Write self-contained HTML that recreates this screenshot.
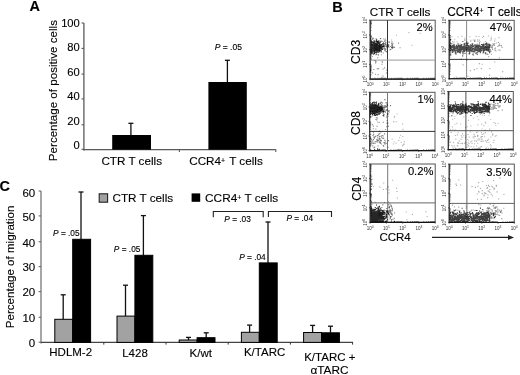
<!DOCTYPE html>
<html><head><meta charset="utf-8"><style>
html,body{margin:0;padding:0;background:#fff;}
svg{display:block;font-family:'Liberation Sans', Arial, Helvetica, sans-serif;}
</style></head><body>
<svg width="520" height="375" viewBox="0 0 520 375">
<rect width="520" height="375" fill="#fff"/>
<text x="29.6" y="10.9" font-size="14.5" text-anchor="start" font-weight="bold" fill="#000" stroke="#000" stroke-width="0.12" >A</text>
<line x1="83.9" y1="23.0" x2="83.9" y2="150.7" stroke="#5a5a5a" stroke-width="1.3"/>
<line x1="81.5" y1="23.0" x2="83.9" y2="23.0" stroke="#5a5a5a" stroke-width="1.1"/>
<text x="79.8" y="27.3" font-size="11.2" text-anchor="end" font-weight="normal" fill="#000" stroke="#000" stroke-width="0.12" >100</text>
<line x1="81.5" y1="48.4" x2="83.9" y2="48.4" stroke="#5a5a5a" stroke-width="1.1"/>
<text x="79.8" y="50.5" font-size="11.2" text-anchor="end" font-weight="normal" fill="#000" stroke="#000" stroke-width="0.12" >80</text>
<line x1="81.5" y1="74.1" x2="83.9" y2="74.1" stroke="#5a5a5a" stroke-width="1.1"/>
<text x="79.8" y="76.2" font-size="11.2" text-anchor="end" font-weight="normal" fill="#000" stroke="#000" stroke-width="0.12" >60</text>
<line x1="81.5" y1="98.9" x2="83.9" y2="98.9" stroke="#5a5a5a" stroke-width="1.1"/>
<text x="79.8" y="100.2" font-size="11.2" text-anchor="end" font-weight="normal" fill="#000" stroke="#000" stroke-width="0.12" >40</text>
<line x1="81.5" y1="124.8" x2="83.9" y2="124.8" stroke="#5a5a5a" stroke-width="1.1"/>
<text x="79.8" y="125.3" font-size="11.2" text-anchor="end" font-weight="normal" fill="#000" stroke="#000" stroke-width="0.12" >20</text>
<line x1="81.5" y1="149.3" x2="83.9" y2="149.3" stroke="#5a5a5a" stroke-width="1.1"/>
<text x="79.8" y="149.3" font-size="11.2" text-anchor="end" font-weight="normal" fill="#000" stroke="#000" stroke-width="0.12" >0</text>
<line x1="83.9" y1="149.7" x2="275.8" y2="149.7" stroke="#5a5a5a" stroke-width="1.3"/>
<line x1="179.4" y1="149.7" x2="179.4" y2="151.89999999999998" stroke="#5a5a5a" stroke-width="1.1"/>
<line x1="275.8" y1="149.2" x2="275.8" y2="151.89999999999998" stroke="#5a5a5a" stroke-width="1.1"/>
<rect x="112.2" y="135.0" width="38.8" height="14.699999999999989" fill="#000" stroke="none" stroke-width="1"/>
<line x1="130.9" y1="123.3" x2="130.9" y2="135" stroke="#111" stroke-width="1.3"/>
<line x1="128.4" y1="123.3" x2="133.4" y2="123.3" stroke="#111" stroke-width="1.3"/>
<rect x="208.4" y="82.0" width="38.4" height="67.69999999999999" fill="#000" stroke="none" stroke-width="1"/>
<line x1="227.4" y1="60.3" x2="227.4" y2="82" stroke="#111" stroke-width="1.3"/>
<line x1="224.9" y1="60.3" x2="229.9" y2="60.3" stroke="#111" stroke-width="1.3"/>
<text x="214.7" y="49.7" font-size="8.5" text-anchor="start" font-weight="normal" fill="#000" stroke="#000" stroke-width="0.12" ><tspan font-style="italic">P</tspan> = .05</text>
<text x="131.7" y="165.3" font-size="11.7" text-anchor="middle" font-weight="normal" fill="#000" stroke="#000" stroke-width="0.12" >CTR T cells</text>
<text x="226.0" y="165.3" font-size="11.7" text-anchor="middle" font-weight="normal" fill="#000" stroke="#000" stroke-width="0.12" >CCR4<tspan font-size="7" dy="-2.7">+</tspan><tspan dy="2.7" dx="1.0"> T cells</tspan></text>
<text x="0" y="0" font-size="11.6" text-anchor="middle" font-weight="normal" fill="#000" stroke="#000" stroke-width="0.12" transform="translate(57.4,90.6) rotate(-90)">Percentage of positive cells</text>
<text x="-0.6" y="190.8" font-size="14.5" text-anchor="start" font-weight="bold" fill="#000" stroke="#000" stroke-width="0.12" >C</text>
<line x1="41.0" y1="191" x2="41.0" y2="343.4" stroke="#888" stroke-width="1.5"/>
<line x1="38.6" y1="191.0" x2="41.0" y2="191.0" stroke="#666" stroke-width="1.1"/>
<text x="35.2" y="197.0" font-size="11.5" text-anchor="end" font-weight="normal" fill="#000" stroke="#000" stroke-width="0.12" >60</text>
<line x1="38.6" y1="215.9" x2="41.0" y2="215.9" stroke="#666" stroke-width="1.1"/>
<text x="35.2" y="221.0" font-size="11.5" text-anchor="end" font-weight="normal" fill="#000" stroke="#000" stroke-width="0.12" >50</text>
<line x1="38.6" y1="241.7" x2="41.0" y2="241.7" stroke="#666" stroke-width="1.1"/>
<text x="35.2" y="247.0" font-size="11.5" text-anchor="end" font-weight="normal" fill="#000" stroke="#000" stroke-width="0.12" >40</text>
<line x1="38.6" y1="266.6" x2="41.0" y2="266.6" stroke="#666" stroke-width="1.1"/>
<text x="35.2" y="271.0" font-size="11.5" text-anchor="end" font-weight="normal" fill="#000" stroke="#000" stroke-width="0.12" >30</text>
<line x1="38.6" y1="291.6" x2="41.0" y2="291.6" stroke="#666" stroke-width="1.1"/>
<text x="35.2" y="295.9" font-size="11.5" text-anchor="end" font-weight="normal" fill="#000" stroke="#000" stroke-width="0.12" >20</text>
<line x1="38.6" y1="317.3" x2="41.0" y2="317.3" stroke="#666" stroke-width="1.1"/>
<text x="35.2" y="322.0" font-size="11.5" text-anchor="end" font-weight="normal" fill="#000" stroke="#000" stroke-width="0.12" >10</text>
<line x1="38.6" y1="342.2" x2="41.0" y2="342.2" stroke="#666" stroke-width="1.1"/>
<text x="35.2" y="346.8" font-size="11.5" text-anchor="end" font-weight="normal" fill="#000" stroke="#000" stroke-width="0.12" >0</text>
<line x1="41.0" y1="342.4" x2="353.0" y2="342.4" stroke="#444" stroke-width="1.2"/>
<line x1="103.80000000000001" y1="342.4" x2="103.80000000000001" y2="344.59999999999997" stroke="#333" stroke-width="1.0"/>
<line x1="166.0" y1="342.4" x2="166.0" y2="344.59999999999997" stroke="#333" stroke-width="1.0"/>
<line x1="228.2" y1="342.4" x2="228.2" y2="344.59999999999997" stroke="#333" stroke-width="1.0"/>
<line x1="290.40000000000003" y1="342.4" x2="290.40000000000003" y2="344.59999999999997" stroke="#333" stroke-width="1.0"/>
<line x1="352.6" y1="342.4" x2="352.6" y2="344.59999999999997" stroke="#333" stroke-width="1.0"/>
<line x1="63.2" y1="294.8" x2="63.2" y2="319.3" stroke="#111" stroke-width="1.3"/>
<line x1="60.7" y1="294.8" x2="65.7" y2="294.8" stroke="#111" stroke-width="1.3"/>
<line x1="81.0" y1="192.0" x2="81.0" y2="239.3" stroke="#111" stroke-width="1.3"/>
<line x1="78.5" y1="192.0" x2="83.5" y2="192.0" stroke="#111" stroke-width="1.3"/>
<rect x="54.800000000000004" y="319.3" width="17.9" height="23.099999999999966" fill="#a2a2a2" stroke="#000" stroke-width="1.0"/>
<rect x="72.7" y="239.3" width="17.9" height="103.09999999999997" fill="#000" stroke="#000" stroke-width="1.0"/>
<line x1="125.5" y1="285.2" x2="125.5" y2="316.1" stroke="#111" stroke-width="1.3"/>
<line x1="123.0" y1="285.2" x2="128.0" y2="285.2" stroke="#111" stroke-width="1.3"/>
<line x1="143.4" y1="215.6" x2="143.4" y2="255.3" stroke="#111" stroke-width="1.3"/>
<line x1="140.9" y1="215.6" x2="145.9" y2="215.6" stroke="#111" stroke-width="1.3"/>
<rect x="117.0" y="316.1" width="17.9" height="26.299999999999955" fill="#a2a2a2" stroke="#000" stroke-width="1.0"/>
<rect x="134.9" y="255.3" width="17.9" height="87.09999999999997" fill="#000" stroke="#000" stroke-width="1.0"/>
<line x1="188.5" y1="337.4" x2="188.5" y2="340.0" stroke="#111" stroke-width="1.3"/>
<line x1="186.0" y1="337.4" x2="191.0" y2="337.4" stroke="#111" stroke-width="1.3"/>
<line x1="206.2" y1="332.8" x2="206.2" y2="337.7" stroke="#111" stroke-width="1.3"/>
<line x1="203.7" y1="332.8" x2="208.7" y2="332.8" stroke="#111" stroke-width="1.3"/>
<rect x="179.20000000000002" y="340.0" width="17.9" height="2.3999999999999773" fill="#a2a2a2" stroke="#000" stroke-width="1.0"/>
<rect x="197.10000000000002" y="337.7" width="17.9" height="4.699999999999989" fill="#000" stroke="#000" stroke-width="1.0"/>
<line x1="249.6" y1="325.1" x2="249.6" y2="332.3" stroke="#111" stroke-width="1.3"/>
<line x1="247.1" y1="325.1" x2="252.1" y2="325.1" stroke="#111" stroke-width="1.3"/>
<line x1="268.0" y1="222.0" x2="268.0" y2="262.9" stroke="#111" stroke-width="1.3"/>
<line x1="265.5" y1="222.0" x2="270.5" y2="222.0" stroke="#111" stroke-width="1.3"/>
<rect x="241.4" y="332.3" width="17.9" height="10.099999999999966" fill="#a2a2a2" stroke="#000" stroke-width="1.0"/>
<rect x="259.3" y="262.9" width="17.9" height="79.5" fill="#000" stroke="#000" stroke-width="1.0"/>
<line x1="312.6" y1="325.4" x2="312.6" y2="332.5" stroke="#111" stroke-width="1.3"/>
<line x1="310.1" y1="325.4" x2="315.1" y2="325.4" stroke="#111" stroke-width="1.3"/>
<line x1="330.5" y1="326.2" x2="330.5" y2="332.8" stroke="#111" stroke-width="1.3"/>
<line x1="328.0" y1="326.2" x2="333.0" y2="326.2" stroke="#111" stroke-width="1.3"/>
<rect x="303.6" y="332.5" width="17.9" height="9.899999999999977" fill="#a2a2a2" stroke="#000" stroke-width="1.0"/>
<rect x="321.5" y="332.8" width="17.9" height="9.599999999999966" fill="#000" stroke="#000" stroke-width="1.0"/>
<rect x="99.2" y="193.8" width="8.4" height="8.4" fill="#a2a2a2" stroke="#222" stroke-width="1.1"/>
<text x="112.5" y="201.7" font-size="11.7" text-anchor="start" font-weight="normal" fill="#000" stroke="#000" stroke-width="0.12" >CTR T cells</text>
<rect x="191.6" y="193.4" width="8.6" height="8.4" fill="#000" stroke="none" stroke-width="1"/>
<text x="205.1" y="201.7" font-size="11.8" text-anchor="start" font-weight="normal" fill="#000" stroke="#000" stroke-width="0.12" >CCR4<tspan font-size="7" dy="-1.6">+</tspan><tspan dy="1.6"> T cells</tspan></text>
<text x="79.6" y="236.3" font-size="8.3" text-anchor="end" font-weight="normal" fill="#000" stroke="#000" stroke-width="0.12" ><tspan font-style="italic">P</tspan> = .05</text>
<text x="140.4" y="252.4" font-size="8.3" text-anchor="end" font-weight="normal" fill="#000" stroke="#000" stroke-width="0.12" ><tspan font-style="italic">P</tspan> = .05</text>
<text x="265.7" y="259.7" font-size="8.3" text-anchor="end" font-weight="normal" fill="#000" stroke="#000" stroke-width="0.12" ><tspan font-style="italic">P</tspan> = .04</text>
<text x="237.6" y="221.8" font-size="8.3" text-anchor="middle" font-weight="normal" fill="#000" stroke="#000" stroke-width="0.12" ><tspan font-style="italic">P</tspan> = .03</text>
<text x="299.8" y="221.0" font-size="8.3" text-anchor="middle" font-weight="normal" fill="#000" stroke="#000" stroke-width="0.12" ><tspan font-style="italic">P</tspan> = .04</text>
<path d="M213.3,217.3 L213.3,211.5 L263.2,211.5 L263.2,217.3" stroke="#222" stroke-width="1.1" fill="none"/>
<path d="M268.4,216.9 L268.4,211.5 L331.5,211.5 L331.5,216.9" stroke="#222" stroke-width="1.1" fill="none"/>
<text x="70.7" y="355.8" font-size="11.5" text-anchor="middle" font-weight="normal" fill="#000" stroke="#000" stroke-width="0.12" >HDLM-2</text>
<text x="135.0" y="356.5" font-size="11.5" text-anchor="middle" font-weight="normal" fill="#000" stroke="#000" stroke-width="0.12" >L428</text>
<text x="200.8" y="356.6" font-size="11.5" text-anchor="middle" font-weight="normal" fill="#000" stroke="#000" stroke-width="0.12" >K/wt</text>
<text x="264.6" y="355.9" font-size="11.5" text-anchor="middle" font-weight="normal" fill="#000" stroke="#000" stroke-width="0.12" >K/TARC</text>
<text x="329.8" y="360.5" font-size="11.5" text-anchor="middle" font-weight="normal" fill="#000" stroke="#000" stroke-width="0.12" >K/TARC +</text>
<text x="329.5" y="374.0" font-size="11.8" text-anchor="middle" font-weight="normal" fill="#000" stroke="#000" stroke-width="0.12" >&#945;TARC</text>
<text x="0" y="0" font-size="11.55" text-anchor="middle" font-weight="normal" fill="#000" stroke="#000" stroke-width="0.12" transform="translate(14.1,266.85) rotate(-90)">Percentage of migration</text>
<text x="332.2" y="11.9" font-size="14.5" text-anchor="start" font-weight="bold" fill="#000" stroke="#000" stroke-width="0.12" >B</text>
<text x="400.1" y="16.3" font-size="11.7" text-anchor="middle" font-weight="normal" fill="#000" stroke="#000" stroke-width="0.12" >CTR T cells</text>
<text x="447.2" y="15.8" font-size="11.9" text-anchor="start" font-weight="normal" fill="#000" stroke="#000" stroke-width="0.12" >CCR4<tspan font-size="7" dy="-2.7">+</tspan><tspan dy="2.7" dx="0.8"> T cells</tspan></text>
<rect x="370.2" y="20.2" width="65.0" height="58.89999999999999" fill="none" stroke="#555" stroke-width="1.0"/>
<line x1="370.2" y1="20.2" x2="370.2" y2="79.1" stroke="#333" stroke-width="1.0"/>
<line x1="370.2" y1="79.1" x2="435.2" y2="79.1" stroke="#111" stroke-width="1.1"/>
<line x1="387.5" y1="20.2" x2="387.5" y2="79.1" stroke="#333" stroke-width="1.0"/>
<line x1="370.2" y1="60.1" x2="435.2" y2="60.1" stroke="#999" stroke-width="1.0"/>
<text x="370.2" y="86.3" font-size="4.5" text-anchor="middle" font-weight="normal" fill="#333" >10<tspan font-size="3.4" dy="-1.8">0</tspan></text>
<text x="0" y="0" font-size="4.5" text-anchor="middle" font-weight="normal" fill="#333" transform="translate(367.2,79.1) rotate(-90)">10<tspan font-size="3.4" dy="-1.8">0</tspan></text>
<line x1="370.2" y1="79.1" x2="370.2" y2="80.3" stroke="#222" stroke-width="0.7"/>
<line x1="369.0" y1="79.1" x2="370.2" y2="79.1" stroke="#222" stroke-width="0.7"/>
<text x="386.45" y="86.3" font-size="4.5" text-anchor="middle" font-weight="normal" fill="#333" >10<tspan font-size="3.4" dy="-1.8">1</tspan></text>
<text x="0" y="0" font-size="4.5" text-anchor="middle" font-weight="normal" fill="#333" transform="translate(367.2,64.375) rotate(-90)">10<tspan font-size="3.4" dy="-1.8">1</tspan></text>
<line x1="386.45" y1="79.1" x2="386.45" y2="80.3" stroke="#222" stroke-width="0.7"/>
<line x1="369.0" y1="64.375" x2="370.2" y2="64.375" stroke="#222" stroke-width="0.7"/>
<text x="402.7" y="86.3" font-size="4.5" text-anchor="middle" font-weight="normal" fill="#333" >10<tspan font-size="3.4" dy="-1.8">2</tspan></text>
<text x="0" y="0" font-size="4.5" text-anchor="middle" font-weight="normal" fill="#333" transform="translate(367.2,49.65) rotate(-90)">10<tspan font-size="3.4" dy="-1.8">2</tspan></text>
<line x1="402.7" y1="79.1" x2="402.7" y2="80.3" stroke="#222" stroke-width="0.7"/>
<line x1="369.0" y1="49.65" x2="370.2" y2="49.65" stroke="#222" stroke-width="0.7"/>
<text x="418.95" y="86.3" font-size="4.5" text-anchor="middle" font-weight="normal" fill="#333" >10<tspan font-size="3.4" dy="-1.8">3</tspan></text>
<text x="0" y="0" font-size="4.5" text-anchor="middle" font-weight="normal" fill="#333" transform="translate(367.2,34.925) rotate(-90)">10<tspan font-size="3.4" dy="-1.8">3</tspan></text>
<line x1="418.95" y1="79.1" x2="418.95" y2="80.3" stroke="#222" stroke-width="0.7"/>
<line x1="369.0" y1="34.925" x2="370.2" y2="34.925" stroke="#222" stroke-width="0.7"/>
<text x="435.2" y="86.3" font-size="4.5" text-anchor="middle" font-weight="normal" fill="#333" >10<tspan font-size="3.4" dy="-1.8">4</tspan></text>
<text x="0" y="0" font-size="4.5" text-anchor="middle" font-weight="normal" fill="#333" transform="translate(367.2,20.200000000000003) rotate(-90)">10<tspan font-size="3.4" dy="-1.8">4</tspan></text>
<line x1="435.2" y1="79.1" x2="435.2" y2="80.3" stroke="#222" stroke-width="0.7"/>
<line x1="369.0" y1="20.200000000000003" x2="370.2" y2="20.200000000000003" stroke="#222" stroke-width="0.7"/>
<path d="M375.1 79.1v-1.4M370.2 74.7h1.4M378.0 79.1v-1.4M370.2 72.1h1.4M380.0 79.1v-1.4M370.2 70.2h1.4M381.6 79.1v-1.4M370.2 68.8h1.4M382.8 79.1v-1.4M370.2 67.6h1.4M383.9 79.1v-1.4M370.2 66.7h1.4M384.9 79.1v-1.4M370.2 65.8h1.4M385.7 79.1v-1.4M370.2 65.0h1.4M391.3 79.1v-1.4M370.2 59.9h1.4M394.2 79.1v-1.4M370.2 57.3h1.4M396.2 79.1v-1.4M370.2 55.5h1.4M397.8 79.1v-1.4M370.2 54.1h1.4M399.1 79.1v-1.4M370.2 52.9h1.4M400.2 79.1v-1.4M370.2 51.9h1.4M401.1 79.1v-1.4M370.2 51.1h1.4M402.0 79.1v-1.4M370.2 50.3h1.4M407.6 79.1v-1.4M370.2 45.2h1.4M410.5 79.1v-1.4M370.2 42.6h1.4M412.5 79.1v-1.4M370.2 40.8h1.4M414.1 79.1v-1.4M370.2 39.4h1.4M415.3 79.1v-1.4M370.2 38.2h1.4M416.4 79.1v-1.4M370.2 37.2h1.4M417.4 79.1v-1.4M370.2 36.4h1.4M418.2 79.1v-1.4M370.2 35.6h1.4M423.8 79.1v-1.4M370.2 30.5h1.4M426.7 79.1v-1.4M370.2 27.9h1.4M428.7 79.1v-1.4M370.2 26.1h1.4M430.3 79.1v-1.4M370.2 24.6h1.4M431.6 79.1v-1.4M370.2 23.5h1.4M432.7 79.1v-1.4M370.2 22.5h1.4M433.6 79.1v-1.4M370.2 21.6h1.4M434.5 79.1v-1.4M370.2 20.9h1.4" stroke="#333" stroke-width="0.6" fill="none"/>
<text x="432.7" y="31.3" font-size="11.2" text-anchor="end" font-weight="normal" fill="#000" stroke="#000" stroke-width="0.12" >2%</text>
<rect x="449.2" y="20.3" width="65.00000000000006" height="58.400000000000006" fill="none" stroke="#555" stroke-width="1.0"/>
<line x1="449.2" y1="20.3" x2="449.2" y2="78.7" stroke="#333" stroke-width="1.0"/>
<line x1="449.2" y1="78.7" x2="514.2" y2="78.7" stroke="#111" stroke-width="1.1"/>
<line x1="466.6" y1="20.3" x2="466.6" y2="78.7" stroke="#888" stroke-width="1.0"/>
<line x1="449.2" y1="59.4" x2="514.2" y2="59.4" stroke="#333" stroke-width="1.0"/>
<text x="449.2" y="85.9" font-size="4.5" text-anchor="middle" font-weight="normal" fill="#333" >10<tspan font-size="3.4" dy="-1.8">0</tspan></text>
<text x="0" y="0" font-size="4.5" text-anchor="middle" font-weight="normal" fill="#333" transform="translate(446.2,78.7) rotate(-90)">10<tspan font-size="3.4" dy="-1.8">0</tspan></text>
<line x1="449.2" y1="78.7" x2="449.2" y2="79.9" stroke="#222" stroke-width="0.7"/>
<line x1="448.0" y1="78.7" x2="449.2" y2="78.7" stroke="#222" stroke-width="0.7"/>
<text x="465.45" y="85.9" font-size="4.5" text-anchor="middle" font-weight="normal" fill="#333" >10<tspan font-size="3.4" dy="-1.8">1</tspan></text>
<text x="0" y="0" font-size="4.5" text-anchor="middle" font-weight="normal" fill="#333" transform="translate(446.2,64.1) rotate(-90)">10<tspan font-size="3.4" dy="-1.8">1</tspan></text>
<line x1="465.45" y1="78.7" x2="465.45" y2="79.9" stroke="#222" stroke-width="0.7"/>
<line x1="448.0" y1="64.1" x2="449.2" y2="64.1" stroke="#222" stroke-width="0.7"/>
<text x="481.70000000000005" y="85.9" font-size="4.5" text-anchor="middle" font-weight="normal" fill="#333" >10<tspan font-size="3.4" dy="-1.8">2</tspan></text>
<text x="0" y="0" font-size="4.5" text-anchor="middle" font-weight="normal" fill="#333" transform="translate(446.2,49.5) rotate(-90)">10<tspan font-size="3.4" dy="-1.8">2</tspan></text>
<line x1="481.70000000000005" y1="78.7" x2="481.70000000000005" y2="79.9" stroke="#222" stroke-width="0.7"/>
<line x1="448.0" y1="49.5" x2="449.2" y2="49.5" stroke="#222" stroke-width="0.7"/>
<text x="497.95000000000005" y="85.9" font-size="4.5" text-anchor="middle" font-weight="normal" fill="#333" >10<tspan font-size="3.4" dy="-1.8">3</tspan></text>
<text x="0" y="0" font-size="4.5" text-anchor="middle" font-weight="normal" fill="#333" transform="translate(446.2,34.9) rotate(-90)">10<tspan font-size="3.4" dy="-1.8">3</tspan></text>
<line x1="497.95000000000005" y1="78.7" x2="497.95000000000005" y2="79.9" stroke="#222" stroke-width="0.7"/>
<line x1="448.0" y1="34.9" x2="449.2" y2="34.9" stroke="#222" stroke-width="0.7"/>
<text x="514.2" y="85.9" font-size="4.5" text-anchor="middle" font-weight="normal" fill="#333" >10<tspan font-size="3.4" dy="-1.8">4</tspan></text>
<text x="0" y="0" font-size="4.5" text-anchor="middle" font-weight="normal" fill="#333" transform="translate(446.2,20.299999999999997) rotate(-90)">10<tspan font-size="3.4" dy="-1.8">4</tspan></text>
<line x1="514.2" y1="78.7" x2="514.2" y2="79.9" stroke="#222" stroke-width="0.7"/>
<line x1="448.0" y1="20.299999999999997" x2="449.2" y2="20.299999999999997" stroke="#222" stroke-width="0.7"/>
<path d="M454.1 78.7v-1.4M449.2 74.3h1.4M457.0 78.7v-1.4M449.2 71.7h1.4M459.0 78.7v-1.4M449.2 69.9h1.4M460.6 78.7v-1.4M449.2 68.5h1.4M461.8 78.7v-1.4M449.2 67.3h1.4M462.9 78.7v-1.4M449.2 66.4h1.4M463.9 78.7v-1.4M449.2 65.5h1.4M464.7 78.7v-1.4M449.2 64.8h1.4M470.3 78.7v-1.4M449.2 59.7h1.4M473.2 78.7v-1.4M449.2 57.1h1.4M475.2 78.7v-1.4M449.2 55.3h1.4M476.8 78.7v-1.4M449.2 53.9h1.4M478.1 78.7v-1.4M449.2 52.7h1.4M479.2 78.7v-1.4M449.2 51.8h1.4M480.1 78.7v-1.4M449.2 50.9h1.4M481.0 78.7v-1.4M449.2 50.2h1.4M486.6 78.7v-1.4M449.2 45.1h1.4M489.5 78.7v-1.4M449.2 42.5h1.4M491.5 78.7v-1.4M449.2 40.7h1.4M493.1 78.7v-1.4M449.2 39.3h1.4M494.3 78.7v-1.4M449.2 38.1h1.4M495.4 78.7v-1.4M449.2 37.2h1.4M496.4 78.7v-1.4M449.2 36.3h1.4M497.2 78.7v-1.4M449.2 35.6h1.4M502.8 78.7v-1.4M449.2 30.5h1.4M505.7 78.7v-1.4M449.2 27.9h1.4M507.7 78.7v-1.4M449.2 26.1h1.4M509.3 78.7v-1.4M449.2 24.7h1.4M510.6 78.7v-1.4M449.2 23.5h1.4M511.7 78.7v-1.4M449.2 22.6h1.4M512.6 78.7v-1.4M449.2 21.7h1.4M513.5 78.7v-1.4M449.2 21.0h1.4" stroke="#333" stroke-width="0.6" fill="none"/>
<text x="512.1" y="31.2" font-size="11.2" text-anchor="end" font-weight="normal" fill="#000" stroke="#000" stroke-width="0.12" >47%</text>
<rect x="369.7" y="92.3" width="65.30000000000001" height="58.3" fill="none" stroke="#555" stroke-width="1.0"/>
<line x1="369.7" y1="92.3" x2="369.7" y2="150.6" stroke="#333" stroke-width="1.0"/>
<line x1="369.7" y1="150.6" x2="435.0" y2="150.6" stroke="#111" stroke-width="1.1"/>
<line x1="387.5" y1="92.3" x2="387.5" y2="150.6" stroke="#777" stroke-width="1.0"/>
<line x1="369.7" y1="131.4" x2="435.0" y2="131.4" stroke="#333" stroke-width="1.0"/>
<text x="369.7" y="157.79999999999998" font-size="4.5" text-anchor="middle" font-weight="normal" fill="#333" >10<tspan font-size="3.4" dy="-1.8">0</tspan></text>
<text x="0" y="0" font-size="4.5" text-anchor="middle" font-weight="normal" fill="#333" transform="translate(366.7,150.6) rotate(-90)">10<tspan font-size="3.4" dy="-1.8">0</tspan></text>
<line x1="369.7" y1="150.6" x2="369.7" y2="151.79999999999998" stroke="#222" stroke-width="0.7"/>
<line x1="368.5" y1="150.6" x2="369.7" y2="150.6" stroke="#222" stroke-width="0.7"/>
<text x="386.025" y="157.79999999999998" font-size="4.5" text-anchor="middle" font-weight="normal" fill="#333" >10<tspan font-size="3.4" dy="-1.8">1</tspan></text>
<text x="0" y="0" font-size="4.5" text-anchor="middle" font-weight="normal" fill="#333" transform="translate(366.7,136.025) rotate(-90)">10<tspan font-size="3.4" dy="-1.8">1</tspan></text>
<line x1="386.025" y1="150.6" x2="386.025" y2="151.79999999999998" stroke="#222" stroke-width="0.7"/>
<line x1="368.5" y1="136.025" x2="369.7" y2="136.025" stroke="#222" stroke-width="0.7"/>
<text x="402.35" y="157.79999999999998" font-size="4.5" text-anchor="middle" font-weight="normal" fill="#333" >10<tspan font-size="3.4" dy="-1.8">2</tspan></text>
<text x="0" y="0" font-size="4.5" text-anchor="middle" font-weight="normal" fill="#333" transform="translate(366.7,121.44999999999999) rotate(-90)">10<tspan font-size="3.4" dy="-1.8">2</tspan></text>
<line x1="402.35" y1="150.6" x2="402.35" y2="151.79999999999998" stroke="#222" stroke-width="0.7"/>
<line x1="368.5" y1="121.44999999999999" x2="369.7" y2="121.44999999999999" stroke="#222" stroke-width="0.7"/>
<text x="418.675" y="157.79999999999998" font-size="4.5" text-anchor="middle" font-weight="normal" fill="#333" >10<tspan font-size="3.4" dy="-1.8">3</tspan></text>
<text x="0" y="0" font-size="4.5" text-anchor="middle" font-weight="normal" fill="#333" transform="translate(366.7,106.875) rotate(-90)">10<tspan font-size="3.4" dy="-1.8">3</tspan></text>
<line x1="418.675" y1="150.6" x2="418.675" y2="151.79999999999998" stroke="#222" stroke-width="0.7"/>
<line x1="368.5" y1="106.875" x2="369.7" y2="106.875" stroke="#222" stroke-width="0.7"/>
<text x="435.0" y="157.79999999999998" font-size="4.5" text-anchor="middle" font-weight="normal" fill="#333" >10<tspan font-size="3.4" dy="-1.8">4</tspan></text>
<text x="0" y="0" font-size="4.5" text-anchor="middle" font-weight="normal" fill="#333" transform="translate(366.7,92.3) rotate(-90)">10<tspan font-size="3.4" dy="-1.8">4</tspan></text>
<line x1="435.0" y1="150.6" x2="435.0" y2="151.79999999999998" stroke="#222" stroke-width="0.7"/>
<line x1="368.5" y1="92.3" x2="369.7" y2="92.3" stroke="#222" stroke-width="0.7"/>
<path d="M374.6 150.6v-1.4M369.7 146.2h1.4M377.5 150.6v-1.4M369.7 143.6h1.4M379.5 150.6v-1.4M369.7 141.8h1.4M381.1 150.6v-1.4M369.7 140.4h1.4M382.4 150.6v-1.4M369.7 139.3h1.4M383.5 150.6v-1.4M369.7 138.3h1.4M384.4 150.6v-1.4M369.7 137.4h1.4M385.3 150.6v-1.4M369.7 136.7h1.4M390.9 150.6v-1.4M369.7 131.6h1.4M393.8 150.6v-1.4M369.7 129.1h1.4M395.9 150.6v-1.4M369.7 127.2h1.4M397.4 150.6v-1.4M369.7 125.8h1.4M398.7 150.6v-1.4M369.7 124.7h1.4M399.8 150.6v-1.4M369.7 123.7h1.4M400.8 150.6v-1.4M369.7 122.9h1.4M401.6 150.6v-1.4M369.7 122.1h1.4M407.3 150.6v-1.4M369.7 117.1h1.4M410.1 150.6v-1.4M369.7 114.5h1.4M412.2 150.6v-1.4M369.7 112.7h1.4M413.8 150.6v-1.4M369.7 111.3h1.4M415.1 150.6v-1.4M369.7 110.1h1.4M416.1 150.6v-1.4M369.7 109.1h1.4M417.1 150.6v-1.4M369.7 108.3h1.4M417.9 150.6v-1.4M369.7 107.5h1.4M423.6 150.6v-1.4M369.7 102.5h1.4M426.5 150.6v-1.4M369.7 99.9h1.4M428.5 150.6v-1.4M369.7 98.1h1.4M430.1 150.6v-1.4M369.7 96.7h1.4M431.4 150.6v-1.4M369.7 95.5h1.4M432.5 150.6v-1.4M369.7 94.6h1.4M433.4 150.6v-1.4M369.7 93.7h1.4M434.3 150.6v-1.4M369.7 93.0h1.4" stroke="#333" stroke-width="0.6" fill="none"/>
<text x="433.7" y="103.2" font-size="11.2" text-anchor="end" font-weight="normal" fill="#000" stroke="#000" stroke-width="0.12" >1%</text>
<rect x="448.3" y="91.5" width="64.99999999999994" height="58.099999999999994" fill="none" stroke="#555" stroke-width="1.0"/>
<line x1="448.3" y1="91.5" x2="448.3" y2="149.6" stroke="#333" stroke-width="1.0"/>
<line x1="448.3" y1="149.6" x2="513.3" y2="149.6" stroke="#111" stroke-width="1.1"/>
<line x1="465.9" y1="91.5" x2="465.9" y2="149.6" stroke="#555" stroke-width="1.0"/>
<line x1="448.3" y1="130.7" x2="513.3" y2="130.7" stroke="#555" stroke-width="1.0"/>
<text x="448.3" y="156.79999999999998" font-size="4.5" text-anchor="middle" font-weight="normal" fill="#333" >10<tspan font-size="3.4" dy="-1.8">0</tspan></text>
<text x="0" y="0" font-size="4.5" text-anchor="middle" font-weight="normal" fill="#333" transform="translate(445.3,149.6) rotate(-90)">10<tspan font-size="3.4" dy="-1.8">0</tspan></text>
<line x1="448.3" y1="149.6" x2="448.3" y2="150.79999999999998" stroke="#222" stroke-width="0.7"/>
<line x1="447.1" y1="149.6" x2="448.3" y2="149.6" stroke="#222" stroke-width="0.7"/>
<text x="464.55" y="156.79999999999998" font-size="4.5" text-anchor="middle" font-weight="normal" fill="#333" >10<tspan font-size="3.4" dy="-1.8">1</tspan></text>
<text x="0" y="0" font-size="4.5" text-anchor="middle" font-weight="normal" fill="#333" transform="translate(445.3,135.075) rotate(-90)">10<tspan font-size="3.4" dy="-1.8">1</tspan></text>
<line x1="464.55" y1="149.6" x2="464.55" y2="150.79999999999998" stroke="#222" stroke-width="0.7"/>
<line x1="447.1" y1="135.075" x2="448.3" y2="135.075" stroke="#222" stroke-width="0.7"/>
<text x="480.79999999999995" y="156.79999999999998" font-size="4.5" text-anchor="middle" font-weight="normal" fill="#333" >10<tspan font-size="3.4" dy="-1.8">2</tspan></text>
<text x="0" y="0" font-size="4.5" text-anchor="middle" font-weight="normal" fill="#333" transform="translate(445.3,120.55) rotate(-90)">10<tspan font-size="3.4" dy="-1.8">2</tspan></text>
<line x1="480.79999999999995" y1="149.6" x2="480.79999999999995" y2="150.79999999999998" stroke="#222" stroke-width="0.7"/>
<line x1="447.1" y1="120.55" x2="448.3" y2="120.55" stroke="#222" stroke-width="0.7"/>
<text x="497.04999999999995" y="156.79999999999998" font-size="4.5" text-anchor="middle" font-weight="normal" fill="#333" >10<tspan font-size="3.4" dy="-1.8">3</tspan></text>
<text x="0" y="0" font-size="4.5" text-anchor="middle" font-weight="normal" fill="#333" transform="translate(445.3,106.025) rotate(-90)">10<tspan font-size="3.4" dy="-1.8">3</tspan></text>
<line x1="497.04999999999995" y1="149.6" x2="497.04999999999995" y2="150.79999999999998" stroke="#222" stroke-width="0.7"/>
<line x1="447.1" y1="106.025" x2="448.3" y2="106.025" stroke="#222" stroke-width="0.7"/>
<text x="513.3" y="156.79999999999998" font-size="4.5" text-anchor="middle" font-weight="normal" fill="#333" >10<tspan font-size="3.4" dy="-1.8">4</tspan></text>
<text x="0" y="0" font-size="4.5" text-anchor="middle" font-weight="normal" fill="#333" transform="translate(445.3,91.5) rotate(-90)">10<tspan font-size="3.4" dy="-1.8">4</tspan></text>
<line x1="513.3" y1="149.6" x2="513.3" y2="150.79999999999998" stroke="#222" stroke-width="0.7"/>
<line x1="447.1" y1="91.5" x2="448.3" y2="91.5" stroke="#222" stroke-width="0.7"/>
<path d="M453.2 149.6v-1.4M448.3 145.2h1.4M456.1 149.6v-1.4M448.3 142.7h1.4M458.1 149.6v-1.4M448.3 140.9h1.4M459.7 149.6v-1.4M448.3 139.4h1.4M460.9 149.6v-1.4M448.3 138.3h1.4M462.0 149.6v-1.4M448.3 137.3h1.4M463.0 149.6v-1.4M448.3 136.5h1.4M463.8 149.6v-1.4M448.3 135.7h1.4M469.4 149.6v-1.4M448.3 130.7h1.4M472.3 149.6v-1.4M448.3 128.1h1.4M474.3 149.6v-1.4M448.3 126.3h1.4M475.9 149.6v-1.4M448.3 124.9h1.4M477.2 149.6v-1.4M448.3 123.8h1.4M478.3 149.6v-1.4M448.3 122.8h1.4M479.2 149.6v-1.4M448.3 122.0h1.4M480.1 149.6v-1.4M448.3 121.2h1.4M485.7 149.6v-1.4M448.3 116.2h1.4M488.6 149.6v-1.4M448.3 113.6h1.4M490.6 149.6v-1.4M448.3 111.8h1.4M492.2 149.6v-1.4M448.3 110.4h1.4M493.4 149.6v-1.4M448.3 109.2h1.4M494.5 149.6v-1.4M448.3 108.3h1.4M495.5 149.6v-1.4M448.3 107.4h1.4M496.3 149.6v-1.4M448.3 106.7h1.4M501.9 149.6v-1.4M448.3 101.7h1.4M504.8 149.6v-1.4M448.3 99.1h1.4M506.8 149.6v-1.4M448.3 97.3h1.4M508.4 149.6v-1.4M448.3 95.9h1.4M509.7 149.6v-1.4M448.3 94.7h1.4M510.8 149.6v-1.4M448.3 93.7h1.4M511.7 149.6v-1.4M448.3 92.9h1.4M512.6 149.6v-1.4M448.3 92.2h1.4" stroke="#333" stroke-width="0.6" fill="none"/>
<text x="511.99999999999994" y="102.7" font-size="11.2" text-anchor="end" font-weight="normal" fill="#000" stroke="#000" stroke-width="0.12" >44%</text>
<rect x="370.2" y="164.0" width="65.0" height="58.400000000000006" fill="none" stroke="#555" stroke-width="1.0"/>
<line x1="370.2" y1="164.0" x2="370.2" y2="222.4" stroke="#333" stroke-width="1.0"/>
<line x1="370.2" y1="222.4" x2="435.2" y2="222.4" stroke="#111" stroke-width="1.1"/>
<line x1="387.7" y1="164.0" x2="387.7" y2="222.4" stroke="#777" stroke-width="1.0"/>
<line x1="370.2" y1="202.9" x2="435.2" y2="202.9" stroke="#666" stroke-width="1.0"/>
<text x="370.2" y="229.6" font-size="4.5" text-anchor="middle" font-weight="normal" fill="#333" >10<tspan font-size="3.4" dy="-1.8">0</tspan></text>
<text x="0" y="0" font-size="4.5" text-anchor="middle" font-weight="normal" fill="#333" transform="translate(367.2,222.4) rotate(-90)">10<tspan font-size="3.4" dy="-1.8">0</tspan></text>
<line x1="370.2" y1="222.4" x2="370.2" y2="223.6" stroke="#222" stroke-width="0.7"/>
<line x1="369.0" y1="222.4" x2="370.2" y2="222.4" stroke="#222" stroke-width="0.7"/>
<text x="386.45" y="229.6" font-size="4.5" text-anchor="middle" font-weight="normal" fill="#333" >10<tspan font-size="3.4" dy="-1.8">1</tspan></text>
<text x="0" y="0" font-size="4.5" text-anchor="middle" font-weight="normal" fill="#333" transform="translate(367.2,207.8) rotate(-90)">10<tspan font-size="3.4" dy="-1.8">1</tspan></text>
<line x1="386.45" y1="222.4" x2="386.45" y2="223.6" stroke="#222" stroke-width="0.7"/>
<line x1="369.0" y1="207.8" x2="370.2" y2="207.8" stroke="#222" stroke-width="0.7"/>
<text x="402.7" y="229.6" font-size="4.5" text-anchor="middle" font-weight="normal" fill="#333" >10<tspan font-size="3.4" dy="-1.8">2</tspan></text>
<text x="0" y="0" font-size="4.5" text-anchor="middle" font-weight="normal" fill="#333" transform="translate(367.2,193.2) rotate(-90)">10<tspan font-size="3.4" dy="-1.8">2</tspan></text>
<line x1="402.7" y1="222.4" x2="402.7" y2="223.6" stroke="#222" stroke-width="0.7"/>
<line x1="369.0" y1="193.2" x2="370.2" y2="193.2" stroke="#222" stroke-width="0.7"/>
<text x="418.95" y="229.6" font-size="4.5" text-anchor="middle" font-weight="normal" fill="#333" >10<tspan font-size="3.4" dy="-1.8">3</tspan></text>
<text x="0" y="0" font-size="4.5" text-anchor="middle" font-weight="normal" fill="#333" transform="translate(367.2,178.6) rotate(-90)">10<tspan font-size="3.4" dy="-1.8">3</tspan></text>
<line x1="418.95" y1="222.4" x2="418.95" y2="223.6" stroke="#222" stroke-width="0.7"/>
<line x1="369.0" y1="178.6" x2="370.2" y2="178.6" stroke="#222" stroke-width="0.7"/>
<text x="435.2" y="229.6" font-size="4.5" text-anchor="middle" font-weight="normal" fill="#333" >10<tspan font-size="3.4" dy="-1.8">4</tspan></text>
<text x="0" y="0" font-size="4.5" text-anchor="middle" font-weight="normal" fill="#333" transform="translate(367.2,164.0) rotate(-90)">10<tspan font-size="3.4" dy="-1.8">4</tspan></text>
<line x1="435.2" y1="222.4" x2="435.2" y2="223.6" stroke="#222" stroke-width="0.7"/>
<line x1="369.0" y1="164.0" x2="370.2" y2="164.0" stroke="#222" stroke-width="0.7"/>
<path d="M375.1 222.4v-1.4M370.2 218.0h1.4M378.0 222.4v-1.4M370.2 215.4h1.4M380.0 222.4v-1.4M370.2 213.6h1.4M381.6 222.4v-1.4M370.2 212.2h1.4M382.8 222.4v-1.4M370.2 211.0h1.4M383.9 222.4v-1.4M370.2 210.1h1.4M384.9 222.4v-1.4M370.2 209.2h1.4M385.7 222.4v-1.4M370.2 208.5h1.4M391.3 222.4v-1.4M370.2 203.4h1.4M394.2 222.4v-1.4M370.2 200.8h1.4M396.2 222.4v-1.4M370.2 199.0h1.4M397.8 222.4v-1.4M370.2 197.6h1.4M399.1 222.4v-1.4M370.2 196.4h1.4M400.2 222.4v-1.4M370.2 195.5h1.4M401.1 222.4v-1.4M370.2 194.6h1.4M402.0 222.4v-1.4M370.2 193.9h1.4M407.6 222.4v-1.4M370.2 188.8h1.4M410.5 222.4v-1.4M370.2 186.2h1.4M412.5 222.4v-1.4M370.2 184.4h1.4M414.1 222.4v-1.4M370.2 183.0h1.4M415.3 222.4v-1.4M370.2 181.8h1.4M416.4 222.4v-1.4M370.2 180.9h1.4M417.4 222.4v-1.4M370.2 180.0h1.4M418.2 222.4v-1.4M370.2 179.3h1.4M423.8 222.4v-1.4M370.2 174.2h1.4M426.7 222.4v-1.4M370.2 171.6h1.4M428.7 222.4v-1.4M370.2 169.8h1.4M430.3 222.4v-1.4M370.2 168.4h1.4M431.6 222.4v-1.4M370.2 167.2h1.4M432.7 222.4v-1.4M370.2 166.3h1.4M433.6 222.4v-1.4M370.2 165.4h1.4M434.5 222.4v-1.4M370.2 164.7h1.4" stroke="#333" stroke-width="0.6" fill="none"/>
<text x="433.4" y="175.2" font-size="11.2" text-anchor="end" font-weight="normal" fill="#000" stroke="#000" stroke-width="0.12" >0.2%</text>
<rect x="449.2" y="164.1" width="65.09999999999997" height="58.400000000000006" fill="none" stroke="#555" stroke-width="1.0"/>
<line x1="449.2" y1="164.1" x2="449.2" y2="222.5" stroke="#333" stroke-width="1.0"/>
<line x1="449.2" y1="222.5" x2="514.3" y2="222.5" stroke="#111" stroke-width="1.1"/>
<line x1="466.9" y1="164.1" x2="466.9" y2="222.5" stroke="#666" stroke-width="1.0"/>
<line x1="449.2" y1="203.4" x2="514.3" y2="203.4" stroke="#666" stroke-width="1.0"/>
<text x="449.2" y="229.7" font-size="4.5" text-anchor="middle" font-weight="normal" fill="#333" >10<tspan font-size="3.4" dy="-1.8">0</tspan></text>
<text x="0" y="0" font-size="4.5" text-anchor="middle" font-weight="normal" fill="#333" transform="translate(446.2,222.5) rotate(-90)">10<tspan font-size="3.4" dy="-1.8">0</tspan></text>
<line x1="449.2" y1="222.5" x2="449.2" y2="223.7" stroke="#222" stroke-width="0.7"/>
<line x1="448.0" y1="222.5" x2="449.2" y2="222.5" stroke="#222" stroke-width="0.7"/>
<text x="465.47499999999997" y="229.7" font-size="4.5" text-anchor="middle" font-weight="normal" fill="#333" >10<tspan font-size="3.4" dy="-1.8">1</tspan></text>
<text x="0" y="0" font-size="4.5" text-anchor="middle" font-weight="normal" fill="#333" transform="translate(446.2,207.9) rotate(-90)">10<tspan font-size="3.4" dy="-1.8">1</tspan></text>
<line x1="465.47499999999997" y1="222.5" x2="465.47499999999997" y2="223.7" stroke="#222" stroke-width="0.7"/>
<line x1="448.0" y1="207.9" x2="449.2" y2="207.9" stroke="#222" stroke-width="0.7"/>
<text x="481.75" y="229.7" font-size="4.5" text-anchor="middle" font-weight="normal" fill="#333" >10<tspan font-size="3.4" dy="-1.8">2</tspan></text>
<text x="0" y="0" font-size="4.5" text-anchor="middle" font-weight="normal" fill="#333" transform="translate(446.2,193.3) rotate(-90)">10<tspan font-size="3.4" dy="-1.8">2</tspan></text>
<line x1="481.75" y1="222.5" x2="481.75" y2="223.7" stroke="#222" stroke-width="0.7"/>
<line x1="448.0" y1="193.3" x2="449.2" y2="193.3" stroke="#222" stroke-width="0.7"/>
<text x="498.025" y="229.7" font-size="4.5" text-anchor="middle" font-weight="normal" fill="#333" >10<tspan font-size="3.4" dy="-1.8">3</tspan></text>
<text x="0" y="0" font-size="4.5" text-anchor="middle" font-weight="normal" fill="#333" transform="translate(446.2,178.7) rotate(-90)">10<tspan font-size="3.4" dy="-1.8">3</tspan></text>
<line x1="498.025" y1="222.5" x2="498.025" y2="223.7" stroke="#222" stroke-width="0.7"/>
<line x1="448.0" y1="178.7" x2="449.2" y2="178.7" stroke="#222" stroke-width="0.7"/>
<text x="514.3" y="229.7" font-size="4.5" text-anchor="middle" font-weight="normal" fill="#333" >10<tspan font-size="3.4" dy="-1.8">4</tspan></text>
<text x="0" y="0" font-size="4.5" text-anchor="middle" font-weight="normal" fill="#333" transform="translate(446.2,164.1) rotate(-90)">10<tspan font-size="3.4" dy="-1.8">4</tspan></text>
<line x1="514.3" y1="222.5" x2="514.3" y2="223.7" stroke="#222" stroke-width="0.7"/>
<line x1="448.0" y1="164.1" x2="449.2" y2="164.1" stroke="#222" stroke-width="0.7"/>
<path d="M454.1 222.5v-1.4M449.2 218.1h1.4M457.0 222.5v-1.4M449.2 215.5h1.4M459.0 222.5v-1.4M449.2 213.7h1.4M460.6 222.5v-1.4M449.2 212.3h1.4M461.9 222.5v-1.4M449.2 211.1h1.4M463.0 222.5v-1.4M449.2 210.2h1.4M463.9 222.5v-1.4M449.2 209.3h1.4M464.7 222.5v-1.4M449.2 208.6h1.4M470.4 222.5v-1.4M449.2 203.5h1.4M473.2 222.5v-1.4M449.2 200.9h1.4M475.3 222.5v-1.4M449.2 199.1h1.4M476.9 222.5v-1.4M449.2 197.7h1.4M478.1 222.5v-1.4M449.2 196.5h1.4M479.2 222.5v-1.4M449.2 195.6h1.4M480.2 222.5v-1.4M449.2 194.7h1.4M481.0 222.5v-1.4M449.2 194.0h1.4M486.6 222.5v-1.4M449.2 188.9h1.4M489.5 222.5v-1.4M449.2 186.3h1.4M491.5 222.5v-1.4M449.2 184.5h1.4M493.1 222.5v-1.4M449.2 183.1h1.4M494.4 222.5v-1.4M449.2 181.9h1.4M495.5 222.5v-1.4M449.2 181.0h1.4M496.4 222.5v-1.4M449.2 180.1h1.4M497.3 222.5v-1.4M449.2 179.4h1.4M502.9 222.5v-1.4M449.2 174.3h1.4M505.8 222.5v-1.4M449.2 171.7h1.4M507.8 222.5v-1.4M449.2 169.9h1.4M509.4 222.5v-1.4M449.2 168.5h1.4M510.7 222.5v-1.4M449.2 167.3h1.4M511.8 222.5v-1.4M449.2 166.4h1.4M512.7 222.5v-1.4M449.2 165.5h1.4M513.6 222.5v-1.4M449.2 164.8h1.4" stroke="#333" stroke-width="0.6" fill="none"/>
<text x="511.69999999999993" y="175.8" font-size="11.2" text-anchor="end" font-weight="normal" fill="#000" stroke="#000" stroke-width="0.12" >3.5%</text>
<path fill="#000" fill-opacity="0.8" d="M374.0 45.0h1.1v1.1h-1.1zM375.0 44.6h1.1v1.1h-1.1zM373.0 46.5h1.1v1.1h-1.1zM370.7 43.8h1.1v1.1h-1.1zM372.3 48.3h1.1v1.1h-1.1zM370.6 46.4h1.1v1.1h-1.1zM374.2 47.3h1.1v1.1h-1.1zM378.8 46.2h1.1v1.1h-1.1zM372.2 44.7h1.1v1.1h-1.1zM371.7 44.1h1.1v1.1h-1.1zM375.7 46.0h1.1v1.1h-1.1zM375.2 45.2h1.1v1.1h-1.1zM374.3 47.3h1.1v1.1h-1.1zM370.6 46.6h1.1v1.1h-1.1zM373.8 43.0h1.1v1.1h-1.1zM376.5 46.8h1.1v1.1h-1.1zM370.6 43.0h1.1v1.1h-1.1zM372.3 45.0h1.1v1.1h-1.1zM370.6 45.9h1.1v1.1h-1.1zM370.6 41.0h1.1v1.1h-1.1zM370.6 46.9h1.1v1.1h-1.1zM373.1 47.1h1.1v1.1h-1.1zM370.6 46.2h1.1v1.1h-1.1zM374.9 45.5h1.1v1.1h-1.1zM374.5 45.6h1.1v1.1h-1.1zM373.3 44.0h1.1v1.1h-1.1zM370.6 45.9h1.1v1.1h-1.1zM372.0 45.2h1.1v1.1h-1.1zM373.8 46.9h1.1v1.1h-1.1zM374.4 43.4h1.1v1.1h-1.1zM370.6 47.3h1.1v1.1h-1.1zM372.2 47.0h1.1v1.1h-1.1zM370.6 46.3h1.1v1.1h-1.1zM371.0 45.5h1.1v1.1h-1.1zM377.8 48.1h1.1v1.1h-1.1zM371.0 42.2h1.1v1.1h-1.1zM373.8 47.9h1.1v1.1h-1.1zM377.1 47.3h1.1v1.1h-1.1zM371.8 47.4h1.1v1.1h-1.1zM373.5 47.7h1.1v1.1h-1.1zM374.3 44.9h1.1v1.1h-1.1zM374.2 45.9h1.1v1.1h-1.1zM370.6 48.4h1.1v1.1h-1.1zM374.2 47.8h1.1v1.1h-1.1zM378.8 47.2h1.1v1.1h-1.1zM370.6 42.6h1.1v1.1h-1.1zM377.0 48.1h1.1v1.1h-1.1zM374.4 49.8h1.1v1.1h-1.1zM371.6 49.4h1.1v1.1h-1.1zM381.2 47.3h1.1v1.1h-1.1zM376.7 42.4h1.1v1.1h-1.1zM370.6 49.2h1.1v1.1h-1.1zM374.2 46.3h1.1v1.1h-1.1zM376.0 39.8h1.1v1.1h-1.1zM373.3 47.7h1.1v1.1h-1.1zM376.4 42.6h1.1v1.1h-1.1zM373.7 43.1h1.1v1.1h-1.1zM376.4 44.9h1.1v1.1h-1.1zM379.1 50.1h1.1v1.1h-1.1zM371.5 45.6h1.1v1.1h-1.1zM374.7 47.4h1.1v1.1h-1.1zM372.3 51.4h1.1v1.1h-1.1zM374.4 51.0h1.1v1.1h-1.1zM370.6 46.4h1.1v1.1h-1.1zM371.9 46.0h1.1v1.1h-1.1zM373.2 43.2h1.1v1.1h-1.1zM377.2 44.8h1.1v1.1h-1.1zM378.1 47.8h1.1v1.1h-1.1zM370.6 47.7h1.1v1.1h-1.1zM371.1 46.9h1.1v1.1h-1.1zM376.3 49.3h1.1v1.1h-1.1zM370.6 44.6h1.1v1.1h-1.1zM372.3 46.5h1.1v1.1h-1.1zM373.6 48.6h1.1v1.1h-1.1zM378.5 48.2h1.1v1.1h-1.1zM376.4 49.5h1.1v1.1h-1.1zM372.8 47.7h1.1v1.1h-1.1zM372.6 45.8h1.1v1.1h-1.1zM373.0 47.6h1.1v1.1h-1.1zM379.4 43.9h1.1v1.1h-1.1zM372.4 42.2h1.1v1.1h-1.1zM372.9 48.2h1.1v1.1h-1.1zM375.2 46.5h1.1v1.1h-1.1zM373.5 47.5h1.1v1.1h-1.1zM373.2 42.1h1.1v1.1h-1.1zM370.6 45.7h1.1v1.1h-1.1zM373.9 45.0h1.1v1.1h-1.1zM372.4 44.3h1.1v1.1h-1.1zM378.1 40.6h1.1v1.1h-1.1zM376.3 45.7h1.1v1.1h-1.1zM373.9 49.1h1.1v1.1h-1.1zM376.4 47.7h1.1v1.1h-1.1zM372.7 45.0h1.1v1.1h-1.1zM377.7 46.6h1.1v1.1h-1.1zM373.9 48.7h1.1v1.1h-1.1zM376.1 39.2h1.1v1.1h-1.1zM370.6 46.3h1.1v1.1h-1.1zM375.2 48.1h1.1v1.1h-1.1zM370.6 48.5h1.1v1.1h-1.1zM370.6 51.2h1.1v1.1h-1.1zM372.9 49.7h1.1v1.1h-1.1zM370.7 47.5h1.1v1.1h-1.1zM374.5 47.5h1.1v1.1h-1.1zM382.0 48.8h1.1v1.1h-1.1zM371.0 45.2h1.1v1.1h-1.1zM371.7 46.5h1.1v1.1h-1.1zM374.7 49.1h1.1v1.1h-1.1zM375.7 51.9h1.1v1.1h-1.1zM373.3 46.2h1.1v1.1h-1.1zM373.2 46.5h1.1v1.1h-1.1zM376.5 47.2h1.1v1.1h-1.1zM375.8 50.3h1.1v1.1h-1.1zM370.6 46.6h1.1v1.1h-1.1zM373.7 50.6h1.1v1.1h-1.1zM374.1 44.0h1.1v1.1h-1.1zM370.6 46.1h1.1v1.1h-1.1zM374.9 46.1h1.1v1.1h-1.1zM370.9 48.8h1.1v1.1h-1.1zM377.4 49.5h1.1v1.1h-1.1zM374.6 42.6h1.1v1.1h-1.1zM374.3 44.2h1.1v1.1h-1.1zM371.8 47.6h1.1v1.1h-1.1zM373.5 44.9h1.1v1.1h-1.1zM370.6 42.5h1.1v1.1h-1.1zM370.6 49.5h1.1v1.1h-1.1zM375.3 48.0h1.1v1.1h-1.1zM370.6 48.0h1.1v1.1h-1.1zM377.0 45.4h1.1v1.1h-1.1zM370.6 49.4h1.1v1.1h-1.1zM376.7 46.0h1.1v1.1h-1.1zM370.9 49.6h1.1v1.1h-1.1zM376.8 44.2h1.1v1.1h-1.1zM374.4 44.3h1.1v1.1h-1.1zM370.6 47.2h1.1v1.1h-1.1zM378.4 44.8h1.1v1.1h-1.1zM379.1 48.5h1.1v1.1h-1.1zM373.7 47.4h1.1v1.1h-1.1zM373.0 44.2h1.1v1.1h-1.1zM373.4 46.8h1.1v1.1h-1.1zM370.6 45.7h1.1v1.1h-1.1zM377.9 49.1h1.1v1.1h-1.1zM372.0 44.9h1.1v1.1h-1.1zM373.8 45.5h1.1v1.1h-1.1zM371.1 49.9h1.1v1.1h-1.1zM371.7 52.7h1.1v1.1h-1.1zM370.6 52.0h1.1v1.1h-1.1zM378.5 46.8h1.1v1.1h-1.1zM373.4 47.2h1.1v1.1h-1.1zM377.4 50.8h1.1v1.1h-1.1zM374.0 46.3h1.1v1.1h-1.1zM371.5 44.0h1.1v1.1h-1.1zM372.8 47.0h1.1v1.1h-1.1zM371.9 47.9h1.1v1.1h-1.1zM374.0 44.4h1.1v1.1h-1.1zM372.6 42.2h1.1v1.1h-1.1zM372.9 42.8h1.1v1.1h-1.1zM370.6 48.4h1.1v1.1h-1.1zM371.0 44.6h1.1v1.1h-1.1zM379.9 46.3h1.1v1.1h-1.1zM371.5 47.2h1.1v1.1h-1.1zM370.6 48.3h1.1v1.1h-1.1zM375.2 45.7h1.1v1.1h-1.1zM379.0 48.0h1.1v1.1h-1.1zM370.6 44.2h1.1v1.1h-1.1zM373.2 45.7h1.1v1.1h-1.1zM371.7 43.9h1.1v1.1h-1.1zM370.6 49.7h1.1v1.1h-1.1zM376.6 46.6h1.1v1.1h-1.1zM373.9 44.7h1.1v1.1h-1.1zM374.2 45.7h1.1v1.1h-1.1zM371.2 46.1h1.1v1.1h-1.1zM375.6 48.5h1.1v1.1h-1.1zM372.0 42.3h1.1v1.1h-1.1zM373.4 43.8h1.1v1.1h-1.1zM370.6 45.6h1.1v1.1h-1.1zM370.6 53.5h1.1v1.1h-1.1zM378.8 49.2h1.1v1.1h-1.1zM372.1 46.3h1.1v1.1h-1.1zM375.0 48.6h1.1v1.1h-1.1zM373.8 52.2h1.1v1.1h-1.1zM372.4 46.0h1.1v1.1h-1.1zM372.1 45.7h1.1v1.1h-1.1zM376.2 49.9h1.1v1.1h-1.1zM372.9 48.0h1.1v1.1h-1.1zM373.4 48.5h1.1v1.1h-1.1zM374.0 45.3h1.1v1.1h-1.1zM378.2 51.8h1.1v1.1h-1.1zM376.4 51.3h1.1v1.1h-1.1zM375.3 48.2h1.1v1.1h-1.1zM371.9 48.5h1.1v1.1h-1.1zM370.6 41.2h1.1v1.1h-1.1zM377.4 48.4h1.1v1.1h-1.1zM377.4 46.1h1.1v1.1h-1.1zM373.4 47.8h1.1v1.1h-1.1zM375.9 48.5h1.1v1.1h-1.1zM376.8 45.7h1.1v1.1h-1.1zM376.9 42.1h1.1v1.1h-1.1zM377.3 47.6h1.1v1.1h-1.1zM372.3 44.6h1.1v1.1h-1.1zM379.4 45.8h1.1v1.1h-1.1zM370.6 45.0h1.1v1.1h-1.1zM377.1 45.7h1.1v1.1h-1.1zM375.7 40.4h1.1v1.1h-1.1zM377.1 49.9h1.1v1.1h-1.1zM380.7 47.3h1.1v1.1h-1.1zM379.3 49.7h1.1v1.1h-1.1zM370.6 52.0h1.1v1.1h-1.1zM370.6 46.7h1.1v1.1h-1.1zM376.9 41.8h1.1v1.1h-1.1zM370.6 44.2h1.1v1.1h-1.1zM373.9 43.4h1.1v1.1h-1.1zM377.0 45.3h1.1v1.1h-1.1zM370.6 46.9h1.1v1.1h-1.1zM370.6 41.2h1.1v1.1h-1.1zM374.9 47.6h1.1v1.1h-1.1zM374.1 42.6h1.1v1.1h-1.1zM373.1 47.5h1.1v1.1h-1.1zM374.1 46.4h1.1v1.1h-1.1zM370.9 45.8h1.1v1.1h-1.1zM370.6 46.5h1.1v1.1h-1.1zM373.4 45.2h1.1v1.1h-1.1zM370.6 45.0h1.1v1.1h-1.1zM370.6 42.1h1.1v1.1h-1.1zM375.8 46.6h1.1v1.1h-1.1zM373.7 51.6h1.1v1.1h-1.1zM375.4 52.0h1.1v1.1h-1.1zM370.6 50.2h1.1v1.1h-1.1zM371.6 48.6h1.1v1.1h-1.1zM370.6 44.8h1.1v1.1h-1.1zM370.8 50.5h1.1v1.1h-1.1zM374.7 46.5h1.1v1.1h-1.1zM371.1 46.5h1.1v1.1h-1.1zM375.2 45.9h1.1v1.1h-1.1zM375.2 46.9h1.1v1.1h-1.1zM381.2 45.5h1.1v1.1h-1.1zM370.6 46.4h1.1v1.1h-1.1zM377.1 43.7h1.1v1.1h-1.1zM373.6 45.6h1.1v1.1h-1.1zM373.9 52.8h1.1v1.1h-1.1zM370.6 46.5h1.1v1.1h-1.1zM372.3 46.0h1.1v1.1h-1.1zM376.6 48.1h1.1v1.1h-1.1zM373.7 48.6h1.1v1.1h-1.1zM374.2 43.6h1.1v1.1h-1.1zM372.9 46.1h1.1v1.1h-1.1zM378.1 49.1h1.1v1.1h-1.1zM373.9 47.4h1.1v1.1h-1.1zM370.6 47.0h1.1v1.1h-1.1zM371.5 50.8h1.1v1.1h-1.1zM370.6 44.8h1.1v1.1h-1.1zM370.6 46.9h1.1v1.1h-1.1zM372.0 45.2h1.1v1.1h-1.1zM378.8 50.7h1.1v1.1h-1.1zM374.1 41.4h1.1v1.1h-1.1zM370.6 44.8h1.1v1.1h-1.1zM370.6 45.2h1.1v1.1h-1.1zM378.0 48.4h1.1v1.1h-1.1zM374.5 48.3h1.1v1.1h-1.1zM374.1 50.4h1.1v1.1h-1.1zM373.8 42.4h1.1v1.1h-1.1zM374.1 48.7h1.1v1.1h-1.1zM376.8 45.9h1.1v1.1h-1.1zM375.9 44.9h1.1v1.1h-1.1zM374.7 48.1h1.1v1.1h-1.1zM370.6 44.2h1.1v1.1h-1.1zM375.8 41.0h1.1v1.1h-1.1zM371.5 45.7h1.1v1.1h-1.1zM377.9 42.6h1.1v1.1h-1.1zM370.6 44.9h1.1v1.1h-1.1zM373.5 47.7h1.1v1.1h-1.1zM373.9 47.5h1.1v1.1h-1.1zM370.6 50.9h1.1v1.1h-1.1zM380.1 46.1h1.1v1.1h-1.1zM379.2 42.5h1.1v1.1h-1.1zM372.3 44.6h1.1v1.1h-1.1zM376.7 44.2h1.1v1.1h-1.1zM375.3 43.4h1.1v1.1h-1.1zM370.6 47.8h1.1v1.1h-1.1zM374.9 44.9h1.1v1.1h-1.1zM373.7 41.3h1.1v1.1h-1.1zM374.2 48.5h1.1v1.1h-1.1zM370.6 46.3h1.1v1.1h-1.1zM373.0 47.6h1.1v1.1h-1.1zM373.3 46.9h1.1v1.1h-1.1zM378.2 48.4h1.1v1.1h-1.1zM375.2 46.8h1.1v1.1h-1.1zM373.9 50.0h1.1v1.1h-1.1zM379.5 47.8h1.1v1.1h-1.1zM372.0 47.7h1.1v1.1h-1.1zM372.5 47.8h1.1v1.1h-1.1zM370.6 42.7h1.1v1.1h-1.1zM379.6 46.2h1.1v1.1h-1.1zM377.4 45.9h1.1v1.1h-1.1zM377.3 47.2h1.1v1.1h-1.1zM376.4 43.0h1.1v1.1h-1.1zM374.3 51.1h1.1v1.1h-1.1zM374.7 46.9h1.1v1.1h-1.1zM373.0 43.4h1.1v1.1h-1.1zM373.2 42.0h1.1v1.1h-1.1zM374.1 45.9h1.1v1.1h-1.1zM379.4 46.4h1.1v1.1h-1.1zM376.0 44.7h1.1v1.1h-1.1zM373.7 46.9h1.1v1.1h-1.1zM371.9 44.9h1.1v1.1h-1.1zM371.7 48.1h1.1v1.1h-1.1zM379.7 44.7h1.1v1.1h-1.1zM375.8 46.5h1.1v1.1h-1.1zM374.2 49.3h1.1v1.1h-1.1zM372.7 53.6h1.1v1.1h-1.1zM370.6 43.9h1.1v1.1h-1.1zM373.7 45.4h1.1v1.1h-1.1zM377.1 44.4h1.1v1.1h-1.1zM372.5 48.8h1.1v1.1h-1.1zM373.1 43.6h1.1v1.1h-1.1zM373.2 45.3h1.1v1.1h-1.1zM374.3 46.6h1.1v1.1h-1.1zM370.6 44.0h1.1v1.1h-1.1zM373.1 44.1h1.1v1.1h-1.1zM370.9 45.4h1.1v1.1h-1.1zM377.1 41.0h1.1v1.1h-1.1zM371.2 42.7h1.1v1.1h-1.1zM376.0 45.5h1.1v1.1h-1.1zM379.4 47.1h1.1v1.1h-1.1zM372.8 46.1h1.1v1.1h-1.1zM371.8 41.9h1.1v1.1h-1.1zM374.6 45.4h1.1v1.1h-1.1zM373.9 48.8h1.1v1.1h-1.1zM370.6 48.2h1.1v1.1h-1.1zM375.6 46.4h1.1v1.1h-1.1zM381.2 44.3h1.1v1.1h-1.1zM373.0 48.4h1.1v1.1h-1.1zM373.2 45.1h1.1v1.1h-1.1zM370.6 43.5h1.1v1.1h-1.1zM375.1 44.5h1.1v1.1h-1.1zM370.6 50.6h1.1v1.1h-1.1zM370.6 47.2h1.1v1.1h-1.1zM378.6 49.8h1.1v1.1h-1.1zM370.7 45.4h1.1v1.1h-1.1zM377.8 49.2h1.1v1.1h-1.1zM379.4 45.0h1.1v1.1h-1.1zM374.9 46.2h1.1v1.1h-1.1zM375.9 53.4h1.1v1.1h-1.1zM381.0 48.7h1.1v1.1h-1.1zM373.2 45.3h1.1v1.1h-1.1zM371.8 46.4h1.1v1.1h-1.1zM370.6 47.5h1.1v1.1h-1.1zM374.1 49.9h1.1v1.1h-1.1zM379.3 45.3h1.1v1.1h-1.1zM377.4 41.9h1.1v1.1h-1.1zM370.6 45.9h1.1v1.1h-1.1zM370.9 46.7h1.1v1.1h-1.1zM372.1 46.9h1.1v1.1h-1.1zM375.0 50.2h1.1v1.1h-1.1zM373.2 47.5h1.1v1.1h-1.1zM374.7 48.8h1.1v1.1h-1.1zM375.0 43.7h1.1v1.1h-1.1zM372.9 49.0h1.1v1.1h-1.1zM373.8 52.3h1.1v1.1h-1.1zM374.7 48.7h1.1v1.1h-1.1zM373.6 47.3h1.1v1.1h-1.1zM375.8 47.1h1.1v1.1h-1.1zM380.7 51.5h1.1v1.1h-1.1zM376.1 44.1h1.1v1.1h-1.1zM374.2 46.4h1.1v1.1h-1.1zM370.6 47.9h1.1v1.1h-1.1zM375.3 48.7h1.1v1.1h-1.1zM370.6 45.5h1.1v1.1h-1.1zM370.6 47.5h1.1v1.1h-1.1zM377.0 45.9h1.1v1.1h-1.1zM376.5 47.0h1.1v1.1h-1.1zM373.4 46.3h1.1v1.1h-1.1zM370.6 43.6h1.1v1.1h-1.1zM372.6 46.6h1.1v1.1h-1.1zM371.5 49.0h1.1v1.1h-1.1zM376.2 44.0h1.1v1.1h-1.1zM382.1 46.0h1.1v1.1h-1.1zM374.7 48.4h1.1v1.1h-1.1zM371.1 43.8h1.1v1.1h-1.1zM370.6 47.1h1.1v1.1h-1.1zM373.7 43.8h1.1v1.1h-1.1zM373.3 49.7h1.1v1.1h-1.1zM370.6 52.9h1.1v1.1h-1.1zM374.4 52.1h1.1v1.1h-1.1zM370.6 46.1h1.1v1.1h-1.1zM378.0 48.6h1.1v1.1h-1.1zM377.8 47.0h1.1v1.1h-1.1zM377.9 46.9h1.1v1.1h-1.1zM372.2 50.8h1.1v1.1h-1.1zM375.8 43.1h1.1v1.1h-1.1zM373.5 49.5h1.1v1.1h-1.1zM372.6 46.5h1.1v1.1h-1.1zM372.7 50.5h1.1v1.1h-1.1zM370.6 47.2h1.1v1.1h-1.1zM370.6 44.8h1.1v1.1h-1.1zM376.8 47.4h1.1v1.1h-1.1zM373.3 48.6h1.1v1.1h-1.1zM374.7 46.7h1.1v1.1h-1.1zM377.6 48.0h1.1v1.1h-1.1zM370.6 45.2h1.1v1.1h-1.1zM371.1 40.9h1.1v1.1h-1.1zM374.6 49.1h1.1v1.1h-1.1zM375.4 48.5h1.1v1.1h-1.1zM372.6 47.1h1.1v1.1h-1.1zM377.7 46.8h1.1v1.1h-1.1zM374.7 49.4h1.1v1.1h-1.1zM370.6 45.4h1.1v1.1h-1.1zM370.6 44.7h1.1v1.1h-1.1zM376.8 46.1h1.1v1.1h-1.1zM375.6 49.9h1.1v1.1h-1.1zM370.6 42.9h1.1v1.1h-1.1zM378.8 49.9h1.1v1.1h-1.1zM376.1 44.9h1.1v1.1h-1.1zM378.8 43.7h1.1v1.1h-1.1zM372.6 50.1h1.1v1.1h-1.1zM372.9 46.4h1.1v1.1h-1.1zM370.6 43.1h1.1v1.1h-1.1zM383.1 45.7h1.1v1.1h-1.1zM373.3 49.2h1.1v1.1h-1.1zM379.7 49.9h1.1v1.1h-1.1zM371.6 45.5h1.1v1.1h-1.1zM374.5 47.7h1.1v1.1h-1.1zM370.6 48.6h1.1v1.1h-1.1zM372.6 44.9h1.1v1.1h-1.1zM377.5 47.6h1.1v1.1h-1.1zM370.6 46.6h1.1v1.1h-1.1zM377.8 45.2h1.1v1.1h-1.1zM375.2 45.3h1.1v1.1h-1.1zM370.6 46.8h1.1v1.1h-1.1zM372.1 46.7h1.1v1.1h-1.1zM372.3 45.1h1.1v1.1h-1.1zM373.8 45.5h1.1v1.1h-1.1zM372.0 49.7h1.1v1.1h-1.1zM371.0 47.2h1.1v1.1h-1.1zM372.9 49.0h1.1v1.1h-1.1zM370.6 49.9h1.1v1.1h-1.1zM370.6 48.2h1.1v1.1h-1.1zM373.8 52.8h1.1v1.1h-1.1zM377.1 44.4h1.1v1.1h-1.1zM370.6 48.8h1.1v1.1h-1.1zM374.0 45.8h1.1v1.1h-1.1zM371.6 51.7h1.1v1.1h-1.1zM370.6 51.2h1.1v1.1h-1.1zM377.0 41.4h1.1v1.1h-1.1zM372.1 44.0h1.1v1.1h-1.1zM379.3 48.4h1.1v1.1h-1.1zM371.1 48.8h1.1v1.1h-1.1zM375.3 48.6h1.1v1.1h-1.1zM373.1 46.5h1.1v1.1h-1.1zM371.2 47.9h1.1v1.1h-1.1zM376.1 48.4h1.1v1.1h-1.1zM373.4 46.4h1.1v1.1h-1.1zM376.1 49.4h1.1v1.1h-1.1zM373.8 40.5h1.1v1.1h-1.1zM370.6 48.4h1.1v1.1h-1.1zM373.6 43.9h1.1v1.1h-1.1zM374.1 49.2h1.1v1.1h-1.1zM377.4 46.0h1.1v1.1h-1.1zM370.7 44.3h1.1v1.1h-1.1zM373.8 47.7h1.1v1.1h-1.1zM370.6 44.2h1.1v1.1h-1.1zM376.3 44.2h1.1v1.1h-1.1zM370.6 42.4h1.1v1.1h-1.1zM370.6 46.6h1.1v1.1h-1.1zM373.7 48.0h1.1v1.1h-1.1zM377.9 49.4h1.1v1.1h-1.1zM370.6 46.3h1.1v1.1h-1.1zM370.6 49.5h1.1v1.1h-1.1zM371.3 46.7h1.1v1.1h-1.1zM370.6 46.4h1.1v1.1h-1.1zM375.3 48.2h1.1v1.1h-1.1zM371.0 49.5h1.1v1.1h-1.1zM371.4 45.7h1.1v1.1h-1.1zM376.0 46.0h1.1v1.1h-1.1zM371.2 46.2h1.1v1.1h-1.1zM375.5 46.9h1.1v1.1h-1.1zM370.6 44.2h1.1v1.1h-1.1zM370.6 49.4h1.1v1.1h-1.1zM370.6 45.6h1.1v1.1h-1.1zM380.7 47.9h1.1v1.1h-1.1zM372.8 44.4h1.1v1.1h-1.1zM374.8 47.6h1.1v1.1h-1.1zM373.8 47.7h1.1v1.1h-1.1zM374.5 45.5h1.1v1.1h-1.1zM374.1 52.1h1.1v1.1h-1.1zM380.8 47.7h1.1v1.1h-1.1zM370.6 51.4h1.1v1.1h-1.1zM370.6 49.2h1.1v1.1h-1.1zM370.6 44.9h1.1v1.1h-1.1zM370.6 45.6h1.1v1.1h-1.1zM376.6 47.8h1.1v1.1h-1.1zM376.9 46.8h1.1v1.1h-1.1zM370.6 46.8h1.1v1.1h-1.1zM370.6 45.9h1.1v1.1h-1.1zM372.7 41.8h1.1v1.1h-1.1zM379.0 46.0h1.1v1.1h-1.1zM370.6 40.7h1.1v1.1h-1.1zM375.8 47.7h1.1v1.1h-1.1zM370.6 44.7h1.1v1.1h-1.1zM377.7 44.7h1.1v1.1h-1.1zM370.6 46.1h1.1v1.1h-1.1zM372.9 47.4h1.1v1.1h-1.1zM370.6 42.8h1.1v1.1h-1.1zM370.6 41.9h1.1v1.1h-1.1zM378.9 43.8h1.1v1.1h-1.1zM376.9 41.1h1.1v1.1h-1.1zM372.5 44.0h1.1v1.1h-1.1zM370.8 50.9h1.1v1.1h-1.1zM370.6 43.8h1.1v1.1h-1.1zM372.5 48.4h1.1v1.1h-1.1zM373.8 42.9h1.1v1.1h-1.1zM373.6 47.5h1.1v1.1h-1.1zM373.6 45.8h1.1v1.1h-1.1zM370.6 46.5h1.1v1.1h-1.1zM373.7 48.2h1.1v1.1h-1.1zM373.8 51.4h1.1v1.1h-1.1zM378.6 47.2h1.1v1.1h-1.1zM380.7 47.0h1.1v1.1h-1.1zM373.5 44.0h1.1v1.1h-1.1zM371.2 48.2h1.1v1.1h-1.1zM373.7 46.0h1.1v1.1h-1.1zM484.4 105.8h1.1v1.1h-1.1zM459.3 110.1h1.1v1.1h-1.1zM462.6 108.8h1.1v1.1h-1.1zM474.0 108.0h1.1v1.1h-1.1zM472.1 108.4h1.1v1.1h-1.1zM480.2 111.4h1.1v1.1h-1.1zM481.5 107.3h1.1v1.1h-1.1zM460.5 111.9h1.1v1.1h-1.1zM452.8 110.9h1.1v1.1h-1.1zM478.7 107.9h1.1v1.1h-1.1zM476.4 109.9h1.1v1.1h-1.1zM459.3 107.9h1.1v1.1h-1.1zM450.1 106.3h1.1v1.1h-1.1zM448.7 107.6h1.1v1.1h-1.1zM458.1 106.2h1.1v1.1h-1.1zM459.2 109.3h1.1v1.1h-1.1zM456.4 108.2h1.1v1.1h-1.1zM449.9 109.4h1.1v1.1h-1.1zM454.9 110.0h1.1v1.1h-1.1zM462.3 101.3h1.1v1.1h-1.1zM451.6 108.8h1.1v1.1h-1.1zM456.4 104.2h1.1v1.1h-1.1zM466.0 108.5h1.1v1.1h-1.1zM483.1 105.6h1.1v1.1h-1.1zM484.1 107.7h1.1v1.1h-1.1zM464.6 111.2h1.1v1.1h-1.1zM453.0 104.4h1.1v1.1h-1.1zM459.0 108.6h1.1v1.1h-1.1zM475.9 107.8h1.1v1.1h-1.1zM464.7 104.0h1.1v1.1h-1.1zM471.5 109.6h1.1v1.1h-1.1zM478.5 107.9h1.1v1.1h-1.1zM475.2 106.9h1.1v1.1h-1.1zM483.6 105.9h1.1v1.1h-1.1zM451.3 115.2h1.1v1.1h-1.1zM460.1 107.3h1.1v1.1h-1.1zM449.2 104.2h1.1v1.1h-1.1zM469.5 106.1h1.1v1.1h-1.1zM473.4 107.3h1.1v1.1h-1.1zM458.3 107.3h1.1v1.1h-1.1zM450.1 108.0h1.1v1.1h-1.1zM467.1 105.8h1.1v1.1h-1.1zM454.7 109.3h1.1v1.1h-1.1zM455.9 107.1h1.1v1.1h-1.1zM463.7 105.2h1.1v1.1h-1.1zM487.2 105.5h1.1v1.1h-1.1zM462.8 107.3h1.1v1.1h-1.1zM477.3 109.7h1.1v1.1h-1.1zM463.3 109.2h1.1v1.1h-1.1zM464.6 107.4h1.1v1.1h-1.1zM453.6 108.2h1.1v1.1h-1.1zM455.4 108.6h1.1v1.1h-1.1zM479.9 112.2h1.1v1.1h-1.1zM465.6 106.8h1.1v1.1h-1.1zM459.6 109.2h1.1v1.1h-1.1zM488.9 108.8h1.1v1.1h-1.1zM484.4 105.4h1.1v1.1h-1.1zM458.8 108.6h1.1v1.1h-1.1zM465.9 108.5h1.1v1.1h-1.1zM471.4 107.1h1.1v1.1h-1.1zM454.7 109.4h1.1v1.1h-1.1zM465.6 110.4h1.1v1.1h-1.1zM459.6 110.6h1.1v1.1h-1.1zM481.5 107.2h1.1v1.1h-1.1zM451.7 108.6h1.1v1.1h-1.1zM489.1 112.3h1.1v1.1h-1.1zM457.6 105.7h1.1v1.1h-1.1zM461.6 108.6h1.1v1.1h-1.1zM450.9 110.1h1.1v1.1h-1.1zM485.8 107.7h1.1v1.1h-1.1zM482.3 109.0h1.1v1.1h-1.1zM450.6 108.5h1.1v1.1h-1.1zM469.8 109.8h1.1v1.1h-1.1zM464.0 111.0h1.1v1.1h-1.1zM473.0 107.6h1.1v1.1h-1.1zM461.8 108.6h1.1v1.1h-1.1zM487.6 107.1h1.1v1.1h-1.1zM456.8 107.3h1.1v1.1h-1.1zM482.0 107.6h1.1v1.1h-1.1zM458.9 105.7h1.1v1.1h-1.1zM474.8 109.7h1.1v1.1h-1.1zM465.6 111.9h1.1v1.1h-1.1zM469.7 111.9h1.1v1.1h-1.1zM469.5 111.0h1.1v1.1h-1.1zM473.9 106.0h1.1v1.1h-1.1zM450.6 111.5h1.1v1.1h-1.1zM450.2 106.6h1.1v1.1h-1.1zM488.2 107.1h1.1v1.1h-1.1zM458.3 112.2h1.1v1.1h-1.1zM462.6 105.8h1.1v1.1h-1.1zM457.7 110.0h1.1v1.1h-1.1zM474.7 108.7h1.1v1.1h-1.1zM488.8 106.9h1.1v1.1h-1.1zM464.5 106.2h1.1v1.1h-1.1zM461.1 109.1h1.1v1.1h-1.1zM462.3 107.1h1.1v1.1h-1.1zM448.9 110.4h1.1v1.1h-1.1zM451.5 110.8h1.1v1.1h-1.1zM449.8 105.1h1.1v1.1h-1.1zM461.3 107.0h1.1v1.1h-1.1zM488.8 106.5h1.1v1.1h-1.1zM453.6 105.6h1.1v1.1h-1.1zM470.6 105.7h1.1v1.1h-1.1zM456.4 108.3h1.1v1.1h-1.1zM449.3 107.7h1.1v1.1h-1.1zM482.7 103.9h1.1v1.1h-1.1zM453.1 107.0h1.1v1.1h-1.1zM453.4 109.3h1.1v1.1h-1.1zM481.8 105.0h1.1v1.1h-1.1zM457.9 106.1h1.1v1.1h-1.1zM456.0 111.6h1.1v1.1h-1.1zM487.1 110.2h1.1v1.1h-1.1zM455.9 104.6h1.1v1.1h-1.1zM482.4 104.6h1.1v1.1h-1.1zM460.5 109.0h1.1v1.1h-1.1zM471.3 105.5h1.1v1.1h-1.1zM460.7 107.6h1.1v1.1h-1.1zM461.9 107.2h1.1v1.1h-1.1zM486.6 108.5h1.1v1.1h-1.1zM485.6 101.8h1.1v1.1h-1.1zM455.0 103.3h1.1v1.1h-1.1zM478.0 105.1h1.1v1.1h-1.1zM453.6 110.4h1.1v1.1h-1.1zM460.2 107.8h1.1v1.1h-1.1zM450.7 104.4h1.1v1.1h-1.1zM474.8 109.1h1.1v1.1h-1.1zM478.0 109.4h1.1v1.1h-1.1zM478.9 107.2h1.1v1.1h-1.1zM480.0 107.0h1.1v1.1h-1.1zM464.2 109.1h1.1v1.1h-1.1zM455.1 110.8h1.1v1.1h-1.1zM466.1 109.3h1.1v1.1h-1.1zM486.7 107.2h1.1v1.1h-1.1zM466.5 107.3h1.1v1.1h-1.1zM473.4 106.1h1.1v1.1h-1.1zM486.0 107.9h1.1v1.1h-1.1zM483.7 106.8h1.1v1.1h-1.1zM478.6 107.3h1.1v1.1h-1.1zM472.5 110.2h1.1v1.1h-1.1zM457.4 109.2h1.1v1.1h-1.1zM479.0 109.7h1.1v1.1h-1.1zM465.2 104.7h1.1v1.1h-1.1zM477.2 109.1h1.1v1.1h-1.1zM457.1 106.9h1.1v1.1h-1.1zM487.0 105.5h1.1v1.1h-1.1zM454.6 106.3h1.1v1.1h-1.1zM480.7 110.3h1.1v1.1h-1.1zM484.9 109.2h1.1v1.1h-1.1zM454.1 106.6h1.1v1.1h-1.1zM483.8 105.0h1.1v1.1h-1.1zM474.6 108.1h1.1v1.1h-1.1zM472.9 107.1h1.1v1.1h-1.1zM458.3 111.8h1.1v1.1h-1.1zM461.4 104.9h1.1v1.1h-1.1zM457.6 104.1h1.1v1.1h-1.1zM466.2 107.6h1.1v1.1h-1.1zM474.8 108.1h1.1v1.1h-1.1zM478.1 108.1h1.1v1.1h-1.1zM477.2 109.5h1.1v1.1h-1.1zM462.2 112.7h1.1v1.1h-1.1zM461.8 107.4h1.1v1.1h-1.1zM479.6 106.5h1.1v1.1h-1.1zM488.4 103.3h1.1v1.1h-1.1zM457.0 108.7h1.1v1.1h-1.1zM465.0 110.0h1.1v1.1h-1.1zM459.3 107.6h1.1v1.1h-1.1zM488.4 109.8h1.1v1.1h-1.1zM448.4 108.2h1.1v1.1h-1.1zM485.0 110.7h1.1v1.1h-1.1zM479.8 108.5h1.1v1.1h-1.1zM461.6 105.8h1.1v1.1h-1.1zM476.1 106.5h1.1v1.1h-1.1zM463.2 104.8h1.1v1.1h-1.1zM474.3 104.2h1.1v1.1h-1.1zM465.5 108.7h1.1v1.1h-1.1zM485.9 109.3h1.1v1.1h-1.1zM466.8 112.4h1.1v1.1h-1.1zM481.6 107.5h1.1v1.1h-1.1zM471.8 107.6h1.1v1.1h-1.1zM463.3 105.7h1.1v1.1h-1.1zM488.1 109.4h1.1v1.1h-1.1zM455.9 109.0h1.1v1.1h-1.1zM485.6 106.1h1.1v1.1h-1.1zM488.7 108.7h1.1v1.1h-1.1zM483.2 108.8h1.1v1.1h-1.1zM473.2 104.0h1.1v1.1h-1.1zM473.7 109.7h1.1v1.1h-1.1zM486.5 107.6h1.1v1.1h-1.1zM465.8 107.3h1.1v1.1h-1.1zM482.1 106.7h1.1v1.1h-1.1zM480.1 111.6h1.1v1.1h-1.1zM483.6 110.9h1.1v1.1h-1.1zM466.1 112.2h1.1v1.1h-1.1zM475.0 105.5h1.1v1.1h-1.1zM451.6 106.7h1.1v1.1h-1.1zM450.8 110.1h1.1v1.1h-1.1zM452.2 105.5h1.1v1.1h-1.1zM478.4 106.2h1.1v1.1h-1.1zM462.6 104.2h1.1v1.1h-1.1zM485.6 111.5h1.1v1.1h-1.1zM451.1 110.5h1.1v1.1h-1.1zM454.9 109.2h1.1v1.1h-1.1zM482.6 108.0h1.1v1.1h-1.1zM465.2 107.2h1.1v1.1h-1.1zM456.9 107.3h1.1v1.1h-1.1zM480.3 109.1h1.1v1.1h-1.1zM457.5 106.6h1.1v1.1h-1.1zM488.3 109.9h1.1v1.1h-1.1zM459.2 107.1h1.1v1.1h-1.1zM483.6 105.6h1.1v1.1h-1.1zM467.7 111.0h1.1v1.1h-1.1zM486.8 107.0h1.1v1.1h-1.1zM460.1 109.4h1.1v1.1h-1.1zM486.3 106.4h1.1v1.1h-1.1zM460.4 103.2h1.1v1.1h-1.1zM466.4 109.4h1.1v1.1h-1.1zM474.1 105.1h1.1v1.1h-1.1zM470.9 110.5h1.1v1.1h-1.1zM475.7 104.6h1.1v1.1h-1.1zM476.8 103.8h1.1v1.1h-1.1zM458.9 108.8h1.1v1.1h-1.1zM477.9 108.1h1.1v1.1h-1.1zM472.8 105.5h1.1v1.1h-1.1zM471.2 110.1h1.1v1.1h-1.1zM468.4 104.9h1.1v1.1h-1.1zM486.5 106.3h1.1v1.1h-1.1zM460.1 106.4h1.1v1.1h-1.1zM485.8 106.5h1.1v1.1h-1.1zM454.8 110.0h1.1v1.1h-1.1zM476.7 106.5h1.1v1.1h-1.1zM487.0 108.5h1.1v1.1h-1.1zM454.2 109.7h1.1v1.1h-1.1zM479.9 104.0h1.1v1.1h-1.1zM459.1 105.6h1.1v1.1h-1.1zM450.2 107.3h1.1v1.1h-1.1zM465.7 106.8h1.1v1.1h-1.1zM476.9 108.6h1.1v1.1h-1.1zM459.6 103.9h1.1v1.1h-1.1zM487.4 108.9h1.1v1.1h-1.1zM458.9 107.8h1.1v1.1h-1.1zM462.0 105.1h1.1v1.1h-1.1zM463.2 108.2h1.1v1.1h-1.1zM460.2 107.0h1.1v1.1h-1.1zM448.6 109.4h1.1v1.1h-1.1zM456.5 108.0h1.1v1.1h-1.1zM458.7 109.8h1.1v1.1h-1.1zM475.8 107.0h1.1v1.1h-1.1zM463.5 111.3h1.1v1.1h-1.1zM477.9 102.8h1.1v1.1h-1.1zM466.2 105.9h1.1v1.1h-1.1zM462.0 109.2h1.1v1.1h-1.1zM454.4 104.8h1.1v1.1h-1.1zM457.3 109.8h1.1v1.1h-1.1zM485.3 104.7h1.1v1.1h-1.1zM466.7 108.4h1.1v1.1h-1.1zM460.8 106.1h1.1v1.1h-1.1zM456.9 107.2h1.1v1.1h-1.1zM484.3 107.8h1.1v1.1h-1.1zM477.1 107.7h1.1v1.1h-1.1zM476.7 107.1h1.1v1.1h-1.1zM481.3 112.4h1.1v1.1h-1.1zM457.8 108.2h1.1v1.1h-1.1zM478.2 105.7h1.1v1.1h-1.1zM450.7 110.2h1.1v1.1h-1.1zM475.5 109.8h1.1v1.1h-1.1zM461.2 110.8h1.1v1.1h-1.1zM475.3 111.9h1.1v1.1h-1.1zM457.2 106.1h1.1v1.1h-1.1zM462.5 110.5h1.1v1.1h-1.1zM475.7 110.5h1.1v1.1h-1.1zM486.9 107.3h1.1v1.1h-1.1zM462.0 108.7h1.1v1.1h-1.1zM454.8 101.5h1.1v1.1h-1.1zM452.9 106.9h1.1v1.1h-1.1zM475.7 111.9h1.1v1.1h-1.1zM485.0 103.5h1.1v1.1h-1.1zM448.5 107.0h1.1v1.1h-1.1zM462.1 108.8h1.1v1.1h-1.1zM454.8 109.4h1.1v1.1h-1.1zM487.6 110.9h1.1v1.1h-1.1zM453.3 104.3h1.1v1.1h-1.1zM450.6 108.2h1.1v1.1h-1.1zM479.8 109.6h1.1v1.1h-1.1zM489.4 104.3h1.1v1.1h-1.1zM480.0 107.6h1.1v1.1h-1.1zM452.5 112.3h1.1v1.1h-1.1zM464.8 111.0h1.1v1.1h-1.1zM469.4 109.3h1.1v1.1h-1.1zM485.2 101.7h1.1v1.1h-1.1zM479.2 107.5h1.1v1.1h-1.1zM450.3 109.0h1.1v1.1h-1.1zM466.6 107.5h1.1v1.1h-1.1zM480.2 107.6h1.1v1.1h-1.1zM470.4 114.9h1.1v1.1h-1.1zM475.6 107.5h1.1v1.1h-1.1zM488.1 105.1h1.1v1.1h-1.1zM488.6 107.7h1.1v1.1h-1.1zM482.6 106.9h1.1v1.1h-1.1zM471.6 107.5h1.1v1.1h-1.1zM460.6 108.0h1.1v1.1h-1.1zM454.4 109.9h1.1v1.1h-1.1zM454.7 108.7h1.1v1.1h-1.1zM474.5 105.4h1.1v1.1h-1.1zM480.0 107.4h1.1v1.1h-1.1zM483.6 108.5h1.1v1.1h-1.1zM485.9 106.3h1.1v1.1h-1.1zM459.8 110.7h1.1v1.1h-1.1zM461.7 109.9h1.1v1.1h-1.1zM455.9 106.0h1.1v1.1h-1.1zM470.4 108.9h1.1v1.1h-1.1zM487.2 111.6h1.1v1.1h-1.1zM479.3 111.2h1.1v1.1h-1.1zM466.0 108.0h1.1v1.1h-1.1zM454.4 110.1h1.1v1.1h-1.1zM482.9 106.1h1.1v1.1h-1.1zM485.1 104.2h1.1v1.1h-1.1zM479.8 108.9h1.1v1.1h-1.1zM459.9 108.7h1.1v1.1h-1.1zM464.0 109.3h1.1v1.1h-1.1zM472.1 108.1h1.1v1.1h-1.1zM486.0 108.1h1.1v1.1h-1.1zM457.9 107.0h1.1v1.1h-1.1zM465.3 109.2h1.1v1.1h-1.1zM450.3 110.0h1.1v1.1h-1.1zM457.9 109.9h1.1v1.1h-1.1zM481.5 103.7h1.1v1.1h-1.1zM475.9 106.2h1.1v1.1h-1.1zM467.6 111.3h1.1v1.1h-1.1zM464.8 112.0h1.1v1.1h-1.1zM458.8 108.7h1.1v1.1h-1.1zM479.7 107.5h1.1v1.1h-1.1zM468.1 105.4h1.1v1.1h-1.1zM450.7 108.9h1.1v1.1h-1.1zM473.9 109.8h1.1v1.1h-1.1zM489.2 103.9h1.1v1.1h-1.1zM450.8 109.4h1.1v1.1h-1.1zM489.3 108.2h1.1v1.1h-1.1zM451.9 109.1h1.1v1.1h-1.1zM460.6 105.7h1.1v1.1h-1.1zM488.5 108.4h1.1v1.1h-1.1zM488.3 103.9h1.1v1.1h-1.1zM455.4 111.4h1.1v1.1h-1.1zM477.8 108.1h1.1v1.1h-1.1zM473.3 105.6h1.1v1.1h-1.1zM464.3 111.1h1.1v1.1h-1.1zM480.4 110.2h1.1v1.1h-1.1zM474.2 106.6h1.1v1.1h-1.1zM457.1 113.0h1.1v1.1h-1.1zM468.2 105.9h1.1v1.1h-1.1zM477.3 108.6h1.1v1.1h-1.1zM473.7 110.7h1.1v1.1h-1.1zM470.4 103.2h1.1v1.1h-1.1zM478.5 110.0h1.1v1.1h-1.1zM453.4 108.0h1.1v1.1h-1.1zM449.5 108.1h1.1v1.1h-1.1zM449.1 105.8h1.1v1.1h-1.1zM473.6 108.8h1.1v1.1h-1.1zM465.9 105.7h1.1v1.1h-1.1zM482.6 105.4h1.1v1.1h-1.1zM488.3 106.2h1.1v1.1h-1.1zM452.4 105.4h1.1v1.1h-1.1zM463.5 111.6h1.1v1.1h-1.1zM465.2 105.2h1.1v1.1h-1.1zM470.5 106.5h1.1v1.1h-1.1zM485.7 106.7h1.1v1.1h-1.1zM472.8 108.2h1.1v1.1h-1.1zM460.5 109.9h1.1v1.1h-1.1zM475.4 109.8h1.1v1.1h-1.1zM461.5 107.5h1.1v1.1h-1.1zM470.9 107.3h1.1v1.1h-1.1zM451.9 108.2h1.1v1.1h-1.1zM471.3 110.0h1.1v1.1h-1.1zM467.7 109.7h1.1v1.1h-1.1zM474.7 106.9h1.1v1.1h-1.1zM471.4 103.6h1.1v1.1h-1.1zM471.6 112.9h1.1v1.1h-1.1zM478.5 109.9h1.1v1.1h-1.1zM453.3 108.7h1.1v1.1h-1.1zM479.1 108.5h1.1v1.1h-1.1zM473.8 106.9h1.1v1.1h-1.1zM476.5 105.7h1.1v1.1h-1.1zM464.4 107.4h1.1v1.1h-1.1zM451.3 107.7h1.1v1.1h-1.1zM486.2 106.0h1.1v1.1h-1.1zM482.2 104.4h1.1v1.1h-1.1zM488.5 106.5h1.1v1.1h-1.1zM466.9 109.4h1.1v1.1h-1.1zM484.6 106.3h1.1v1.1h-1.1zM484.1 107.5h1.1v1.1h-1.1zM470.7 103.6h1.1v1.1h-1.1zM485.3 106.9h1.1v1.1h-1.1zM481.7 107.3h1.1v1.1h-1.1zM452.0 105.5h1.1v1.1h-1.1zM453.3 104.3h1.1v1.1h-1.1zM464.7 109.1h1.1v1.1h-1.1zM470.0 106.4h1.1v1.1h-1.1zM475.0 109.1h1.1v1.1h-1.1zM471.3 107.2h1.1v1.1h-1.1zM484.3 108.8h1.1v1.1h-1.1zM481.1 106.9h1.1v1.1h-1.1zM452.0 104.8h1.1v1.1h-1.1zM461.9 108.0h1.1v1.1h-1.1zM484.8 106.7h1.1v1.1h-1.1zM479.2 109.2h1.1v1.1h-1.1zM448.4 107.2h1.1v1.1h-1.1zM473.9 107.2h1.1v1.1h-1.1zM453.0 110.0h1.1v1.1h-1.1zM468.7 110.7h1.1v1.1h-1.1zM489.2 108.8h1.1v1.1h-1.1zM450.9 110.4h1.1v1.1h-1.1zM482.1 108.6h1.1v1.1h-1.1zM467.9 109.8h1.1v1.1h-1.1zM488.6 109.1h1.1v1.1h-1.1zM483.6 108.4h1.1v1.1h-1.1zM450.5 108.3h1.1v1.1h-1.1zM474.6 108.4h1.1v1.1h-1.1zM483.6 112.8h1.1v1.1h-1.1zM459.4 108.2h1.1v1.1h-1.1zM477.1 107.4h1.1v1.1h-1.1zM458.4 107.3h1.1v1.1h-1.1zM456.3 108.1h1.1v1.1h-1.1zM461.6 108.7h1.1v1.1h-1.1zM460.0 105.7h1.1v1.1h-1.1zM487.9 102.9h1.1v1.1h-1.1zM457.5 108.8h1.1v1.1h-1.1zM465.5 104.6h1.1v1.1h-1.1zM468.0 108.7h1.1v1.1h-1.1zM476.6 108.2h1.1v1.1h-1.1zM488.2 109.8h1.1v1.1h-1.1zM473.4 111.8h1.1v1.1h-1.1zM483.6 108.3h1.1v1.1h-1.1zM453.2 106.9h1.1v1.1h-1.1zM475.3 105.4h1.1v1.1h-1.1zM454.9 106.4h1.1v1.1h-1.1zM484.1 107.6h1.1v1.1h-1.1zM472.6 103.6h1.1v1.1h-1.1zM453.4 108.3h1.1v1.1h-1.1zM483.2 107.5h1.1v1.1h-1.1zM469.6 109.6h1.1v1.1h-1.1zM468.0 107.4h1.1v1.1h-1.1zM451.1 108.4h1.1v1.1h-1.1zM485.6 105.8h1.1v1.1h-1.1zM469.2 107.1h1.1v1.1h-1.1zM483.8 103.6h1.1v1.1h-1.1zM450.9 108.4h1.1v1.1h-1.1zM476.1 111.4h1.1v1.1h-1.1zM463.4 108.5h1.1v1.1h-1.1zM470.1 109.0h1.1v1.1h-1.1zM473.8 105.9h1.1v1.1h-1.1zM482.2 110.7h1.1v1.1h-1.1zM486.3 105.7h1.1v1.1h-1.1zM454.7 109.9h1.1v1.1h-1.1zM483.6 107.7h1.1v1.1h-1.1zM452.6 106.0h1.1v1.1h-1.1zM460.3 108.2h1.1v1.1h-1.1zM459.6 108.5h1.1v1.1h-1.1zM479.9 108.7h1.1v1.1h-1.1zM471.1 108.1h1.1v1.1h-1.1zM463.9 107.3h1.1v1.1h-1.1zM480.7 108.7h1.1v1.1h-1.1zM486.8 106.4h1.1v1.1h-1.1zM474.5 108.2h1.1v1.1h-1.1zM475.0 106.5h1.1v1.1h-1.1zM483.7 104.2h1.1v1.1h-1.1zM460.0 106.7h1.1v1.1h-1.1zM489.3 106.1h1.1v1.1h-1.1zM455.1 108.2h1.1v1.1h-1.1zM449.6 110.8h1.1v1.1h-1.1zM482.1 103.9h1.1v1.1h-1.1zM455.0 108.4h1.1v1.1h-1.1zM461.7 103.3h1.1v1.1h-1.1zM469.1 105.8h1.1v1.1h-1.1zM452.4 107.0h1.1v1.1h-1.1zM465.4 103.2h1.1v1.1h-1.1zM462.5 104.1h1.1v1.1h-1.1zM451.3 108.5h1.1v1.1h-1.1zM472.9 108.3h1.1v1.1h-1.1zM466.6 107.9h1.1v1.1h-1.1zM454.4 106.4h1.1v1.1h-1.1zM480.6 112.4h1.1v1.1h-1.1zM464.8 107.8h1.1v1.1h-1.1zM448.8 106.3h1.1v1.1h-1.1zM484.4 111.1h1.1v1.1h-1.1zM464.8 109.5h1.1v1.1h-1.1zM451.6 107.3h1.1v1.1h-1.1zM459.8 110.8h1.1v1.1h-1.1zM458.4 108.5h1.1v1.1h-1.1zM449.6 109.6h1.1v1.1h-1.1zM461.5 108.7h1.1v1.1h-1.1zM454.8 105.9h1.1v1.1h-1.1zM456.7 110.3h1.1v1.1h-1.1zM475.9 108.3h1.1v1.1h-1.1zM454.4 105.9h1.1v1.1h-1.1zM448.6 106.5h1.1v1.1h-1.1zM455.2 110.3h1.1v1.1h-1.1zM460.1 107.3h1.1v1.1h-1.1zM454.6 108.3h1.1v1.1h-1.1zM472.7 109.6h1.1v1.1h-1.1zM484.4 107.7h1.1v1.1h-1.1zM482.4 104.2h1.1v1.1h-1.1zM467.4 109.6h1.1v1.1h-1.1zM480.5 109.7h1.1v1.1h-1.1zM480.7 109.6h1.1v1.1h-1.1zM474.2 111.6h1.1v1.1h-1.1zM481.2 108.4h1.1v1.1h-1.1zM463.5 109.9h1.1v1.1h-1.1zM478.9 111.3h1.1v1.1h-1.1zM469.5 107.5h1.1v1.1h-1.1zM478.6 111.6h1.1v1.1h-1.1zM478.6 111.6h1.1v1.1h-1.1zM450.5 109.9h1.1v1.1h-1.1zM482.5 111.6h1.1v1.1h-1.1zM449.3 110.0h1.1v1.1h-1.1zM465.6 106.2h1.1v1.1h-1.1zM472.4 110.7h1.1v1.1h-1.1zM482.1 108.3h1.1v1.1h-1.1zM450.1 109.1h1.1v1.1h-1.1zM475.8 108.3h1.1v1.1h-1.1zM462.1 111.1h1.1v1.1h-1.1zM449.5 109.4h1.1v1.1h-1.1zM461.6 106.6h1.1v1.1h-1.1zM474.5 109.1h1.1v1.1h-1.1zM451.2 109.8h1.1v1.1h-1.1zM483.1 105.9h1.1v1.1h-1.1zM449.5 107.2h1.1v1.1h-1.1zM457.7 107.3h1.1v1.1h-1.1zM461.5 106.8h1.1v1.1h-1.1zM450.4 108.9h1.1v1.1h-1.1zM486.3 109.6h1.1v1.1h-1.1zM488.0 111.4h1.1v1.1h-1.1zM485.5 110.0h1.1v1.1h-1.1zM456.0 110.4h1.1v1.1h-1.1zM482.5 110.1h1.1v1.1h-1.1zM461.8 111.1h1.1v1.1h-1.1zM459.8 107.3h1.1v1.1h-1.1zM476.5 109.4h1.1v1.1h-1.1zM451.3 108.9h1.1v1.1h-1.1zM486.6 106.3h1.1v1.1h-1.1zM462.5 107.0h1.1v1.1h-1.1zM480.9 107.1h1.1v1.1h-1.1zM465.5 105.4h1.1v1.1h-1.1zM451.6 109.3h1.1v1.1h-1.1zM467.5 108.1h1.1v1.1h-1.1zM454.9 108.4h1.1v1.1h-1.1zM451.1 108.9h1.1v1.1h-1.1zM448.5 109.7h1.1v1.1h-1.1zM464.5 106.8h1.1v1.1h-1.1zM458.5 107.9h1.1v1.1h-1.1zM461.8 104.6h1.1v1.1h-1.1zM487.9 102.4h1.1v1.1h-1.1zM482.3 103.3h1.1v1.1h-1.1zM477.2 111.3h1.1v1.1h-1.1zM457.9 104.1h1.1v1.1h-1.1zM479.0 108.8h1.1v1.1h-1.1zM476.9 111.2h1.1v1.1h-1.1zM469.8 107.1h1.1v1.1h-1.1zM457.7 111.7h1.1v1.1h-1.1zM456.4 112.2h1.1v1.1h-1.1zM465.2 110.2h1.1v1.1h-1.1zM459.3 113.4h1.1v1.1h-1.1zM484.6 108.8h1.1v1.1h-1.1zM467.2 106.5h1.1v1.1h-1.1zM476.0 109.1h1.1v1.1h-1.1zM485.2 106.4h1.1v1.1h-1.1zM473.6 105.2h1.1v1.1h-1.1zM454.5 105.4h1.1v1.1h-1.1zM461.1 113.2h1.1v1.1h-1.1zM486.2 106.2h1.1v1.1h-1.1zM449.7 108.1h1.1v1.1h-1.1zM457.0 106.7h1.1v1.1h-1.1zM473.5 108.4h1.1v1.1h-1.1zM483.4 107.0h1.1v1.1h-1.1zM482.0 106.7h1.1v1.1h-1.1zM478.2 105.2h1.1v1.1h-1.1zM477.0 104.8h1.1v1.1h-1.1zM463.3 106.5h1.1v1.1h-1.1zM450.3 108.8h1.1v1.1h-1.1zM474.3 112.7h1.1v1.1h-1.1zM450.8 110.5h1.1v1.1h-1.1zM481.0 111.7h1.1v1.1h-1.1zM453.2 109.2h1.1v1.1h-1.1zM448.8 108.0h1.1v1.1h-1.1zM489.4 104.3h1.1v1.1h-1.1zM454.7 108.2h1.1v1.1h-1.1zM472.0 103.5h1.1v1.1h-1.1zM450.3 107.5h1.1v1.1h-1.1zM488.6 110.8h1.1v1.1h-1.1zM448.4 108.9h1.1v1.1h-1.1zM476.4 110.5h1.1v1.1h-1.1zM482.9 106.7h1.1v1.1h-1.1zM460.1 105.2h1.1v1.1h-1.1zM449.3 107.3h1.1v1.1h-1.1zM450.3 110.8h1.1v1.1h-1.1zM479.2 112.2h1.1v1.1h-1.1zM469.8 106.6h1.1v1.1h-1.1zM485.1 106.7h1.1v1.1h-1.1zM474.1 107.8h1.1v1.1h-1.1zM472.5 107.4h1.1v1.1h-1.1zM456.2 105.5h1.1v1.1h-1.1zM457.1 108.4h1.1v1.1h-1.1zM488.6 108.1h1.1v1.1h-1.1zM487.5 108.2h1.1v1.1h-1.1zM466.0 105.6h1.1v1.1h-1.1zM480.9 107.5h1.1v1.1h-1.1zM477.8 104.1h1.1v1.1h-1.1zM459.3 110.2h1.1v1.1h-1.1zM456.1 106.0h1.1v1.1h-1.1zM479.0 107.2h1.1v1.1h-1.1zM487.9 106.3h1.1v1.1h-1.1zM488.8 106.0h1.1v1.1h-1.1zM462.6 105.9h1.1v1.1h-1.1zM450.5 104.3h1.1v1.1h-1.1zM461.1 112.0h1.1v1.1h-1.1zM450.7 108.8h1.1v1.1h-1.1zM488.9 107.8h1.1v1.1h-1.1zM460.6 112.8h1.1v1.1h-1.1zM483.1 107.4h1.1v1.1h-1.1zM458.0 109.4h1.1v1.1h-1.1zM487.8 107.4h1.1v1.1h-1.1zM468.1 110.8h1.1v1.1h-1.1zM482.5 108.7h1.1v1.1h-1.1zM472.7 108.9h1.1v1.1h-1.1zM479.7 107.2h1.1v1.1h-1.1zM450.8 108.8h1.1v1.1h-1.1zM451.4 110.8h1.1v1.1h-1.1zM462.6 103.7h1.1v1.1h-1.1zM484.3 107.2h1.1v1.1h-1.1zM485.7 106.5h1.1v1.1h-1.1zM477.4 107.3h1.1v1.1h-1.1zM472.7 103.9h1.1v1.1h-1.1zM449.8 109.8h1.1v1.1h-1.1zM486.5 105.5h1.1v1.1h-1.1zM475.3 107.6h1.1v1.1h-1.1zM473.4 107.1h1.1v1.1h-1.1zM482.9 103.9h1.1v1.1h-1.1zM457.6 107.2h1.1v1.1h-1.1zM473.6 104.1h1.1v1.1h-1.1zM476.2 105.9h1.1v1.1h-1.1zM479.3 107.1h1.1v1.1h-1.1zM451.7 108.2h1.1v1.1h-1.1zM478.1 108.0h1.1v1.1h-1.1zM485.4 107.2h1.1v1.1h-1.1zM474.0 112.9h1.1v1.1h-1.1zM454.8 109.2h1.1v1.1h-1.1zM486.1 104.7h1.1v1.1h-1.1zM452.0 106.9h1.1v1.1h-1.1zM457.4 106.8h1.1v1.1h-1.1zM483.4 107.2h1.1v1.1h-1.1zM472.3 106.9h1.1v1.1h-1.1zM461.7 106.3h1.1v1.1h-1.1zM481.3 111.3h1.1v1.1h-1.1zM474.7 108.2h1.1v1.1h-1.1zM452.7 107.5h1.1v1.1h-1.1zM457.4 107.7h1.1v1.1h-1.1zM481.6 107.2h1.1v1.1h-1.1zM481.6 110.8h1.1v1.1h-1.1zM450.8 109.3h1.1v1.1h-1.1zM469.5 110.7h1.1v1.1h-1.1zM477.5 101.1h1.1v1.1h-1.1zM461.3 108.9h1.1v1.1h-1.1zM450.4 110.6h1.1v1.1h-1.1zM465.1 112.6h1.1v1.1h-1.1zM486.7 107.5h1.1v1.1h-1.1zM478.2 104.1h1.1v1.1h-1.1zM456.6 109.5h1.1v1.1h-1.1zM483.0 106.3h1.1v1.1h-1.1zM475.6 104.1h1.1v1.1h-1.1zM459.8 106.9h1.1v1.1h-1.1zM459.0 110.6h1.1v1.1h-1.1zM455.1 110.9h1.1v1.1h-1.1zM464.6 109.8h1.1v1.1h-1.1zM462.8 105.9h1.1v1.1h-1.1zM459.6 113.8h1.1v1.1h-1.1zM484.2 105.0h1.1v1.1h-1.1zM479.5 107.7h1.1v1.1h-1.1zM468.3 105.1h1.1v1.1h-1.1zM487.9 110.2h1.1v1.1h-1.1zM475.8 109.0h1.1v1.1h-1.1zM487.4 109.3h1.1v1.1h-1.1zM482.1 107.9h1.1v1.1h-1.1zM474.2 108.0h1.1v1.1h-1.1zM476.7 108.4h1.1v1.1h-1.1zM480.1 103.6h1.1v1.1h-1.1zM479.3 110.0h1.1v1.1h-1.1zM484.2 109.6h1.1v1.1h-1.1zM461.9 107.4h1.1v1.1h-1.1zM462.9 108.2h1.1v1.1h-1.1zM458.0 108.9h1.1v1.1h-1.1zM486.2 110.9h1.1v1.1h-1.1zM485.4 108.4h1.1v1.1h-1.1zM466.2 108.3h1.1v1.1h-1.1zM464.5 107.1h1.1v1.1h-1.1zM453.3 104.9h1.1v1.1h-1.1z"/>
<path fill="#000" fill-opacity="0.55" d="M383.6 47.9h1.1v1.1h-1.1zM379.2 48.6h1.1v1.1h-1.1zM388.2 44.5h1.1v1.1h-1.1zM378.0 49.5h1.1v1.1h-1.1zM383.9 49.4h1.1v1.1h-1.1zM377.7 50.1h1.1v1.1h-1.1zM375.5 45.5h1.1v1.1h-1.1zM378.1 45.4h1.1v1.1h-1.1zM372.6 48.4h1.1v1.1h-1.1zM380.0 41.9h1.1v1.1h-1.1zM391.7 46.6h1.1v1.1h-1.1zM385.2 44.4h1.1v1.1h-1.1zM373.9 44.8h1.1v1.1h-1.1zM375.1 40.7h1.1v1.1h-1.1zM377.4 43.3h1.1v1.1h-1.1zM384.5 45.9h1.1v1.1h-1.1zM375.3 48.6h1.1v1.1h-1.1zM376.0 48.9h1.1v1.1h-1.1zM383.9 45.7h1.1v1.1h-1.1zM383.8 45.4h1.1v1.1h-1.1zM377.6 43.5h1.1v1.1h-1.1zM373.9 47.2h1.1v1.1h-1.1zM371.7 45.2h1.1v1.1h-1.1zM376.0 47.8h1.1v1.1h-1.1zM383.2 45.9h1.1v1.1h-1.1zM376.3 41.5h1.1v1.1h-1.1zM381.9 43.4h1.1v1.1h-1.1zM388.8 41.6h1.1v1.1h-1.1zM385.3 42.4h1.1v1.1h-1.1zM373.7 49.9h1.1v1.1h-1.1zM383.8 46.6h1.1v1.1h-1.1zM385.2 41.4h1.1v1.1h-1.1zM375.7 47.9h1.1v1.1h-1.1zM374.7 49.7h1.1v1.1h-1.1zM378.9 44.9h1.1v1.1h-1.1zM371.4 43.9h1.1v1.1h-1.1zM386.8 44.9h1.1v1.1h-1.1zM373.9 47.9h1.1v1.1h-1.1zM378.1 49.5h1.1v1.1h-1.1zM378.3 49.6h1.1v1.1h-1.1zM380.3 49.5h1.1v1.1h-1.1zM380.8 50.0h1.1v1.1h-1.1zM378.4 47.9h1.1v1.1h-1.1zM385.1 41.4h1.1v1.1h-1.1zM379.4 46.9h1.1v1.1h-1.1zM375.9 44.8h1.1v1.1h-1.1zM380.1 48.7h1.1v1.1h-1.1zM380.6 44.9h1.1v1.1h-1.1zM374.9 43.2h1.1v1.1h-1.1zM376.2 50.3h1.1v1.1h-1.1zM383.4 47.9h1.1v1.1h-1.1zM381.2 46.6h1.1v1.1h-1.1zM376.0 48.7h1.1v1.1h-1.1zM389.6 49.1h1.1v1.1h-1.1zM391.0 47.0h1.1v1.1h-1.1zM372.1 38.6h1.1v1.1h-1.1zM381.0 43.9h1.1v1.1h-1.1zM392.0 44.6h1.1v1.1h-1.1zM383.4 43.0h1.1v1.1h-1.1zM380.6 46.5h1.1v1.1h-1.1zM378.4 49.5h1.1v1.1h-1.1zM376.7 44.5h1.1v1.1h-1.1zM378.4 42.5h1.1v1.1h-1.1zM376.7 52.0h1.1v1.1h-1.1zM383.2 44.6h1.1v1.1h-1.1zM377.5 42.3h1.1v1.1h-1.1zM377.2 46.7h1.1v1.1h-1.1zM373.4 47.2h1.1v1.1h-1.1zM379.2 43.8h1.1v1.1h-1.1zM375.0 48.3h1.1v1.1h-1.1zM378.5 44.5h1.1v1.1h-1.1zM384.7 43.2h1.1v1.1h-1.1zM381.3 46.5h1.1v1.1h-1.1zM382.0 48.3h1.1v1.1h-1.1zM381.2 44.0h1.1v1.1h-1.1zM379.7 46.9h1.1v1.1h-1.1zM378.8 45.7h1.1v1.1h-1.1zM377.9 54.4h1.1v1.1h-1.1zM383.2 43.8h1.1v1.1h-1.1zM374.0 50.1h1.1v1.1h-1.1zM386.2 45.8h1.1v1.1h-1.1zM379.6 45.6h1.1v1.1h-1.1zM375.7 48.1h1.1v1.1h-1.1zM377.0 48.6h1.1v1.1h-1.1zM376.1 49.8h1.1v1.1h-1.1zM380.3 46.9h1.1v1.1h-1.1zM375.9 44.1h1.1v1.1h-1.1zM385.2 44.3h1.1v1.1h-1.1zM375.5 47.5h1.1v1.1h-1.1zM375.8 50.1h1.1v1.1h-1.1zM379.3 49.1h1.1v1.1h-1.1zM384.7 50.5h1.1v1.1h-1.1zM382.7 46.4h1.1v1.1h-1.1zM372.8 41.5h1.1v1.1h-1.1zM375.6 42.4h1.1v1.1h-1.1zM388.3 41.6h1.1v1.1h-1.1zM381.0 50.7h1.1v1.1h-1.1zM379.5 43.4h1.1v1.1h-1.1zM384.7 49.6h1.1v1.1h-1.1zM391.7 47.7h1.1v1.1h-1.1zM385.9 51.1h1.1v1.1h-1.1zM380.1 49.0h1.1v1.1h-1.1zM381.2 45.6h1.1v1.1h-1.1zM382.5 45.3h1.1v1.1h-1.1zM376.4 46.2h1.1v1.1h-1.1zM374.2 46.5h1.1v1.1h-1.1zM379.7 44.4h1.1v1.1h-1.1zM374.7 45.9h1.1v1.1h-1.1zM379.1 50.8h1.1v1.1h-1.1zM379.9 40.8h1.1v1.1h-1.1zM391.2 46.7h1.1v1.1h-1.1zM375.2 43.2h1.1v1.1h-1.1zM378.8 46.5h1.1v1.1h-1.1zM378.6 48.5h1.1v1.1h-1.1zM381.6 45.8h1.1v1.1h-1.1zM384.7 48.3h1.1v1.1h-1.1zM377.0 41.2h1.1v1.1h-1.1zM375.3 49.3h1.1v1.1h-1.1zM371.2 44.1h1.1v1.1h-1.1zM374.8 47.8h1.1v1.1h-1.1zM382.1 46.5h1.1v1.1h-1.1zM379.7 38.2h1.1v1.1h-1.1zM374.4 43.7h1.1v1.1h-1.1zM377.6 46.6h1.1v1.1h-1.1zM379.6 50.6h1.1v1.1h-1.1zM382.0 46.8h1.1v1.1h-1.1zM376.5 46.7h1.1v1.1h-1.1zM378.2 41.7h1.1v1.1h-1.1zM370.4 50.2h1.1v1.1h-1.1zM373.7 51.4h1.1v1.1h-1.1zM387.5 46.0h1.1v1.1h-1.1zM377.8 41.1h1.1v1.1h-1.1zM380.5 48.6h1.1v1.1h-1.1zM377.6 54.1h1.1v1.1h-1.1zM375.4 48.1h1.1v1.1h-1.1zM379.1 49.7h1.1v1.1h-1.1zM379.4 47.6h1.1v1.1h-1.1zM379.0 43.0h1.1v1.1h-1.1zM378.7 42.2h1.1v1.1h-1.1zM375.2 45.3h1.1v1.1h-1.1zM376.7 46.8h1.1v1.1h-1.1zM380.6 48.6h1.1v1.1h-1.1zM387.3 113.8h1.1v1.1h-1.1zM383.9 110.5h1.1v1.1h-1.1zM378.7 109.1h1.1v1.1h-1.1zM383.2 115.7h1.1v1.1h-1.1zM384.1 105.3h1.1v1.1h-1.1zM375.7 111.2h1.1v1.1h-1.1zM382.0 106.7h1.1v1.1h-1.1zM383.6 108.6h1.1v1.1h-1.1zM381.4 108.7h1.1v1.1h-1.1zM387.5 113.0h1.1v1.1h-1.1zM385.9 105.6h1.1v1.1h-1.1zM376.7 106.8h1.1v1.1h-1.1zM381.0 103.7h1.1v1.1h-1.1zM376.7 109.9h1.1v1.1h-1.1zM383.1 107.1h1.1v1.1h-1.1zM376.5 109.7h1.1v1.1h-1.1zM384.6 105.2h1.1v1.1h-1.1zM382.2 107.4h1.1v1.1h-1.1zM384.8 111.6h1.1v1.1h-1.1zM379.8 107.9h1.1v1.1h-1.1zM373.9 110.3h1.1v1.1h-1.1zM388.4 110.0h1.1v1.1h-1.1zM379.7 107.4h1.1v1.1h-1.1zM386.6 103.8h1.1v1.1h-1.1zM382.4 111.4h1.1v1.1h-1.1zM383.5 109.0h1.1v1.1h-1.1zM388.7 111.4h1.1v1.1h-1.1zM382.0 102.4h1.1v1.1h-1.1zM386.8 103.5h1.1v1.1h-1.1zM373.8 102.0h1.1v1.1h-1.1zM384.4 105.8h1.1v1.1h-1.1zM379.4 111.6h1.1v1.1h-1.1zM379.8 110.1h1.1v1.1h-1.1zM380.5 108.3h1.1v1.1h-1.1zM382.0 108.8h1.1v1.1h-1.1zM387.9 110.7h1.1v1.1h-1.1zM372.1 107.5h1.1v1.1h-1.1zM380.6 109.6h1.1v1.1h-1.1zM377.2 108.9h1.1v1.1h-1.1zM385.7 101.9h1.1v1.1h-1.1zM378.5 107.3h1.1v1.1h-1.1zM382.5 112.5h1.1v1.1h-1.1zM378.7 107.3h1.1v1.1h-1.1zM383.5 108.0h1.1v1.1h-1.1zM385.0 106.6h1.1v1.1h-1.1zM378.7 107.0h1.1v1.1h-1.1zM380.7 111.8h1.1v1.1h-1.1zM374.1 107.6h1.1v1.1h-1.1zM381.8 105.4h1.1v1.1h-1.1zM384.3 99.1h1.1v1.1h-1.1zM378.0 106.7h1.1v1.1h-1.1zM385.5 102.5h1.1v1.1h-1.1zM371.1 103.0h1.1v1.1h-1.1zM372.1 110.8h1.1v1.1h-1.1zM374.2 110.6h1.1v1.1h-1.1zM378.3 102.7h1.1v1.1h-1.1zM380.5 111.0h1.1v1.1h-1.1zM380.1 109.8h1.1v1.1h-1.1zM380.1 106.1h1.1v1.1h-1.1zM383.7 110.7h1.1v1.1h-1.1zM378.3 103.6h1.1v1.1h-1.1zM374.8 104.8h1.1v1.1h-1.1zM374.9 104.1h1.1v1.1h-1.1zM390.0 105.1h1.1v1.1h-1.1zM369.9 111.1h1.1v1.1h-1.1zM379.7 104.4h1.1v1.1h-1.1zM387.0 105.0h1.1v1.1h-1.1zM382.6 105.6h1.1v1.1h-1.1zM376.7 109.0h1.1v1.1h-1.1zM380.5 107.4h1.1v1.1h-1.1zM384.3 111.0h1.1v1.1h-1.1zM385.9 106.3h1.1v1.1h-1.1zM376.4 104.6h1.1v1.1h-1.1zM383.9 106.9h1.1v1.1h-1.1zM381.6 108.6h1.1v1.1h-1.1zM385.4 105.6h1.1v1.1h-1.1zM386.7 109.3h1.1v1.1h-1.1zM378.9 113.9h1.1v1.1h-1.1zM373.9 106.7h1.1v1.1h-1.1zM382.2 108.6h1.1v1.1h-1.1z"/>
<path fill="#000" fill-opacity="0.45" d="M391.5 46.8h1.1v1.1h-1.1zM391.4 41.2h1.1v1.1h-1.1zM385.6 48.4h1.1v1.1h-1.1zM383.0 42.8h1.1v1.1h-1.1zM389.8 45.9h1.1v1.1h-1.1zM385.9 46.3h1.1v1.1h-1.1zM382.9 45.9h1.1v1.1h-1.1zM383.1 44.7h1.1v1.1h-1.1zM387.0 42.7h1.1v1.1h-1.1zM380.2 45.4h1.1v1.1h-1.1zM382.7 43.4h1.1v1.1h-1.1zM381.3 40.7h1.1v1.1h-1.1zM390.4 48.7h1.1v1.1h-1.1zM391.5 45.5h1.1v1.1h-1.1zM399.5 47.2h1.1v1.1h-1.1zM382.0 43.1h1.1v1.1h-1.1zM386.1 46.7h1.1v1.1h-1.1zM394.0 46.8h1.1v1.1h-1.1zM388.4 46.8h1.1v1.1h-1.1zM387.8 44.4h1.1v1.1h-1.1zM398.0 42.6h1.1v1.1h-1.1zM387.8 44.2h1.1v1.1h-1.1zM383.7 41.1h1.1v1.1h-1.1zM382.9 41.9h1.1v1.1h-1.1zM391.1 44.6h1.1v1.1h-1.1zM391.0 43.0h1.1v1.1h-1.1zM382.6 44.2h1.1v1.1h-1.1zM384.5 44.3h1.1v1.1h-1.1zM392.1 47.3h1.1v1.1h-1.1zM392.3 46.4h1.1v1.1h-1.1zM386.2 44.4h1.1v1.1h-1.1zM392.6 46.3h1.1v1.1h-1.1zM392.3 43.3h1.1v1.1h-1.1zM380.5 43.9h1.1v1.1h-1.1zM387.9 45.8h1.1v1.1h-1.1zM391.5 42.6h1.1v1.1h-1.1zM386.6 44.0h1.1v1.1h-1.1zM378.8 42.5h1.1v1.1h-1.1zM388.0 44.6h1.1v1.1h-1.1zM393.2 46.9h1.1v1.1h-1.1zM373.6 53.3h1.1v1.1h-1.1zM374.4 59.9h1.1v1.1h-1.1zM385.8 72.5h1.1v1.1h-1.1zM382.4 75.6h1.1v1.1h-1.1zM384.1 67.3h1.1v1.1h-1.1zM381.6 61.2h1.1v1.1h-1.1zM375.5 61.3h1.1v1.1h-1.1zM376.7 68.3h1.1v1.1h-1.1zM377.5 74.1h1.1v1.1h-1.1zM375.1 61.0h1.1v1.1h-1.1zM377.2 57.2h1.1v1.1h-1.1zM382.8 52.5h1.1v1.1h-1.1zM371.7 55.9h1.1v1.1h-1.1zM374.9 73.7h1.1v1.1h-1.1zM378.1 68.1h1.1v1.1h-1.1zM381.3 77.2h1.1v1.1h-1.1zM380.8 54.2h1.1v1.1h-1.1zM382.0 61.6h1.1v1.1h-1.1zM372.1 72.3h1.1v1.1h-1.1zM373.3 69.0h1.1v1.1h-1.1zM375.4 54.1h1.1v1.1h-1.1zM375.0 62.5h1.1v1.1h-1.1zM382.5 68.4h1.1v1.1h-1.1zM386.3 69.6h1.1v1.1h-1.1zM381.4 63.7h1.1v1.1h-1.1z"/>
<path fill="#000" fill-opacity="0.4" d="M383.2 38.4h1.1v1.1h-1.1zM380.2 38.0h1.1v1.1h-1.1zM376.9 40.7h1.1v1.1h-1.1zM373.4 39.8h1.1v1.1h-1.1zM372.0 37.5h1.1v1.1h-1.1zM372.0 41.0h1.1v1.1h-1.1zM375.7 38.7h1.1v1.1h-1.1zM376.6 41.4h1.1v1.1h-1.1zM384.3 39.9h1.1v1.1h-1.1zM378.5 40.1h1.1v1.1h-1.1zM385.3 39.7h1.1v1.1h-1.1zM381.3 40.8h1.1v1.1h-1.1zM372.6 42.4h1.1v1.1h-1.1zM378.8 41.4h1.1v1.1h-1.1zM372.8 37.8h1.1v1.1h-1.1zM371.0 39.9h1.1v1.1h-1.1zM384.6 38.6h1.1v1.1h-1.1zM375.5 38.0h1.1v1.1h-1.1zM494.4 49.7h1.1v1.1h-1.1zM482.5 44.3h1.1v1.1h-1.1zM499.5 49.7h1.1v1.1h-1.1zM494.3 48.2h1.1v1.1h-1.1zM489.3 51.4h1.1v1.1h-1.1zM486.3 43.8h1.1v1.1h-1.1zM483.0 47.5h1.1v1.1h-1.1zM484.6 46.3h1.1v1.1h-1.1zM494.2 43.0h1.1v1.1h-1.1zM489.7 45.2h1.1v1.1h-1.1zM485.8 49.8h1.1v1.1h-1.1zM488.8 45.8h1.1v1.1h-1.1zM499.3 45.1h1.1v1.1h-1.1zM489.8 49.1h1.1v1.1h-1.1zM488.5 49.4h1.1v1.1h-1.1zM498.2 49.4h1.1v1.1h-1.1zM493.8 45.0h1.1v1.1h-1.1zM491.7 46.8h1.1v1.1h-1.1zM488.4 49.5h1.1v1.1h-1.1zM483.7 45.3h1.1v1.1h-1.1zM485.6 45.1h1.1v1.1h-1.1zM489.0 49.0h1.1v1.1h-1.1zM490.4 50.9h1.1v1.1h-1.1zM493.2 44.1h1.1v1.1h-1.1zM494.2 40.5h1.1v1.1h-1.1zM492.6 43.3h1.1v1.1h-1.1zM492.6 44.4h1.1v1.1h-1.1zM486.4 46.6h1.1v1.1h-1.1zM480.7 48.5h1.1v1.1h-1.1zM488.8 46.6h1.1v1.1h-1.1zM486.7 45.2h1.1v1.1h-1.1zM488.2 47.3h1.1v1.1h-1.1zM490.1 44.5h1.1v1.1h-1.1zM485.2 46.8h1.1v1.1h-1.1zM485.9 45.3h1.1v1.1h-1.1zM490.9 53.7h1.1v1.1h-1.1zM492.0 49.0h1.1v1.1h-1.1zM488.2 44.9h1.1v1.1h-1.1zM493.9 44.5h1.1v1.1h-1.1zM490.4 45.9h1.1v1.1h-1.1zM486.4 42.8h1.1v1.1h-1.1zM491.7 45.1h1.1v1.1h-1.1zM500.9 45.1h1.1v1.1h-1.1zM488.1 49.2h1.1v1.1h-1.1zM497.3 45.9h1.1v1.1h-1.1zM498.3 45.0h1.1v1.1h-1.1zM498.9 43.6h1.1v1.1h-1.1zM487.3 44.0h1.1v1.1h-1.1zM501.5 46.8h1.1v1.1h-1.1zM492.0 46.4h1.1v1.1h-1.1zM490.2 49.8h1.1v1.1h-1.1zM490.3 45.4h1.1v1.1h-1.1zM494.5 49.6h1.1v1.1h-1.1zM491.7 47.6h1.1v1.1h-1.1zM490.6 46.9h1.1v1.1h-1.1zM497.9 41.9h1.1v1.1h-1.1zM487.8 43.7h1.1v1.1h-1.1zM486.2 48.8h1.1v1.1h-1.1zM495.4 50.4h1.1v1.1h-1.1zM495.0 47.5h1.1v1.1h-1.1zM372.7 114.5h1.1v1.1h-1.1zM376.5 125.8h1.1v1.1h-1.1zM373.9 113.3h1.1v1.1h-1.1zM371.6 115.7h1.1v1.1h-1.1zM387.9 125.9h1.1v1.1h-1.1zM387.7 125.5h1.1v1.1h-1.1zM385.0 129.0h1.1v1.1h-1.1zM375.3 119.0h1.1v1.1h-1.1zM386.6 113.2h1.1v1.1h-1.1zM386.0 126.2h1.1v1.1h-1.1zM376.6 117.3h1.1v1.1h-1.1zM372.9 125.6h1.1v1.1h-1.1zM373.0 112.8h1.1v1.1h-1.1zM378.2 113.0h1.1v1.1h-1.1zM386.3 122.6h1.1v1.1h-1.1zM371.9 124.1h1.1v1.1h-1.1zM378.6 122.0h1.1v1.1h-1.1zM377.2 121.5h1.1v1.1h-1.1zM387.4 122.6h1.1v1.1h-1.1zM373.4 114.7h1.1v1.1h-1.1zM382.9 113.5h1.1v1.1h-1.1zM376.6 118.4h1.1v1.1h-1.1zM382.7 121.8h1.1v1.1h-1.1zM386.1 116.7h1.1v1.1h-1.1zM386.1 115.5h1.1v1.1h-1.1zM386.5 120.0h1.1v1.1h-1.1zM376.0 119.4h1.1v1.1h-1.1zM375.7 117.0h1.1v1.1h-1.1zM372.8 128.2h1.1v1.1h-1.1zM375.3 128.5h1.1v1.1h-1.1zM489.7 105.5h1.1v1.1h-1.1zM493.0 105.0h1.1v1.1h-1.1zM491.4 106.7h1.1v1.1h-1.1zM493.0 105.6h1.1v1.1h-1.1zM496.4 104.9h1.1v1.1h-1.1zM494.8 105.1h1.1v1.1h-1.1zM494.0 107.3h1.1v1.1h-1.1zM496.0 108.0h1.1v1.1h-1.1zM493.6 107.9h1.1v1.1h-1.1zM492.5 107.5h1.1v1.1h-1.1zM495.0 99.5h1.1v1.1h-1.1zM484.0 104.1h1.1v1.1h-1.1zM498.9 105.4h1.1v1.1h-1.1zM486.2 106.5h1.1v1.1h-1.1zM496.9 102.8h1.1v1.1h-1.1zM492.7 108.9h1.1v1.1h-1.1zM498.2 106.7h1.1v1.1h-1.1zM492.9 104.8h1.1v1.1h-1.1zM488.0 106.4h1.1v1.1h-1.1zM498.1 105.4h1.1v1.1h-1.1zM493.6 104.5h1.1v1.1h-1.1zM493.3 107.1h1.1v1.1h-1.1zM493.1 105.2h1.1v1.1h-1.1zM497.7 103.2h1.1v1.1h-1.1zM496.8 104.8h1.1v1.1h-1.1zM493.9 105.8h1.1v1.1h-1.1zM484.9 103.9h1.1v1.1h-1.1zM490.7 108.6h1.1v1.1h-1.1zM493.2 103.9h1.1v1.1h-1.1zM501.7 109.6h1.1v1.1h-1.1zM494.6 107.9h1.1v1.1h-1.1zM492.3 104.2h1.1v1.1h-1.1zM498.7 106.3h1.1v1.1h-1.1zM492.2 108.4h1.1v1.1h-1.1zM492.6 105.7h1.1v1.1h-1.1zM493.5 103.7h1.1v1.1h-1.1zM485.2 106.3h1.1v1.1h-1.1zM497.5 110.1h1.1v1.1h-1.1zM494.8 103.1h1.1v1.1h-1.1zM491.3 107.2h1.1v1.1h-1.1zM487.0 106.1h1.1v1.1h-1.1zM493.8 105.8h1.1v1.1h-1.1zM499.7 105.3h1.1v1.1h-1.1zM489.5 105.4h1.1v1.1h-1.1zM487.4 108.2h1.1v1.1h-1.1zM494.8 107.3h1.1v1.1h-1.1zM484.7 104.1h1.1v1.1h-1.1zM481.6 109.2h1.1v1.1h-1.1zM490.5 103.5h1.1v1.1h-1.1zM489.3 107.4h1.1v1.1h-1.1zM491.0 213.6h1.1v1.1h-1.1zM495.0 208.0h1.1v1.1h-1.1zM485.9 210.3h1.1v1.1h-1.1zM501.3 212.4h1.1v1.1h-1.1zM497.2 209.3h1.1v1.1h-1.1zM496.4 210.9h1.1v1.1h-1.1zM488.7 210.2h1.1v1.1h-1.1zM500.6 209.6h1.1v1.1h-1.1zM490.2 213.8h1.1v1.1h-1.1zM501.0 210.6h1.1v1.1h-1.1zM497.3 208.4h1.1v1.1h-1.1zM487.4 209.6h1.1v1.1h-1.1zM489.7 211.8h1.1v1.1h-1.1zM501.3 218.1h1.1v1.1h-1.1zM496.9 212.5h1.1v1.1h-1.1zM491.1 216.2h1.1v1.1h-1.1zM492.9 213.2h1.1v1.1h-1.1zM492.9 205.3h1.1v1.1h-1.1zM488.1 212.9h1.1v1.1h-1.1zM490.9 209.2h1.1v1.1h-1.1zM488.6 207.6h1.1v1.1h-1.1zM489.8 208.5h1.1v1.1h-1.1zM494.3 217.1h1.1v1.1h-1.1zM487.1 207.0h1.1v1.1h-1.1zM495.6 209.9h1.1v1.1h-1.1zM492.5 215.2h1.1v1.1h-1.1zM495.7 213.7h1.1v1.1h-1.1zM496.4 206.6h1.1v1.1h-1.1zM498.2 211.4h1.1v1.1h-1.1zM495.1 210.2h1.1v1.1h-1.1zM495.5 211.1h1.1v1.1h-1.1zM491.0 214.0h1.1v1.1h-1.1zM494.8 210.0h1.1v1.1h-1.1zM487.4 210.8h1.1v1.1h-1.1zM490.7 216.1h1.1v1.1h-1.1zM495.7 206.2h1.1v1.1h-1.1zM491.7 210.6h1.1v1.1h-1.1zM494.2 213.1h1.1v1.1h-1.1zM486.6 208.0h1.1v1.1h-1.1zM498.8 209.8h1.1v1.1h-1.1zM489.0 207.8h1.1v1.1h-1.1zM493.9 212.2h1.1v1.1h-1.1zM491.8 209.8h1.1v1.1h-1.1zM496.6 214.1h1.1v1.1h-1.1zM490.0 214.8h1.1v1.1h-1.1zM486.9 211.9h1.1v1.1h-1.1zM482.4 210.6h1.1v1.1h-1.1zM490.4 212.5h1.1v1.1h-1.1zM485.9 211.9h1.1v1.1h-1.1zM494.6 208.0h1.1v1.1h-1.1zM499.1 215.0h1.1v1.1h-1.1zM480.8 212.4h1.1v1.1h-1.1zM485.5 214.1h1.1v1.1h-1.1zM493.5 207.6h1.1v1.1h-1.1zM498.1 214.4h1.1v1.1h-1.1zM493.5 218.1h1.1v1.1h-1.1zM493.5 213.6h1.1v1.1h-1.1zM494.5 207.3h1.1v1.1h-1.1zM494.8 211.8h1.1v1.1h-1.1zM500.2 211.5h1.1v1.1h-1.1z"/>
<path fill="#000" fill-opacity="0.3" d="M395.9 34.7h1.1v1.1h-1.1zM430.9 25.0h1.1v1.1h-1.1zM408.4 32.1h1.1v1.1h-1.1zM419.7 32.7h1.1v1.1h-1.1zM411.5 44.7h1.1v1.1h-1.1zM391.1 39.5h1.1v1.1h-1.1zM454.2 38.7h1.1v1.1h-1.1zM490.3 39.7h1.1v1.1h-1.1zM483.0 35.8h1.1v1.1h-1.1zM471.2 43.3h1.1v1.1h-1.1zM485.0 40.9h1.1v1.1h-1.1zM469.3 36.2h1.1v1.1h-1.1zM456.6 41.4h1.1v1.1h-1.1zM470.3 39.7h1.1v1.1h-1.1zM452.0 40.9h1.1v1.1h-1.1zM453.8 41.4h1.1v1.1h-1.1zM471.4 43.4h1.1v1.1h-1.1zM490.7 36.4h1.1v1.1h-1.1zM459.6 43.4h1.1v1.1h-1.1zM474.5 39.3h1.1v1.1h-1.1zM498.4 37.1h1.1v1.1h-1.1zM490.8 38.4h1.1v1.1h-1.1zM494.5 38.4h1.1v1.1h-1.1zM483.2 42.6h1.1v1.1h-1.1zM478.9 39.6h1.1v1.1h-1.1zM478.5 36.0h1.1v1.1h-1.1zM479.5 41.2h1.1v1.1h-1.1zM472.7 39.4h1.1v1.1h-1.1zM467.5 42.0h1.1v1.1h-1.1zM461.4 35.8h1.1v1.1h-1.1zM452.7 42.4h1.1v1.1h-1.1zM467.9 42.6h1.1v1.1h-1.1zM487.9 35.5h1.1v1.1h-1.1zM477.1 39.3h1.1v1.1h-1.1zM457.6 36.4h1.1v1.1h-1.1zM490.2 39.7h1.1v1.1h-1.1zM451.5 36.2h1.1v1.1h-1.1zM496.0 42.5h1.1v1.1h-1.1zM482.0 36.9h1.1v1.1h-1.1zM477.3 40.8h1.1v1.1h-1.1zM470.1 40.7h1.1v1.1h-1.1zM490.7 38.0h1.1v1.1h-1.1zM449.8 37.2h1.1v1.1h-1.1zM450.2 42.8h1.1v1.1h-1.1zM475.5 35.8h1.1v1.1h-1.1zM464.3 37.5h1.1v1.1h-1.1zM403.0 143.8h1.1v1.1h-1.1zM400.7 142.0h1.1v1.1h-1.1zM402.0 145.3h1.1v1.1h-1.1zM387.8 115.6h1.1v1.1h-1.1zM387.7 146.6h1.1v1.1h-1.1zM398.2 148.7h1.1v1.1h-1.1zM393.1 121.4h1.1v1.1h-1.1zM402.3 135.9h1.1v1.1h-1.1zM394.1 115.8h1.1v1.1h-1.1zM400.1 134.7h1.1v1.1h-1.1zM391.6 138.7h1.1v1.1h-1.1zM398.2 140.0h1.1v1.1h-1.1zM402.8 144.2h1.1v1.1h-1.1zM402.1 123.3h1.1v1.1h-1.1zM393.7 116.7h1.1v1.1h-1.1zM395.6 142.7h1.1v1.1h-1.1zM396.6 113.4h1.1v1.1h-1.1zM393.3 121.1h1.1v1.1h-1.1zM395.7 121.2h1.1v1.1h-1.1zM403.8 141.1h1.1v1.1h-1.1zM402.4 128.8h1.1v1.1h-1.1zM392.8 143.4h1.1v1.1h-1.1zM399.1 137.2h1.1v1.1h-1.1zM403.6 143.6h1.1v1.1h-1.1zM393.6 141.5h1.1v1.1h-1.1zM449.9 141.6h1.1v1.1h-1.1zM468.1 145.4h1.1v1.1h-1.1zM486.0 141.5h1.1v1.1h-1.1zM458.7 140.6h1.1v1.1h-1.1zM478.6 139.3h1.1v1.1h-1.1zM481.9 136.0h1.1v1.1h-1.1zM456.5 149.3h1.1v1.1h-1.1zM488.1 138.7h1.1v1.1h-1.1zM460.4 143.0h1.1v1.1h-1.1zM492.8 141.9h1.1v1.1h-1.1zM465.0 148.8h1.1v1.1h-1.1zM477.0 135.8h1.1v1.1h-1.1zM492.1 134.2h1.1v1.1h-1.1zM486.3 147.6h1.1v1.1h-1.1zM471.3 140.6h1.1v1.1h-1.1zM458.2 143.0h1.1v1.1h-1.1zM477.1 142.7h1.1v1.1h-1.1zM475.9 145.5h1.1v1.1h-1.1zM452.3 146.5h1.1v1.1h-1.1zM466.7 144.1h1.1v1.1h-1.1zM490.9 131.5h1.1v1.1h-1.1zM473.1 146.5h1.1v1.1h-1.1zM457.6 132.2h1.1v1.1h-1.1zM478.4 146.9h1.1v1.1h-1.1zM469.9 131.5h1.1v1.1h-1.1zM490.6 145.4h1.1v1.1h-1.1zM471.5 142.9h1.1v1.1h-1.1zM450.6 131.9h1.1v1.1h-1.1zM456.7 145.0h1.1v1.1h-1.1zM457.3 141.9h1.1v1.1h-1.1zM492.3 133.6h1.1v1.1h-1.1zM465.6 147.2h1.1v1.1h-1.1zM465.1 142.1h1.1v1.1h-1.1zM493.4 139.8h1.1v1.1h-1.1zM458.7 148.5h1.1v1.1h-1.1zM477.4 135.1h1.1v1.1h-1.1zM492.1 134.6h1.1v1.1h-1.1zM490.4 147.5h1.1v1.1h-1.1zM456.7 134.3h1.1v1.1h-1.1zM470.6 146.2h1.1v1.1h-1.1zM460.8 135.2h1.1v1.1h-1.1zM480.9 146.1h1.1v1.1h-1.1zM460.5 138.8h1.1v1.1h-1.1zM457.4 142.6h1.1v1.1h-1.1zM461.7 142.4h1.1v1.1h-1.1zM455.3 138.6h1.1v1.1h-1.1zM481.7 140.8h1.1v1.1h-1.1zM462.0 143.1h1.1v1.1h-1.1zM467.5 133.9h1.1v1.1h-1.1zM461.8 147.9h1.1v1.1h-1.1zM466.6 146.3h1.1v1.1h-1.1zM463.2 135.2h1.1v1.1h-1.1zM465.4 135.5h1.1v1.1h-1.1zM481.4 138.6h1.1v1.1h-1.1zM457.3 145.3h1.1v1.1h-1.1zM480.4 140.8h1.1v1.1h-1.1zM465.1 137.1h1.1v1.1h-1.1zM453.7 145.3h1.1v1.1h-1.1zM454.8 135.0h1.1v1.1h-1.1zM490.0 144.2h1.1v1.1h-1.1zM451.3 145.0h1.1v1.1h-1.1zM461.9 133.3h1.1v1.1h-1.1zM488.3 141.7h1.1v1.1h-1.1zM453.0 142.1h1.1v1.1h-1.1zM458.9 148.9h1.1v1.1h-1.1zM461.5 136.8h1.1v1.1h-1.1zM487.1 139.7h1.1v1.1h-1.1zM454.7 148.3h1.1v1.1h-1.1zM492.0 133.8h1.1v1.1h-1.1zM454.8 147.6h1.1v1.1h-1.1zM472.6 136.5h1.1v1.1h-1.1zM474.0 135.7h1.1v1.1h-1.1zM473.5 133.8h1.1v1.1h-1.1zM480.7 136.1h1.1v1.1h-1.1zM484.7 132.1h1.1v1.1h-1.1zM487.0 139.8h1.1v1.1h-1.1zM475.9 132.0h1.1v1.1h-1.1zM480.0 146.5h1.1v1.1h-1.1zM468.1 145.1h1.1v1.1h-1.1zM463.9 142.7h1.1v1.1h-1.1zM473.4 137.4h1.1v1.1h-1.1zM474.7 135.9h1.1v1.1h-1.1zM468.5 143.2h1.1v1.1h-1.1zM467.0 139.0h1.1v1.1h-1.1zM483.1 140.5h1.1v1.1h-1.1zM473.8 135.4h1.1v1.1h-1.1zM467.6 142.5h1.1v1.1h-1.1zM495.6 135.1h1.1v1.1h-1.1zM480.6 138.7h1.1v1.1h-1.1zM477.1 131.4h1.1v1.1h-1.1zM484.1 135.7h1.1v1.1h-1.1zM474.0 140.3h1.1v1.1h-1.1zM490.4 136.5h1.1v1.1h-1.1zM468.6 136.5h1.1v1.1h-1.1zM470.2 141.4h1.1v1.1h-1.1zM478.4 138.0h1.1v1.1h-1.1zM474.0 143.2h1.1v1.1h-1.1zM489.1 128.6h1.1v1.1h-1.1zM468.1 140.5h1.1v1.1h-1.1zM474.2 140.3h1.1v1.1h-1.1zM480.9 132.1h1.1v1.1h-1.1zM483.2 133.1h1.1v1.1h-1.1zM486.3 141.7h1.1v1.1h-1.1zM481.7 134.0h1.1v1.1h-1.1zM494.6 135.7h1.1v1.1h-1.1zM475.9 140.6h1.1v1.1h-1.1zM480.5 136.9h1.1v1.1h-1.1zM485.2 140.1h1.1v1.1h-1.1zM477.0 134.8h1.1v1.1h-1.1zM477.2 139.4h1.1v1.1h-1.1zM397.7 221.2h1.1v1.1h-1.1zM406.3 219.2h1.1v1.1h-1.1zM405.6 211.4h1.1v1.1h-1.1zM425.4 211.1h1.1v1.1h-1.1zM411.9 213.8h1.1v1.1h-1.1zM426.6 216.0h1.1v1.1h-1.1z"/>
<path fill="#000" fill-opacity="0.5" d="M370.2 39.5h1.1v1.1h-1.1zM370.7 22.8h1.1v1.1h-1.1zM369.8 71.2h1.1v1.1h-1.1zM369.9 38.2h1.1v1.1h-1.1zM370.7 58.2h1.1v1.1h-1.1zM370.4 69.5h1.1v1.1h-1.1zM370.3 66.2h1.1v1.1h-1.1zM370.1 69.8h1.1v1.1h-1.1zM370.4 48.8h1.1v1.1h-1.1zM370.0 68.6h1.1v1.1h-1.1zM370.8 47.3h1.1v1.1h-1.1zM370.7 36.2h1.1v1.1h-1.1zM376.4 140.4h1.1v1.1h-1.1zM385.8 142.7h1.1v1.1h-1.1zM384.7 141.4h1.1v1.1h-1.1zM380.4 131.5h1.1v1.1h-1.1zM378.6 138.7h1.1v1.1h-1.1zM372.4 142.5h1.1v1.1h-1.1zM380.0 141.6h1.1v1.1h-1.1zM377.5 145.4h1.1v1.1h-1.1zM378.3 134.4h1.1v1.1h-1.1zM374.6 142.6h1.1v1.1h-1.1zM377.2 137.3h1.1v1.1h-1.1zM376.3 141.1h1.1v1.1h-1.1zM378.8 142.0h1.1v1.1h-1.1zM384.3 143.3h1.1v1.1h-1.1zM379.0 137.6h1.1v1.1h-1.1zM370.1 141.0h1.1v1.1h-1.1zM372.4 134.9h1.1v1.1h-1.1zM370.1 133.8h1.1v1.1h-1.1zM373.3 142.7h1.1v1.1h-1.1zM380.0 139.9h1.1v1.1h-1.1zM379.2 132.9h1.1v1.1h-1.1zM374.2 136.4h1.1v1.1h-1.1zM378.5 140.3h1.1v1.1h-1.1zM373.4 147.2h1.1v1.1h-1.1zM370.1 144.9h1.1v1.1h-1.1zM370.2 143.8h1.1v1.1h-1.1zM372.9 132.2h1.1v1.1h-1.1zM384.3 139.8h1.1v1.1h-1.1zM370.5 142.3h1.1v1.1h-1.1zM383.4 142.0h1.1v1.1h-1.1zM383.8 142.1h1.1v1.1h-1.1zM376.3 139.1h1.1v1.1h-1.1zM377.0 148.1h1.1v1.1h-1.1zM374.1 146.8h1.1v1.1h-1.1zM377.1 139.8h1.1v1.1h-1.1zM380.5 135.8h1.1v1.1h-1.1zM377.2 149.0h1.1v1.1h-1.1zM382.2 137.7h1.1v1.1h-1.1zM383.1 145.6h1.1v1.1h-1.1zM378.9 148.8h1.1v1.1h-1.1zM378.8 135.9h1.1v1.1h-1.1zM376.9 141.5h1.1v1.1h-1.1zM378.9 138.6h1.1v1.1h-1.1zM371.6 142.5h1.1v1.1h-1.1zM379.2 141.6h1.1v1.1h-1.1zM378.2 148.9h1.1v1.1h-1.1zM372.9 142.8h1.1v1.1h-1.1zM387.9 140.1h1.1v1.1h-1.1zM372.3 145.3h1.1v1.1h-1.1zM372.9 139.0h1.1v1.1h-1.1zM378.6 138.5h1.1v1.1h-1.1zM370.1 149.0h1.1v1.1h-1.1zM373.2 136.5h1.1v1.1h-1.1zM370.1 138.0h1.1v1.1h-1.1zM372.4 140.4h1.1v1.1h-1.1zM376.5 135.4h1.1v1.1h-1.1zM378.8 130.7h1.1v1.1h-1.1zM382.7 144.9h1.1v1.1h-1.1zM381.2 136.7h1.1v1.1h-1.1zM383.1 137.8h1.1v1.1h-1.1zM380.1 138.5h1.1v1.1h-1.1zM374.8 135.8h1.1v1.1h-1.1zM382.7 135.4h1.1v1.1h-1.1zM374.7 140.9h1.1v1.1h-1.1zM374.1 149.0h1.1v1.1h-1.1zM384.8 143.5h1.1v1.1h-1.1zM381.1 143.5h1.1v1.1h-1.1zM378.3 133.4h1.1v1.1h-1.1zM380.9 140.1h1.1v1.1h-1.1zM381.6 134.9h1.1v1.1h-1.1zM370.4 143.7h1.1v1.1h-1.1zM376.7 139.2h1.1v1.1h-1.1zM371.3 140.4h1.1v1.1h-1.1zM377.8 139.8h1.1v1.1h-1.1zM373.8 137.6h1.1v1.1h-1.1zM384.0 133.3h1.1v1.1h-1.1zM379.8 142.8h1.1v1.1h-1.1zM373.1 134.0h1.1v1.1h-1.1zM377.1 134.9h1.1v1.1h-1.1zM371.1 138.8h1.1v1.1h-1.1zM391.6 208.2h1.1v1.1h-1.1zM390.8 214.0h1.1v1.1h-1.1zM380.8 217.8h1.1v1.1h-1.1zM390.2 210.7h1.1v1.1h-1.1zM389.7 205.5h1.1v1.1h-1.1zM387.9 213.4h1.1v1.1h-1.1zM390.5 210.0h1.1v1.1h-1.1zM382.6 220.1h1.1v1.1h-1.1zM385.1 212.4h1.1v1.1h-1.1zM382.8 212.6h1.1v1.1h-1.1zM389.2 210.1h1.1v1.1h-1.1zM382.2 213.6h1.1v1.1h-1.1zM387.4 210.4h1.1v1.1h-1.1zM380.0 209.0h1.1v1.1h-1.1zM384.8 212.3h1.1v1.1h-1.1zM383.6 209.4h1.1v1.1h-1.1zM384.9 217.8h1.1v1.1h-1.1zM386.1 208.0h1.1v1.1h-1.1zM384.5 212.3h1.1v1.1h-1.1zM384.4 209.9h1.1v1.1h-1.1zM375.1 207.2h1.1v1.1h-1.1zM391.0 219.1h1.1v1.1h-1.1zM382.3 204.3h1.1v1.1h-1.1zM384.2 218.3h1.1v1.1h-1.1zM381.3 207.0h1.1v1.1h-1.1zM390.4 212.9h1.1v1.1h-1.1zM388.0 204.2h1.1v1.1h-1.1zM391.3 207.2h1.1v1.1h-1.1zM393.7 217.7h1.1v1.1h-1.1zM391.4 213.3h1.1v1.1h-1.1zM388.5 210.4h1.1v1.1h-1.1zM379.5 212.5h1.1v1.1h-1.1zM391.9 208.8h1.1v1.1h-1.1zM391.4 213.1h1.1v1.1h-1.1zM389.6 218.5h1.1v1.1h-1.1zM389.5 211.1h1.1v1.1h-1.1zM385.8 213.1h1.1v1.1h-1.1zM382.9 217.3h1.1v1.1h-1.1zM390.9 220.4h1.1v1.1h-1.1zM391.8 210.3h1.1v1.1h-1.1zM380.3 213.8h1.1v1.1h-1.1zM390.0 210.4h1.1v1.1h-1.1zM386.7 210.1h1.1v1.1h-1.1zM389.9 211.0h1.1v1.1h-1.1zM386.9 210.1h1.1v1.1h-1.1zM391.0 205.8h1.1v1.1h-1.1zM390.6 204.8h1.1v1.1h-1.1zM389.9 209.7h1.1v1.1h-1.1zM378.6 213.1h1.1v1.1h-1.1zM389.6 217.4h1.1v1.1h-1.1zM385.8 210.5h1.1v1.1h-1.1zM379.9 211.9h1.1v1.1h-1.1zM389.0 215.2h1.1v1.1h-1.1zM378.7 215.5h1.1v1.1h-1.1zM390.0 212.1h1.1v1.1h-1.1zM394.0 212.4h1.1v1.1h-1.1zM383.0 219.9h1.1v1.1h-1.1zM390.1 211.3h1.1v1.1h-1.1zM387.8 210.7h1.1v1.1h-1.1zM388.8 206.2h1.1v1.1h-1.1zM378.8 214.3h1.1v1.1h-1.1zM388.6 211.6h1.1v1.1h-1.1zM386.2 220.1h1.1v1.1h-1.1zM389.2 211.3h1.1v1.1h-1.1zM385.6 215.8h1.1v1.1h-1.1zM391.0 216.2h1.1v1.1h-1.1zM386.9 219.0h1.1v1.1h-1.1zM388.9 207.5h1.1v1.1h-1.1zM392.4 218.7h1.1v1.1h-1.1zM386.5 212.6h1.1v1.1h-1.1zM390.5 212.2h1.1v1.1h-1.1zM386.7 211.4h1.1v1.1h-1.1zM388.2 211.0h1.1v1.1h-1.1zM383.0 211.2h1.1v1.1h-1.1zM389.4 203.5h1.1v1.1h-1.1zM391.7 214.6h1.1v1.1h-1.1zM385.2 212.8h1.1v1.1h-1.1zM389.5 208.9h1.1v1.1h-1.1zM387.7 212.3h1.1v1.1h-1.1zM370.8 186.0h1.1v1.1h-1.1zM371.1 203.8h1.1v1.1h-1.1zM371.1 175.4h1.1v1.1h-1.1zM370.1 194.3h1.1v1.1h-1.1zM369.9 189.7h1.1v1.1h-1.1zM371.0 201.1h1.1v1.1h-1.1zM369.8 175.0h1.1v1.1h-1.1zM371.4 184.1h1.1v1.1h-1.1zM370.9 188.8h1.1v1.1h-1.1zM370.5 176.6h1.1v1.1h-1.1zM370.9 193.8h1.1v1.1h-1.1zM370.0 199.9h1.1v1.1h-1.1zM370.8 201.6h1.1v1.1h-1.1zM371.3 178.8h1.1v1.1h-1.1zM369.8 189.6h1.1v1.1h-1.1zM371.3 204.0h1.1v1.1h-1.1zM370.3 176.6h1.1v1.1h-1.1zM370.4 195.6h1.1v1.1h-1.1zM371.3 183.0h1.1v1.1h-1.1zM371.1 201.7h1.1v1.1h-1.1z"/>
<path fill="#000" fill-opacity="0.7" d="M468.3 49.4h1.1v1.1h-1.1zM462.3 41.0h1.1v1.1h-1.1zM479.9 47.8h1.1v1.1h-1.1zM482.6 44.3h1.1v1.1h-1.1zM454.4 50.3h1.1v1.1h-1.1zM455.4 53.7h1.1v1.1h-1.1zM464.3 46.5h1.1v1.1h-1.1zM467.6 47.9h1.1v1.1h-1.1zM487.7 47.1h1.1v1.1h-1.1zM487.1 48.6h1.1v1.1h-1.1zM488.1 49.3h1.1v1.1h-1.1zM478.4 50.8h1.1v1.1h-1.1zM476.3 45.4h1.1v1.1h-1.1zM459.7 51.5h1.1v1.1h-1.1zM463.9 45.5h1.1v1.1h-1.1zM482.6 50.5h1.1v1.1h-1.1zM459.9 49.5h1.1v1.1h-1.1zM451.9 45.5h1.1v1.1h-1.1zM461.5 46.1h1.1v1.1h-1.1zM461.8 46.6h1.1v1.1h-1.1zM478.2 47.6h1.1v1.1h-1.1zM458.0 44.6h1.1v1.1h-1.1zM485.2 48.9h1.1v1.1h-1.1zM483.5 49.2h1.1v1.1h-1.1zM474.3 49.1h1.1v1.1h-1.1zM471.5 48.9h1.1v1.1h-1.1zM457.7 51.4h1.1v1.1h-1.1zM484.4 48.9h1.1v1.1h-1.1zM479.7 49.8h1.1v1.1h-1.1zM469.6 49.1h1.1v1.1h-1.1zM455.2 52.1h1.1v1.1h-1.1zM457.5 43.2h1.1v1.1h-1.1zM464.1 50.8h1.1v1.1h-1.1zM462.2 47.1h1.1v1.1h-1.1zM451.1 47.1h1.1v1.1h-1.1zM465.2 45.4h1.1v1.1h-1.1zM467.0 43.3h1.1v1.1h-1.1zM460.4 46.8h1.1v1.1h-1.1zM464.3 46.1h1.1v1.1h-1.1zM462.2 48.9h1.1v1.1h-1.1zM464.0 44.2h1.1v1.1h-1.1zM473.9 51.2h1.1v1.1h-1.1zM468.9 48.4h1.1v1.1h-1.1zM456.7 47.2h1.1v1.1h-1.1zM481.1 46.0h1.1v1.1h-1.1zM469.6 45.9h1.1v1.1h-1.1zM467.4 45.0h1.1v1.1h-1.1zM477.8 46.4h1.1v1.1h-1.1zM479.3 47.8h1.1v1.1h-1.1zM483.3 47.3h1.1v1.1h-1.1zM481.7 44.4h1.1v1.1h-1.1zM475.9 47.1h1.1v1.1h-1.1zM478.1 45.6h1.1v1.1h-1.1zM455.1 48.1h1.1v1.1h-1.1zM477.2 52.2h1.1v1.1h-1.1zM459.0 49.3h1.1v1.1h-1.1zM459.2 47.0h1.1v1.1h-1.1zM453.6 43.9h1.1v1.1h-1.1zM464.8 44.4h1.1v1.1h-1.1zM449.5 43.7h1.1v1.1h-1.1zM475.5 49.5h1.1v1.1h-1.1zM479.2 45.9h1.1v1.1h-1.1zM480.3 47.9h1.1v1.1h-1.1zM453.9 46.3h1.1v1.1h-1.1zM474.8 48.0h1.1v1.1h-1.1zM482.9 51.1h1.1v1.1h-1.1zM450.1 46.1h1.1v1.1h-1.1zM456.5 46.9h1.1v1.1h-1.1zM459.6 45.8h1.1v1.1h-1.1zM467.5 49.8h1.1v1.1h-1.1zM455.7 45.3h1.1v1.1h-1.1zM470.6 45.0h1.1v1.1h-1.1zM462.7 44.4h1.1v1.1h-1.1zM475.4 44.4h1.1v1.1h-1.1zM470.3 48.9h1.1v1.1h-1.1zM476.7 53.9h1.1v1.1h-1.1zM458.7 45.4h1.1v1.1h-1.1zM477.5 50.0h1.1v1.1h-1.1zM478.6 48.4h1.1v1.1h-1.1zM478.1 45.1h1.1v1.1h-1.1zM451.4 47.1h1.1v1.1h-1.1zM487.3 47.2h1.1v1.1h-1.1zM472.2 46.1h1.1v1.1h-1.1zM459.8 52.4h1.1v1.1h-1.1zM466.4 43.2h1.1v1.1h-1.1zM469.8 48.7h1.1v1.1h-1.1zM469.8 48.5h1.1v1.1h-1.1zM458.8 46.4h1.1v1.1h-1.1zM459.5 48.1h1.1v1.1h-1.1zM463.5 49.9h1.1v1.1h-1.1zM480.5 48.1h1.1v1.1h-1.1zM466.5 48.8h1.1v1.1h-1.1zM450.2 49.4h1.1v1.1h-1.1zM467.1 42.9h1.1v1.1h-1.1zM456.9 51.3h1.1v1.1h-1.1zM488.5 50.1h1.1v1.1h-1.1zM460.6 50.2h1.1v1.1h-1.1zM470.6 44.4h1.1v1.1h-1.1zM463.3 47.5h1.1v1.1h-1.1zM450.8 45.8h1.1v1.1h-1.1zM485.4 46.3h1.1v1.1h-1.1zM486.8 50.1h1.1v1.1h-1.1zM456.3 45.8h1.1v1.1h-1.1zM465.7 47.4h1.1v1.1h-1.1zM463.9 43.2h1.1v1.1h-1.1zM455.5 47.4h1.1v1.1h-1.1zM475.6 48.0h1.1v1.1h-1.1zM480.6 46.1h1.1v1.1h-1.1zM479.6 46.0h1.1v1.1h-1.1zM476.2 52.3h1.1v1.1h-1.1zM449.4 44.8h1.1v1.1h-1.1zM458.0 45.2h1.1v1.1h-1.1zM469.6 45.8h1.1v1.1h-1.1zM477.3 50.6h1.1v1.1h-1.1zM464.4 52.8h1.1v1.1h-1.1zM467.0 48.5h1.1v1.1h-1.1zM483.0 46.0h1.1v1.1h-1.1zM449.6 46.7h1.1v1.1h-1.1zM459.6 50.3h1.1v1.1h-1.1zM460.5 45.6h1.1v1.1h-1.1zM489.2 51.2h1.1v1.1h-1.1zM457.9 51.1h1.1v1.1h-1.1zM450.6 47.9h1.1v1.1h-1.1zM465.6 49.3h1.1v1.1h-1.1zM475.2 49.5h1.1v1.1h-1.1zM454.9 51.5h1.1v1.1h-1.1zM482.9 45.2h1.1v1.1h-1.1zM456.7 50.6h1.1v1.1h-1.1zM477.4 46.8h1.1v1.1h-1.1zM455.3 45.9h1.1v1.1h-1.1zM484.6 48.0h1.1v1.1h-1.1zM456.9 47.2h1.1v1.1h-1.1zM478.5 45.4h1.1v1.1h-1.1zM482.9 43.9h1.1v1.1h-1.1zM459.1 45.5h1.1v1.1h-1.1zM452.4 51.2h1.1v1.1h-1.1zM472.6 52.5h1.1v1.1h-1.1zM469.0 49.3h1.1v1.1h-1.1zM468.2 50.6h1.1v1.1h-1.1zM480.5 46.5h1.1v1.1h-1.1zM467.5 47.6h1.1v1.1h-1.1zM468.9 48.4h1.1v1.1h-1.1zM468.5 45.2h1.1v1.1h-1.1zM467.2 45.4h1.1v1.1h-1.1zM465.2 48.0h1.1v1.1h-1.1zM455.2 47.0h1.1v1.1h-1.1zM460.7 45.2h1.1v1.1h-1.1zM459.5 48.7h1.1v1.1h-1.1zM458.8 47.1h1.1v1.1h-1.1zM480.6 50.2h1.1v1.1h-1.1zM453.3 47.7h1.1v1.1h-1.1zM457.0 47.0h1.1v1.1h-1.1zM470.1 48.1h1.1v1.1h-1.1zM461.4 47.3h1.1v1.1h-1.1zM458.4 46.1h1.1v1.1h-1.1zM463.9 46.8h1.1v1.1h-1.1zM469.1 49.5h1.1v1.1h-1.1zM476.2 49.3h1.1v1.1h-1.1zM488.3 50.8h1.1v1.1h-1.1zM483.4 43.7h1.1v1.1h-1.1zM466.2 46.8h1.1v1.1h-1.1zM467.1 46.8h1.1v1.1h-1.1zM465.6 48.2h1.1v1.1h-1.1zM458.4 46.7h1.1v1.1h-1.1zM487.5 46.5h1.1v1.1h-1.1zM451.5 49.6h1.1v1.1h-1.1zM457.0 48.2h1.1v1.1h-1.1zM475.7 45.0h1.1v1.1h-1.1zM472.7 51.0h1.1v1.1h-1.1zM460.0 50.1h1.1v1.1h-1.1zM486.9 46.4h1.1v1.1h-1.1zM465.4 49.7h1.1v1.1h-1.1zM473.0 46.0h1.1v1.1h-1.1zM452.4 50.5h1.1v1.1h-1.1zM485.0 47.2h1.1v1.1h-1.1zM452.9 45.8h1.1v1.1h-1.1zM464.7 46.9h1.1v1.1h-1.1zM484.8 45.9h1.1v1.1h-1.1zM487.2 48.2h1.1v1.1h-1.1zM485.5 48.2h1.1v1.1h-1.1zM482.4 47.8h1.1v1.1h-1.1zM458.2 46.4h1.1v1.1h-1.1zM449.9 39.0h1.1v1.1h-1.1zM467.1 48.0h1.1v1.1h-1.1zM451.2 43.2h1.1v1.1h-1.1zM487.8 48.3h1.1v1.1h-1.1zM461.9 48.4h1.1v1.1h-1.1zM456.9 46.8h1.1v1.1h-1.1zM469.0 47.4h1.1v1.1h-1.1zM451.8 46.4h1.1v1.1h-1.1zM485.4 46.3h1.1v1.1h-1.1zM476.7 45.5h1.1v1.1h-1.1zM463.7 50.6h1.1v1.1h-1.1zM483.0 47.7h1.1v1.1h-1.1zM481.2 50.0h1.1v1.1h-1.1zM462.0 47.1h1.1v1.1h-1.1zM483.2 47.9h1.1v1.1h-1.1zM486.6 47.3h1.1v1.1h-1.1zM473.9 48.9h1.1v1.1h-1.1zM463.0 49.7h1.1v1.1h-1.1zM485.4 48.3h1.1v1.1h-1.1zM487.1 46.1h1.1v1.1h-1.1zM462.8 45.9h1.1v1.1h-1.1zM452.2 51.7h1.1v1.1h-1.1zM484.1 47.1h1.1v1.1h-1.1zM475.8 47.1h1.1v1.1h-1.1zM458.1 51.3h1.1v1.1h-1.1zM471.8 50.4h1.1v1.1h-1.1zM461.2 49.0h1.1v1.1h-1.1zM486.2 46.8h1.1v1.1h-1.1zM462.6 53.4h1.1v1.1h-1.1zM456.7 48.7h1.1v1.1h-1.1zM450.4 49.1h1.1v1.1h-1.1zM462.6 47.3h1.1v1.1h-1.1zM489.0 44.4h1.1v1.1h-1.1zM457.6 44.5h1.1v1.1h-1.1zM467.3 48.7h1.1v1.1h-1.1zM488.3 48.7h1.1v1.1h-1.1zM460.7 44.9h1.1v1.1h-1.1zM482.2 44.3h1.1v1.1h-1.1zM452.6 47.0h1.1v1.1h-1.1zM486.5 44.3h1.1v1.1h-1.1zM482.7 49.9h1.1v1.1h-1.1zM454.5 50.5h1.1v1.1h-1.1zM472.8 54.5h1.1v1.1h-1.1zM471.3 49.9h1.1v1.1h-1.1zM477.0 46.3h1.1v1.1h-1.1zM461.2 45.7h1.1v1.1h-1.1zM464.3 39.5h1.1v1.1h-1.1zM458.5 46.3h1.1v1.1h-1.1zM460.6 47.3h1.1v1.1h-1.1zM455.8 50.1h1.1v1.1h-1.1zM485.5 49.2h1.1v1.1h-1.1zM484.9 49.2h1.1v1.1h-1.1zM463.3 48.3h1.1v1.1h-1.1zM476.9 49.3h1.1v1.1h-1.1zM468.7 51.2h1.1v1.1h-1.1zM460.1 45.2h1.1v1.1h-1.1zM462.9 46.7h1.1v1.1h-1.1zM488.0 44.4h1.1v1.1h-1.1zM462.6 51.6h1.1v1.1h-1.1zM472.3 50.9h1.1v1.1h-1.1zM487.2 49.6h1.1v1.1h-1.1zM460.8 44.9h1.1v1.1h-1.1zM481.7 48.2h1.1v1.1h-1.1zM453.3 47.2h1.1v1.1h-1.1zM478.6 47.9h1.1v1.1h-1.1zM481.6 47.3h1.1v1.1h-1.1zM482.8 49.0h1.1v1.1h-1.1zM488.4 46.8h1.1v1.1h-1.1zM477.7 49.8h1.1v1.1h-1.1zM488.5 48.3h1.1v1.1h-1.1zM460.0 47.0h1.1v1.1h-1.1zM469.9 47.5h1.1v1.1h-1.1zM457.4 46.7h1.1v1.1h-1.1zM452.1 49.7h1.1v1.1h-1.1zM466.6 47.1h1.1v1.1h-1.1zM478.0 48.5h1.1v1.1h-1.1zM480.4 46.8h1.1v1.1h-1.1zM449.3 44.2h1.1v1.1h-1.1zM487.1 49.9h1.1v1.1h-1.1zM458.7 45.2h1.1v1.1h-1.1zM460.6 49.4h1.1v1.1h-1.1zM482.6 48.8h1.1v1.1h-1.1zM485.1 43.8h1.1v1.1h-1.1zM478.7 45.5h1.1v1.1h-1.1zM462.2 46.5h1.1v1.1h-1.1zM467.5 45.8h1.1v1.1h-1.1zM482.7 44.9h1.1v1.1h-1.1zM463.2 49.5h1.1v1.1h-1.1zM481.5 47.2h1.1v1.1h-1.1zM480.6 48.7h1.1v1.1h-1.1zM467.8 46.7h1.1v1.1h-1.1zM485.2 48.5h1.1v1.1h-1.1zM464.3 45.9h1.1v1.1h-1.1zM479.2 47.7h1.1v1.1h-1.1zM474.8 49.1h1.1v1.1h-1.1zM462.2 47.9h1.1v1.1h-1.1zM470.3 46.7h1.1v1.1h-1.1zM473.4 45.1h1.1v1.1h-1.1zM470.6 48.2h1.1v1.1h-1.1zM453.2 48.6h1.1v1.1h-1.1zM489.1 47.1h1.1v1.1h-1.1zM488.1 45.9h1.1v1.1h-1.1zM450.2 49.1h1.1v1.1h-1.1zM487.2 53.7h1.1v1.1h-1.1zM470.3 47.0h1.1v1.1h-1.1zM453.8 48.6h1.1v1.1h-1.1zM482.1 48.7h1.1v1.1h-1.1zM466.3 41.6h1.1v1.1h-1.1zM477.7 48.0h1.1v1.1h-1.1zM482.4 46.1h1.1v1.1h-1.1zM470.6 51.1h1.1v1.1h-1.1zM450.7 47.1h1.1v1.1h-1.1zM482.2 45.9h1.1v1.1h-1.1zM477.0 47.2h1.1v1.1h-1.1zM485.8 48.1h1.1v1.1h-1.1zM459.7 46.4h1.1v1.1h-1.1zM480.7 47.6h1.1v1.1h-1.1zM484.3 44.5h1.1v1.1h-1.1zM463.1 47.2h1.1v1.1h-1.1zM465.4 49.6h1.1v1.1h-1.1zM462.3 52.5h1.1v1.1h-1.1zM458.1 48.4h1.1v1.1h-1.1zM462.2 50.6h1.1v1.1h-1.1zM453.1 50.2h1.1v1.1h-1.1zM479.9 51.7h1.1v1.1h-1.1zM466.1 50.3h1.1v1.1h-1.1zM471.8 47.5h1.1v1.1h-1.1zM460.3 48.4h1.1v1.1h-1.1zM463.4 48.2h1.1v1.1h-1.1zM479.4 48.5h1.1v1.1h-1.1zM467.8 48.2h1.1v1.1h-1.1zM473.0 45.9h1.1v1.1h-1.1zM465.9 42.7h1.1v1.1h-1.1zM471.4 46.1h1.1v1.1h-1.1zM485.3 42.9h1.1v1.1h-1.1zM459.6 47.9h1.1v1.1h-1.1zM469.8 47.8h1.1v1.1h-1.1zM476.7 43.7h1.1v1.1h-1.1zM452.2 49.4h1.1v1.1h-1.1zM487.9 49.8h1.1v1.1h-1.1zM469.0 48.0h1.1v1.1h-1.1zM458.7 51.8h1.1v1.1h-1.1zM479.7 52.2h1.1v1.1h-1.1zM481.9 44.9h1.1v1.1h-1.1zM474.4 50.2h1.1v1.1h-1.1zM486.0 48.8h1.1v1.1h-1.1zM452.3 48.8h1.1v1.1h-1.1zM470.2 50.0h1.1v1.1h-1.1zM479.0 46.0h1.1v1.1h-1.1zM486.1 46.3h1.1v1.1h-1.1zM474.8 45.8h1.1v1.1h-1.1zM473.2 45.9h1.1v1.1h-1.1zM464.5 47.5h1.1v1.1h-1.1zM472.0 44.3h1.1v1.1h-1.1zM471.3 45.2h1.1v1.1h-1.1zM485.6 49.1h1.1v1.1h-1.1zM482.4 47.6h1.1v1.1h-1.1zM478.7 48.7h1.1v1.1h-1.1zM486.3 43.2h1.1v1.1h-1.1zM451.3 45.9h1.1v1.1h-1.1zM480.1 46.4h1.1v1.1h-1.1zM467.6 47.8h1.1v1.1h-1.1zM479.3 46.3h1.1v1.1h-1.1zM460.7 50.0h1.1v1.1h-1.1zM467.7 47.6h1.1v1.1h-1.1zM482.3 47.8h1.1v1.1h-1.1zM450.1 47.8h1.1v1.1h-1.1zM460.5 49.4h1.1v1.1h-1.1zM468.6 46.6h1.1v1.1h-1.1zM483.4 50.4h1.1v1.1h-1.1zM459.7 48.9h1.1v1.1h-1.1zM482.2 48.1h1.1v1.1h-1.1zM458.6 47.9h1.1v1.1h-1.1zM461.0 49.0h1.1v1.1h-1.1zM471.2 50.2h1.1v1.1h-1.1zM475.3 50.0h1.1v1.1h-1.1zM484.6 48.7h1.1v1.1h-1.1zM484.5 49.9h1.1v1.1h-1.1zM458.9 48.0h1.1v1.1h-1.1zM479.1 50.8h1.1v1.1h-1.1zM474.6 47.7h1.1v1.1h-1.1zM464.4 42.8h1.1v1.1h-1.1zM480.3 51.0h1.1v1.1h-1.1zM485.3 48.0h1.1v1.1h-1.1zM468.2 44.9h1.1v1.1h-1.1zM486.0 47.3h1.1v1.1h-1.1zM453.9 45.6h1.1v1.1h-1.1zM455.4 52.8h1.1v1.1h-1.1zM479.8 48.9h1.1v1.1h-1.1zM461.1 44.0h1.1v1.1h-1.1zM472.5 49.1h1.1v1.1h-1.1zM468.9 46.8h1.1v1.1h-1.1zM454.6 52.4h1.1v1.1h-1.1zM479.4 45.2h1.1v1.1h-1.1zM478.9 42.4h1.1v1.1h-1.1zM454.6 47.9h1.1v1.1h-1.1zM459.2 46.9h1.1v1.1h-1.1zM481.3 46.8h1.1v1.1h-1.1zM485.9 42.6h1.1v1.1h-1.1zM484.1 48.8h1.1v1.1h-1.1zM469.1 51.8h1.1v1.1h-1.1zM463.6 43.2h1.1v1.1h-1.1zM466.8 50.6h1.1v1.1h-1.1zM455.8 46.4h1.1v1.1h-1.1zM468.9 53.4h1.1v1.1h-1.1zM458.1 48.8h1.1v1.1h-1.1zM455.3 47.3h1.1v1.1h-1.1zM464.2 50.4h1.1v1.1h-1.1zM451.3 49.0h1.1v1.1h-1.1zM467.8 46.3h1.1v1.1h-1.1zM477.1 49.5h1.1v1.1h-1.1zM475.2 46.5h1.1v1.1h-1.1zM488.4 43.5h1.1v1.1h-1.1zM484.8 52.6h1.1v1.1h-1.1zM474.5 46.9h1.1v1.1h-1.1zM485.3 46.3h1.1v1.1h-1.1zM466.8 48.6h1.1v1.1h-1.1zM481.2 44.0h1.1v1.1h-1.1zM460.3 44.5h1.1v1.1h-1.1zM470.1 46.6h1.1v1.1h-1.1zM488.6 46.5h1.1v1.1h-1.1zM473.1 47.9h1.1v1.1h-1.1zM469.3 50.4h1.1v1.1h-1.1zM480.8 46.6h1.1v1.1h-1.1zM461.4 48.9h1.1v1.1h-1.1zM482.6 49.2h1.1v1.1h-1.1zM449.4 45.1h1.1v1.1h-1.1zM458.4 48.3h1.1v1.1h-1.1zM455.9 45.5h1.1v1.1h-1.1zM459.1 50.3h1.1v1.1h-1.1zM487.2 48.8h1.1v1.1h-1.1zM449.6 47.8h1.1v1.1h-1.1zM460.8 44.5h1.1v1.1h-1.1zM472.1 48.0h1.1v1.1h-1.1zM477.3 45.9h1.1v1.1h-1.1zM480.2 49.4h1.1v1.1h-1.1zM464.3 47.5h1.1v1.1h-1.1zM457.6 45.8h1.1v1.1h-1.1zM483.4 50.0h1.1v1.1h-1.1zM453.6 49.5h1.1v1.1h-1.1zM451.3 46.3h1.1v1.1h-1.1zM458.1 50.5h1.1v1.1h-1.1zM468.7 47.0h1.1v1.1h-1.1zM487.1 47.0h1.1v1.1h-1.1zM478.4 48.0h1.1v1.1h-1.1zM471.7 45.9h1.1v1.1h-1.1zM469.9 46.7h1.1v1.1h-1.1zM476.9 47.4h1.1v1.1h-1.1zM474.2 51.4h1.1v1.1h-1.1zM462.4 51.3h1.1v1.1h-1.1zM452.4 47.1h1.1v1.1h-1.1zM456.8 51.6h1.1v1.1h-1.1zM480.6 47.6h1.1v1.1h-1.1zM474.5 48.7h1.1v1.1h-1.1zM481.2 49.9h1.1v1.1h-1.1zM450.5 48.5h1.1v1.1h-1.1zM485.4 53.5h1.1v1.1h-1.1zM464.2 48.3h1.1v1.1h-1.1zM486.4 44.9h1.1v1.1h-1.1zM472.9 50.9h1.1v1.1h-1.1zM471.0 46.8h1.1v1.1h-1.1zM482.0 47.0h1.1v1.1h-1.1zM474.2 40.6h1.1v1.1h-1.1zM476.2 50.2h1.1v1.1h-1.1zM455.1 49.7h1.1v1.1h-1.1zM473.3 49.7h1.1v1.1h-1.1zM463.2 50.1h1.1v1.1h-1.1zM451.7 51.8h1.1v1.1h-1.1zM454.1 47.6h1.1v1.1h-1.1zM468.2 50.0h1.1v1.1h-1.1zM459.4 46.0h1.1v1.1h-1.1zM479.9 46.9h1.1v1.1h-1.1zM453.6 50.3h1.1v1.1h-1.1zM489.3 44.5h1.1v1.1h-1.1zM461.4 48.6h1.1v1.1h-1.1zM469.4 47.3h1.1v1.1h-1.1zM457.2 45.8h1.1v1.1h-1.1zM457.2 48.8h1.1v1.1h-1.1zM465.1 46.8h1.1v1.1h-1.1zM480.9 44.0h1.1v1.1h-1.1zM450.2 45.1h1.1v1.1h-1.1zM482.8 52.0h1.1v1.1h-1.1zM489.1 44.1h1.1v1.1h-1.1zM471.5 48.3h1.1v1.1h-1.1zM463.3 49.2h1.1v1.1h-1.1zM458.2 49.3h1.1v1.1h-1.1zM456.1 44.8h1.1v1.1h-1.1zM461.8 47.0h1.1v1.1h-1.1zM483.4 48.1h1.1v1.1h-1.1zM480.7 46.2h1.1v1.1h-1.1zM475.9 45.0h1.1v1.1h-1.1zM449.4 50.2h1.1v1.1h-1.1zM451.5 50.4h1.1v1.1h-1.1zM478.6 48.6h1.1v1.1h-1.1zM476.1 46.3h1.1v1.1h-1.1zM461.4 48.7h1.1v1.1h-1.1zM483.8 48.0h1.1v1.1h-1.1zM457.2 49.8h1.1v1.1h-1.1zM466.1 44.8h1.1v1.1h-1.1zM453.3 48.0h1.1v1.1h-1.1zM475.0 47.4h1.1v1.1h-1.1zM452.2 45.1h1.1v1.1h-1.1zM456.0 48.3h1.1v1.1h-1.1zM479.9 47.8h1.1v1.1h-1.1zM469.1 46.8h1.1v1.1h-1.1zM475.7 48.7h1.1v1.1h-1.1zM478.6 44.3h1.1v1.1h-1.1zM473.4 47.6h1.1v1.1h-1.1zM456.7 48.8h1.1v1.1h-1.1zM477.1 48.4h1.1v1.1h-1.1zM453.4 50.3h1.1v1.1h-1.1zM459.7 44.9h1.1v1.1h-1.1zM466.9 44.1h1.1v1.1h-1.1zM453.3 48.3h1.1v1.1h-1.1zM453.0 48.8h1.1v1.1h-1.1zM475.3 52.8h1.1v1.1h-1.1zM478.9 49.2h1.1v1.1h-1.1zM463.8 45.7h1.1v1.1h-1.1zM464.6 49.7h1.1v1.1h-1.1zM457.1 45.7h1.1v1.1h-1.1zM469.9 44.2h1.1v1.1h-1.1zM472.3 54.0h1.1v1.1h-1.1zM486.7 48.5h1.1v1.1h-1.1zM450.3 49.5h1.1v1.1h-1.1zM485.7 49.1h1.1v1.1h-1.1zM489.1 52.1h1.1v1.1h-1.1zM462.8 48.4h1.1v1.1h-1.1zM478.3 50.7h1.1v1.1h-1.1zM482.3 45.3h1.1v1.1h-1.1zM475.2 44.4h1.1v1.1h-1.1zM460.4 51.2h1.1v1.1h-1.1zM474.1 51.3h1.1v1.1h-1.1zM484.4 49.0h1.1v1.1h-1.1zM453.0 48.3h1.1v1.1h-1.1zM468.2 48.1h1.1v1.1h-1.1zM449.6 46.1h1.1v1.1h-1.1zM483.1 51.4h1.1v1.1h-1.1zM480.4 49.3h1.1v1.1h-1.1zM450.5 49.0h1.1v1.1h-1.1zM479.1 48.7h1.1v1.1h-1.1zM476.9 50.3h1.1v1.1h-1.1zM453.8 49.0h1.1v1.1h-1.1zM470.1 49.5h1.1v1.1h-1.1zM476.8 44.9h1.1v1.1h-1.1zM462.3 49.0h1.1v1.1h-1.1zM469.2 53.0h1.1v1.1h-1.1zM488.5 46.5h1.1v1.1h-1.1zM474.6 47.4h1.1v1.1h-1.1zM469.1 49.9h1.1v1.1h-1.1zM451.3 50.0h1.1v1.1h-1.1zM453.6 49.2h1.1v1.1h-1.1zM483.4 43.9h1.1v1.1h-1.1zM478.9 49.0h1.1v1.1h-1.1zM482.7 44.9h1.1v1.1h-1.1zM472.2 45.8h1.1v1.1h-1.1zM472.2 49.1h1.1v1.1h-1.1zM470.3 47.0h1.1v1.1h-1.1zM478.6 49.7h1.1v1.1h-1.1zM462.1 55.3h1.1v1.1h-1.1zM468.9 49.6h1.1v1.1h-1.1zM467.8 49.5h1.1v1.1h-1.1zM475.6 45.6h1.1v1.1h-1.1zM457.5 46.2h1.1v1.1h-1.1zM449.7 45.2h1.1v1.1h-1.1zM452.3 46.5h1.1v1.1h-1.1zM456.0 45.1h1.1v1.1h-1.1zM483.6 46.2h1.1v1.1h-1.1zM477.9 47.2h1.1v1.1h-1.1zM479.2 45.3h1.1v1.1h-1.1zM466.8 44.3h1.1v1.1h-1.1zM452.8 44.5h1.1v1.1h-1.1zM467.6 48.8h1.1v1.1h-1.1zM483.9 47.9h1.1v1.1h-1.1zM469.4 50.2h1.1v1.1h-1.1zM474.4 50.3h1.1v1.1h-1.1zM463.9 46.9h1.1v1.1h-1.1zM454.8 49.4h1.1v1.1h-1.1zM474.2 44.3h1.1v1.1h-1.1zM468.4 53.2h1.1v1.1h-1.1zM462.8 50.6h1.1v1.1h-1.1zM459.2 47.2h1.1v1.1h-1.1zM477.0 45.0h1.1v1.1h-1.1zM461.6 48.7h1.1v1.1h-1.1zM472.1 43.3h1.1v1.1h-1.1zM459.2 45.9h1.1v1.1h-1.1zM479.4 49.5h1.1v1.1h-1.1zM463.9 47.9h1.1v1.1h-1.1zM468.2 46.6h1.1v1.1h-1.1zM486.5 50.0h1.1v1.1h-1.1zM478.0 45.3h1.1v1.1h-1.1zM478.7 48.4h1.1v1.1h-1.1zM462.5 46.6h1.1v1.1h-1.1zM482.9 45.7h1.1v1.1h-1.1zM464.4 48.9h1.1v1.1h-1.1zM489.0 45.4h1.1v1.1h-1.1zM485.2 52.3h1.1v1.1h-1.1zM475.5 46.3h1.1v1.1h-1.1zM482.6 52.5h1.1v1.1h-1.1zM470.8 45.1h1.1v1.1h-1.1zM478.6 49.2h1.1v1.1h-1.1zM453.7 44.9h1.1v1.1h-1.1zM489.0 44.5h1.1v1.1h-1.1zM481.3 48.1h1.1v1.1h-1.1zM454.5 49.4h1.1v1.1h-1.1zM458.5 44.7h1.1v1.1h-1.1zM472.1 50.6h1.1v1.1h-1.1zM479.8 45.8h1.1v1.1h-1.1zM454.7 48.1h1.1v1.1h-1.1zM487.8 48.7h1.1v1.1h-1.1z"/>
<path fill="#000" fill-opacity="0.35" d="M467.4 75.7h1.1v1.1h-1.1zM481.6 63.7h1.1v1.1h-1.1zM469.8 70.1h1.1v1.1h-1.1zM455.6 76.4h1.1v1.1h-1.1zM480.8 68.1h1.1v1.1h-1.1zM489.3 67.9h1.1v1.1h-1.1zM488.2 56.1h1.1v1.1h-1.1zM476.4 68.2h1.1v1.1h-1.1zM466.3 60.0h1.1v1.1h-1.1zM450.0 63.4h1.1v1.1h-1.1zM478.8 63.1h1.1v1.1h-1.1zM484.0 76.8h1.1v1.1h-1.1zM473.7 69.1h1.1v1.1h-1.1zM502.2 71.1h1.1v1.1h-1.1zM460.6 58.4h1.1v1.1h-1.1zM494.2 61.4h1.1v1.1h-1.1zM489.0 74.6h1.1v1.1h-1.1zM498.9 57.2h1.1v1.1h-1.1zM500.3 76.4h1.1v1.1h-1.1zM462.5 64.3h1.1v1.1h-1.1zM388.5 189.5h1.1v1.1h-1.1zM396.5 191.0h1.1v1.1h-1.1zM372.9 186.2h1.1v1.1h-1.1zM388.4 192.5h1.1v1.1h-1.1zM383.2 182.4h1.1v1.1h-1.1zM374.5 201.7h1.1v1.1h-1.1zM382.9 189.0h1.1v1.1h-1.1zM392.2 179.7h1.1v1.1h-1.1zM387.7 186.3h1.1v1.1h-1.1zM388.1 201.3h1.1v1.1h-1.1zM379.3 186.6h1.1v1.1h-1.1zM385.7 188.3h1.1v1.1h-1.1zM383.9 201.9h1.1v1.1h-1.1zM396.9 197.5h1.1v1.1h-1.1zM396.0 187.7h1.1v1.1h-1.1zM488.6 185.9h1.1v1.1h-1.1zM485.4 193.0h1.1v1.1h-1.1zM490.6 193.6h1.1v1.1h-1.1zM483.8 192.2h1.1v1.1h-1.1zM488.7 190.7h1.1v1.1h-1.1zM482.2 180.9h1.1v1.1h-1.1zM487.8 190.6h1.1v1.1h-1.1zM494.1 187.7h1.1v1.1h-1.1zM483.6 194.5h1.1v1.1h-1.1zM491.8 195.2h1.1v1.1h-1.1zM480.8 198.8h1.1v1.1h-1.1zM484.4 192.6h1.1v1.1h-1.1zM485.4 193.1h1.1v1.1h-1.1zM495.9 185.6h1.1v1.1h-1.1zM481.7 190.1h1.1v1.1h-1.1zM495.7 184.8h1.1v1.1h-1.1zM476.7 193.4h1.1v1.1h-1.1zM485.9 184.9h1.1v1.1h-1.1zM493.5 188.9h1.1v1.1h-1.1zM492.0 186.4h1.1v1.1h-1.1zM479.9 187.9h1.1v1.1h-1.1zM478.4 191.6h1.1v1.1h-1.1zM493.3 187.5h1.1v1.1h-1.1zM478.1 190.7h1.1v1.1h-1.1zM491.1 185.7h1.1v1.1h-1.1zM483.4 195.4h1.1v1.1h-1.1zM487.0 187.1h1.1v1.1h-1.1zM503.4 193.9h1.1v1.1h-1.1zM498.0 198.4h1.1v1.1h-1.1zM493.0 179.9h1.1v1.1h-1.1zM477.3 185.7h1.1v1.1h-1.1zM489.3 188.9h1.1v1.1h-1.1zM487.4 194.5h1.1v1.1h-1.1zM486.3 187.8h1.1v1.1h-1.1zM496.5 191.3h1.1v1.1h-1.1zM474.9 186.8h1.1v1.1h-1.1zM489.3 192.0h1.1v1.1h-1.1zM487.9 184.8h1.1v1.1h-1.1zM481.7 193.1h1.1v1.1h-1.1zM499.3 177.6h1.1v1.1h-1.1zM478.1 182.1h1.1v1.1h-1.1zM487.2 197.1h1.1v1.1h-1.1zM487.6 190.4h1.1v1.1h-1.1zM471.5 186.1h1.1v1.1h-1.1zM476.9 198.7h1.1v1.1h-1.1zM456.1 185.0h1.1v1.1h-1.1zM460.1 184.5h1.1v1.1h-1.1zM455.5 183.6h1.1v1.1h-1.1zM458.3 179.5h1.1v1.1h-1.1zM503.3 207.7h1.1v1.1h-1.1zM474.3 209.7h1.1v1.1h-1.1zM465.5 207.4h1.1v1.1h-1.1zM453.1 209.4h1.1v1.1h-1.1zM457.4 209.8h1.1v1.1h-1.1zM452.0 204.6h1.1v1.1h-1.1zM480.2 204.5h1.1v1.1h-1.1zM470.4 210.4h1.1v1.1h-1.1zM465.6 205.5h1.1v1.1h-1.1zM494.5 206.6h1.1v1.1h-1.1zM453.9 206.4h1.1v1.1h-1.1zM472.7 209.4h1.1v1.1h-1.1zM493.6 203.5h1.1v1.1h-1.1zM495.1 206.9h1.1v1.1h-1.1zM488.5 206.7h1.1v1.1h-1.1zM478.3 204.1h1.1v1.1h-1.1zM458.2 206.6h1.1v1.1h-1.1zM471.2 209.6h1.1v1.1h-1.1zM489.5 203.8h1.1v1.1h-1.1zM492.4 205.2h1.1v1.1h-1.1z"/>
<path fill="#000" fill-opacity="0.6" d="M449.7 42.2h1.1v1.1h-1.1zM449.9 49.8h1.1v1.1h-1.1zM449.8 45.0h1.1v1.1h-1.1zM449.8 47.9h1.1v1.1h-1.1zM449.8 54.3h1.1v1.1h-1.1zM450.1 48.0h1.1v1.1h-1.1zM449.6 45.4h1.1v1.1h-1.1zM449.4 51.4h1.1v1.1h-1.1zM449.8 43.1h1.1v1.1h-1.1zM449.4 34.7h1.1v1.1h-1.1zM449.8 39.9h1.1v1.1h-1.1zM449.8 46.3h1.1v1.1h-1.1zM450.2 53.4h1.1v1.1h-1.1zM449.4 46.6h1.1v1.1h-1.1zM449.7 40.1h1.1v1.1h-1.1zM450.2 54.3h1.1v1.1h-1.1zM449.7 42.5h1.1v1.1h-1.1zM450.3 39.0h1.1v1.1h-1.1zM450.1 45.5h1.1v1.1h-1.1zM449.3 41.3h1.1v1.1h-1.1z"/>
<path fill="#000" fill-opacity="0.85" d="M377.2 106.0h1.1v1.1h-1.1zM370.5 106.9h1.1v1.1h-1.1zM370.1 108.9h1.1v1.1h-1.1zM371.1 105.9h1.1v1.1h-1.1zM373.0 105.3h1.1v1.1h-1.1zM376.2 107.6h1.1v1.1h-1.1zM375.8 111.5h1.1v1.1h-1.1zM373.4 108.9h1.1v1.1h-1.1zM377.0 112.1h1.1v1.1h-1.1zM373.8 108.1h1.1v1.1h-1.1zM376.9 107.7h1.1v1.1h-1.1zM370.1 105.0h1.1v1.1h-1.1zM370.1 107.0h1.1v1.1h-1.1zM376.4 112.0h1.1v1.1h-1.1zM370.1 109.3h1.1v1.1h-1.1zM372.3 110.3h1.1v1.1h-1.1zM373.1 110.2h1.1v1.1h-1.1zM371.6 108.4h1.1v1.1h-1.1zM371.7 107.9h1.1v1.1h-1.1zM378.7 108.7h1.1v1.1h-1.1zM370.1 110.1h1.1v1.1h-1.1zM376.8 109.6h1.1v1.1h-1.1zM382.2 109.7h1.1v1.1h-1.1zM373.5 108.8h1.1v1.1h-1.1zM373.4 106.5h1.1v1.1h-1.1zM376.2 107.8h1.1v1.1h-1.1zM380.4 106.1h1.1v1.1h-1.1zM370.1 111.0h1.1v1.1h-1.1zM373.8 103.2h1.1v1.1h-1.1zM372.7 107.9h1.1v1.1h-1.1zM375.6 114.4h1.1v1.1h-1.1zM374.1 107.6h1.1v1.1h-1.1zM376.0 105.6h1.1v1.1h-1.1zM371.8 108.4h1.1v1.1h-1.1zM373.6 111.7h1.1v1.1h-1.1zM370.9 108.0h1.1v1.1h-1.1zM370.9 110.0h1.1v1.1h-1.1zM372.9 108.7h1.1v1.1h-1.1zM372.9 107.5h1.1v1.1h-1.1zM370.1 116.3h1.1v1.1h-1.1zM379.4 108.6h1.1v1.1h-1.1zM372.9 107.1h1.1v1.1h-1.1zM370.1 107.2h1.1v1.1h-1.1zM377.6 109.4h1.1v1.1h-1.1zM370.6 109.5h1.1v1.1h-1.1zM375.4 110.4h1.1v1.1h-1.1zM373.4 108.8h1.1v1.1h-1.1zM374.4 104.9h1.1v1.1h-1.1zM374.1 109.8h1.1v1.1h-1.1zM371.3 107.7h1.1v1.1h-1.1zM373.6 107.7h1.1v1.1h-1.1zM381.2 104.7h1.1v1.1h-1.1zM370.1 107.0h1.1v1.1h-1.1zM373.7 106.6h1.1v1.1h-1.1zM375.1 108.4h1.1v1.1h-1.1zM370.1 104.8h1.1v1.1h-1.1zM370.1 108.6h1.1v1.1h-1.1zM381.7 108.8h1.1v1.1h-1.1zM372.0 105.7h1.1v1.1h-1.1zM381.4 106.9h1.1v1.1h-1.1zM375.5 106.3h1.1v1.1h-1.1zM373.7 110.7h1.1v1.1h-1.1zM375.3 102.1h1.1v1.1h-1.1zM375.9 107.6h1.1v1.1h-1.1zM377.9 104.3h1.1v1.1h-1.1zM375.1 107.4h1.1v1.1h-1.1zM374.0 110.6h1.1v1.1h-1.1zM374.1 106.9h1.1v1.1h-1.1zM378.6 108.8h1.1v1.1h-1.1zM376.6 106.3h1.1v1.1h-1.1zM370.1 113.3h1.1v1.1h-1.1zM371.0 110.7h1.1v1.1h-1.1zM374.7 111.3h1.1v1.1h-1.1zM371.1 105.1h1.1v1.1h-1.1zM372.0 105.7h1.1v1.1h-1.1zM370.1 111.1h1.1v1.1h-1.1zM372.5 108.0h1.1v1.1h-1.1zM375.1 107.8h1.1v1.1h-1.1zM377.2 109.3h1.1v1.1h-1.1zM373.5 105.3h1.1v1.1h-1.1zM381.3 110.4h1.1v1.1h-1.1zM373.2 108.5h1.1v1.1h-1.1zM385.6 109.6h1.1v1.1h-1.1zM377.3 106.8h1.1v1.1h-1.1zM375.3 109.7h1.1v1.1h-1.1zM371.6 106.7h1.1v1.1h-1.1zM370.1 110.8h1.1v1.1h-1.1zM372.9 111.3h1.1v1.1h-1.1zM374.1 110.7h1.1v1.1h-1.1zM380.8 109.7h1.1v1.1h-1.1zM370.1 110.0h1.1v1.1h-1.1zM380.7 101.7h1.1v1.1h-1.1zM372.5 110.5h1.1v1.1h-1.1zM376.2 107.8h1.1v1.1h-1.1zM370.1 108.7h1.1v1.1h-1.1zM374.0 107.7h1.1v1.1h-1.1zM372.1 105.0h1.1v1.1h-1.1zM376.0 107.1h1.1v1.1h-1.1zM373.8 110.1h1.1v1.1h-1.1zM370.1 112.0h1.1v1.1h-1.1zM377.0 106.9h1.1v1.1h-1.1zM376.1 106.2h1.1v1.1h-1.1zM375.7 112.1h1.1v1.1h-1.1zM377.3 106.2h1.1v1.1h-1.1zM377.6 113.6h1.1v1.1h-1.1zM373.4 108.6h1.1v1.1h-1.1zM370.1 106.2h1.1v1.1h-1.1zM370.1 110.9h1.1v1.1h-1.1zM378.6 112.7h1.1v1.1h-1.1zM376.1 104.9h1.1v1.1h-1.1zM373.8 112.3h1.1v1.1h-1.1zM371.8 107.7h1.1v1.1h-1.1zM373.6 112.2h1.1v1.1h-1.1zM373.5 107.5h1.1v1.1h-1.1zM372.2 104.5h1.1v1.1h-1.1zM370.8 109.7h1.1v1.1h-1.1zM381.7 110.8h1.1v1.1h-1.1zM374.3 113.7h1.1v1.1h-1.1zM371.1 112.8h1.1v1.1h-1.1zM370.1 110.2h1.1v1.1h-1.1zM370.7 107.9h1.1v1.1h-1.1zM376.2 107.1h1.1v1.1h-1.1zM376.3 107.7h1.1v1.1h-1.1zM372.6 106.4h1.1v1.1h-1.1zM373.6 107.8h1.1v1.1h-1.1zM372.3 102.1h1.1v1.1h-1.1zM370.1 108.9h1.1v1.1h-1.1zM378.4 108.4h1.1v1.1h-1.1zM374.9 114.9h1.1v1.1h-1.1zM382.9 110.3h1.1v1.1h-1.1zM370.6 107.2h1.1v1.1h-1.1zM372.9 109.9h1.1v1.1h-1.1zM376.8 105.4h1.1v1.1h-1.1zM372.5 106.9h1.1v1.1h-1.1zM370.1 103.8h1.1v1.1h-1.1zM370.1 112.0h1.1v1.1h-1.1zM373.8 109.9h1.1v1.1h-1.1zM374.8 105.5h1.1v1.1h-1.1zM373.1 108.3h1.1v1.1h-1.1zM377.3 110.8h1.1v1.1h-1.1zM377.2 109.7h1.1v1.1h-1.1zM374.7 109.4h1.1v1.1h-1.1zM373.6 106.3h1.1v1.1h-1.1zM372.5 106.9h1.1v1.1h-1.1zM375.5 108.7h1.1v1.1h-1.1zM376.9 110.8h1.1v1.1h-1.1zM373.7 106.4h1.1v1.1h-1.1zM375.2 105.6h1.1v1.1h-1.1zM372.2 111.3h1.1v1.1h-1.1zM370.1 106.1h1.1v1.1h-1.1zM370.1 111.1h1.1v1.1h-1.1zM376.4 109.1h1.1v1.1h-1.1zM375.1 110.7h1.1v1.1h-1.1zM379.5 112.8h1.1v1.1h-1.1zM373.7 110.2h1.1v1.1h-1.1zM376.7 110.4h1.1v1.1h-1.1zM378.5 106.2h1.1v1.1h-1.1zM377.2 106.7h1.1v1.1h-1.1zM371.1 110.1h1.1v1.1h-1.1zM372.7 112.3h1.1v1.1h-1.1zM373.9 111.9h1.1v1.1h-1.1zM370.1 114.2h1.1v1.1h-1.1zM375.3 109.2h1.1v1.1h-1.1zM377.3 109.0h1.1v1.1h-1.1zM371.6 111.0h1.1v1.1h-1.1zM380.9 108.5h1.1v1.1h-1.1zM372.3 108.3h1.1v1.1h-1.1zM372.7 105.8h1.1v1.1h-1.1zM372.5 110.9h1.1v1.1h-1.1zM370.8 105.8h1.1v1.1h-1.1zM375.0 109.7h1.1v1.1h-1.1zM373.5 104.9h1.1v1.1h-1.1zM379.8 111.2h1.1v1.1h-1.1zM375.8 105.9h1.1v1.1h-1.1zM375.5 110.6h1.1v1.1h-1.1zM372.6 104.5h1.1v1.1h-1.1zM370.1 107.4h1.1v1.1h-1.1zM373.1 111.4h1.1v1.1h-1.1zM370.2 106.4h1.1v1.1h-1.1zM377.1 108.6h1.1v1.1h-1.1zM373.3 107.3h1.1v1.1h-1.1zM379.8 102.7h1.1v1.1h-1.1zM376.2 109.2h1.1v1.1h-1.1zM376.6 109.5h1.1v1.1h-1.1zM374.3 105.7h1.1v1.1h-1.1zM374.2 109.9h1.1v1.1h-1.1zM375.9 106.5h1.1v1.1h-1.1zM377.0 105.9h1.1v1.1h-1.1zM370.7 108.5h1.1v1.1h-1.1zM375.3 106.7h1.1v1.1h-1.1zM383.4 114.2h1.1v1.1h-1.1zM373.1 104.6h1.1v1.1h-1.1zM372.5 110.3h1.1v1.1h-1.1zM370.8 110.9h1.1v1.1h-1.1zM370.1 103.5h1.1v1.1h-1.1zM378.0 104.1h1.1v1.1h-1.1zM373.7 109.9h1.1v1.1h-1.1zM374.6 107.2h1.1v1.1h-1.1zM380.5 109.4h1.1v1.1h-1.1zM383.0 111.3h1.1v1.1h-1.1zM370.1 107.5h1.1v1.1h-1.1zM377.5 105.8h1.1v1.1h-1.1zM375.8 101.6h1.1v1.1h-1.1zM375.0 109.0h1.1v1.1h-1.1zM375.3 106.1h1.1v1.1h-1.1zM373.4 109.2h1.1v1.1h-1.1zM379.5 109.0h1.1v1.1h-1.1zM375.8 105.0h1.1v1.1h-1.1zM374.8 112.8h1.1v1.1h-1.1zM378.2 111.2h1.1v1.1h-1.1zM376.9 110.6h1.1v1.1h-1.1zM375.2 105.5h1.1v1.1h-1.1zM374.7 107.4h1.1v1.1h-1.1zM380.1 107.1h1.1v1.1h-1.1zM375.4 107.4h1.1v1.1h-1.1zM373.1 105.6h1.1v1.1h-1.1zM370.2 109.5h1.1v1.1h-1.1zM372.2 109.0h1.1v1.1h-1.1zM370.1 109.4h1.1v1.1h-1.1zM373.9 107.2h1.1v1.1h-1.1zM374.4 111.7h1.1v1.1h-1.1zM370.1 108.9h1.1v1.1h-1.1zM373.5 101.6h1.1v1.1h-1.1zM375.9 106.8h1.1v1.1h-1.1zM374.1 108.3h1.1v1.1h-1.1zM370.1 110.9h1.1v1.1h-1.1zM378.3 107.7h1.1v1.1h-1.1zM370.8 107.8h1.1v1.1h-1.1zM370.1 106.8h1.1v1.1h-1.1zM370.1 110.1h1.1v1.1h-1.1zM373.4 107.3h1.1v1.1h-1.1zM377.2 106.9h1.1v1.1h-1.1zM377.9 106.6h1.1v1.1h-1.1zM374.3 109.8h1.1v1.1h-1.1zM370.1 107.1h1.1v1.1h-1.1zM371.0 104.3h1.1v1.1h-1.1zM370.1 110.0h1.1v1.1h-1.1zM372.8 106.7h1.1v1.1h-1.1zM370.1 109.3h1.1v1.1h-1.1zM373.9 109.4h1.1v1.1h-1.1zM375.9 111.5h1.1v1.1h-1.1zM372.9 111.1h1.1v1.1h-1.1zM375.2 107.0h1.1v1.1h-1.1zM370.1 108.0h1.1v1.1h-1.1zM370.1 105.2h1.1v1.1h-1.1zM371.0 112.6h1.1v1.1h-1.1zM377.9 109.6h1.1v1.1h-1.1zM377.4 111.9h1.1v1.1h-1.1zM371.7 107.7h1.1v1.1h-1.1zM378.0 103.3h1.1v1.1h-1.1zM372.2 112.3h1.1v1.1h-1.1zM379.2 108.7h1.1v1.1h-1.1zM375.3 108.8h1.1v1.1h-1.1zM371.7 108.6h1.1v1.1h-1.1zM376.5 110.1h1.1v1.1h-1.1zM370.5 109.8h1.1v1.1h-1.1zM370.1 104.5h1.1v1.1h-1.1zM370.1 111.2h1.1v1.1h-1.1zM374.4 107.1h1.1v1.1h-1.1zM373.2 107.3h1.1v1.1h-1.1zM373.2 112.8h1.1v1.1h-1.1zM371.9 110.8h1.1v1.1h-1.1zM378.9 107.6h1.1v1.1h-1.1zM371.8 103.8h1.1v1.1h-1.1zM370.7 108.9h1.1v1.1h-1.1zM378.2 109.8h1.1v1.1h-1.1zM378.9 108.2h1.1v1.1h-1.1zM374.7 105.3h1.1v1.1h-1.1zM370.1 106.5h1.1v1.1h-1.1zM371.2 105.3h1.1v1.1h-1.1zM375.8 109.0h1.1v1.1h-1.1zM373.5 110.5h1.1v1.1h-1.1zM379.4 111.0h1.1v1.1h-1.1zM370.1 106.6h1.1v1.1h-1.1zM376.0 109.0h1.1v1.1h-1.1zM371.1 109.8h1.1v1.1h-1.1zM378.5 107.2h1.1v1.1h-1.1zM373.2 108.1h1.1v1.1h-1.1zM377.4 113.8h1.1v1.1h-1.1zM371.0 109.0h1.1v1.1h-1.1zM370.1 110.7h1.1v1.1h-1.1zM370.1 107.4h1.1v1.1h-1.1zM371.1 108.6h1.1v1.1h-1.1zM370.1 104.2h1.1v1.1h-1.1zM378.0 108.4h1.1v1.1h-1.1zM378.5 111.4h1.1v1.1h-1.1zM374.5 113.7h1.1v1.1h-1.1zM370.1 111.4h1.1v1.1h-1.1zM373.0 110.2h1.1v1.1h-1.1zM370.8 108.6h1.1v1.1h-1.1zM379.0 107.0h1.1v1.1h-1.1zM374.7 108.0h1.1v1.1h-1.1zM375.3 110.0h1.1v1.1h-1.1zM371.9 106.5h1.1v1.1h-1.1zM370.1 110.8h1.1v1.1h-1.1zM370.5 106.0h1.1v1.1h-1.1zM370.1 104.0h1.1v1.1h-1.1zM374.9 105.9h1.1v1.1h-1.1zM373.8 104.3h1.1v1.1h-1.1zM370.4 105.0h1.1v1.1h-1.1zM372.0 111.3h1.1v1.1h-1.1zM379.4 107.9h1.1v1.1h-1.1zM370.1 109.0h1.1v1.1h-1.1zM370.1 111.3h1.1v1.1h-1.1zM372.6 111.6h1.1v1.1h-1.1zM370.8 107.2h1.1v1.1h-1.1zM371.8 111.8h1.1v1.1h-1.1zM375.5 109.4h1.1v1.1h-1.1zM380.0 108.5h1.1v1.1h-1.1zM370.1 109.6h1.1v1.1h-1.1zM373.4 104.9h1.1v1.1h-1.1zM373.6 106.5h1.1v1.1h-1.1zM373.1 108.2h1.1v1.1h-1.1zM372.7 110.0h1.1v1.1h-1.1zM372.2 107.5h1.1v1.1h-1.1zM377.3 108.1h1.1v1.1h-1.1zM371.7 110.9h1.1v1.1h-1.1zM373.0 112.0h1.1v1.1h-1.1zM373.4 110.4h1.1v1.1h-1.1zM373.9 111.6h1.1v1.1h-1.1zM372.8 107.4h1.1v1.1h-1.1zM377.2 107.7h1.1v1.1h-1.1zM373.4 109.2h1.1v1.1h-1.1zM374.1 107.7h1.1v1.1h-1.1zM373.3 107.2h1.1v1.1h-1.1zM370.1 112.6h1.1v1.1h-1.1zM370.3 107.9h1.1v1.1h-1.1zM370.1 106.0h1.1v1.1h-1.1zM374.2 109.7h1.1v1.1h-1.1zM370.7 113.0h1.1v1.1h-1.1zM370.1 108.7h1.1v1.1h-1.1zM374.4 111.5h1.1v1.1h-1.1zM375.4 107.4h1.1v1.1h-1.1zM370.1 107.2h1.1v1.1h-1.1zM379.9 106.7h1.1v1.1h-1.1zM373.6 108.1h1.1v1.1h-1.1zM373.1 113.0h1.1v1.1h-1.1zM377.5 105.6h1.1v1.1h-1.1zM373.7 112.5h1.1v1.1h-1.1zM371.2 105.9h1.1v1.1h-1.1zM381.8 107.9h1.1v1.1h-1.1zM370.1 110.5h1.1v1.1h-1.1zM373.1 110.0h1.1v1.1h-1.1zM376.7 109.2h1.1v1.1h-1.1zM370.1 104.3h1.1v1.1h-1.1zM373.1 109.4h1.1v1.1h-1.1zM374.9 105.9h1.1v1.1h-1.1zM382.6 114.9h1.1v1.1h-1.1zM370.1 107.9h1.1v1.1h-1.1zM373.3 108.9h1.1v1.1h-1.1zM376.0 105.6h1.1v1.1h-1.1zM373.8 107.3h1.1v1.1h-1.1zM370.1 105.2h1.1v1.1h-1.1zM375.0 110.9h1.1v1.1h-1.1zM373.9 107.8h1.1v1.1h-1.1zM375.1 109.9h1.1v1.1h-1.1zM377.7 106.7h1.1v1.1h-1.1zM377.3 107.2h1.1v1.1h-1.1zM375.0 111.7h1.1v1.1h-1.1zM374.6 106.0h1.1v1.1h-1.1zM370.1 103.9h1.1v1.1h-1.1zM372.9 109.5h1.1v1.1h-1.1zM374.3 105.6h1.1v1.1h-1.1zM371.9 107.4h1.1v1.1h-1.1zM373.8 110.7h1.1v1.1h-1.1zM370.3 106.4h1.1v1.1h-1.1zM379.3 110.6h1.1v1.1h-1.1zM381.6 106.7h1.1v1.1h-1.1zM372.0 112.2h1.1v1.1h-1.1zM375.0 111.8h1.1v1.1h-1.1zM372.6 107.3h1.1v1.1h-1.1zM378.2 107.9h1.1v1.1h-1.1zM375.1 106.4h1.1v1.1h-1.1zM373.7 109.0h1.1v1.1h-1.1zM372.6 111.3h1.1v1.1h-1.1zM373.9 104.8h1.1v1.1h-1.1zM370.1 110.7h1.1v1.1h-1.1zM376.0 105.1h1.1v1.1h-1.1zM370.7 106.3h1.1v1.1h-1.1zM375.5 104.0h1.1v1.1h-1.1zM373.9 113.7h1.1v1.1h-1.1zM377.6 108.6h1.1v1.1h-1.1zM373.4 109.1h1.1v1.1h-1.1zM377.3 106.8h1.1v1.1h-1.1zM370.1 111.1h1.1v1.1h-1.1zM375.8 103.2h1.1v1.1h-1.1zM372.6 108.5h1.1v1.1h-1.1zM374.2 114.0h1.1v1.1h-1.1zM373.7 107.5h1.1v1.1h-1.1zM377.0 108.5h1.1v1.1h-1.1zM370.1 110.1h1.1v1.1h-1.1zM374.7 106.4h1.1v1.1h-1.1zM370.1 108.5h1.1v1.1h-1.1zM378.0 110.9h1.1v1.1h-1.1zM370.1 108.9h1.1v1.1h-1.1zM370.1 109.4h1.1v1.1h-1.1zM370.1 107.6h1.1v1.1h-1.1zM379.7 109.2h1.1v1.1h-1.1zM370.1 108.6h1.1v1.1h-1.1zM373.9 112.1h1.1v1.1h-1.1zM371.4 110.3h1.1v1.1h-1.1zM370.1 107.8h1.1v1.1h-1.1zM372.2 102.3h1.1v1.1h-1.1zM376.0 110.2h1.1v1.1h-1.1zM372.7 110.3h1.1v1.1h-1.1zM377.0 106.2h1.1v1.1h-1.1zM372.1 103.5h1.1v1.1h-1.1zM373.5 105.6h1.1v1.1h-1.1zM372.0 110.8h1.1v1.1h-1.1zM374.8 105.8h1.1v1.1h-1.1zM380.7 107.3h1.1v1.1h-1.1zM374.8 109.0h1.1v1.1h-1.1zM374.2 111.5h1.1v1.1h-1.1zM371.1 108.4h1.1v1.1h-1.1zM370.6 108.2h1.1v1.1h-1.1zM379.0 107.1h1.1v1.1h-1.1zM370.1 112.5h1.1v1.1h-1.1zM370.1 111.1h1.1v1.1h-1.1zM373.1 108.2h1.1v1.1h-1.1zM371.8 105.0h1.1v1.1h-1.1zM380.9 106.5h1.1v1.1h-1.1zM370.1 109.9h1.1v1.1h-1.1zM374.8 106.6h1.1v1.1h-1.1zM376.2 110.7h1.1v1.1h-1.1zM370.1 109.4h1.1v1.1h-1.1zM371.0 109.2h1.1v1.1h-1.1zM375.1 110.1h1.1v1.1h-1.1zM379.6 109.7h1.1v1.1h-1.1zM370.1 106.3h1.1v1.1h-1.1zM370.1 107.6h1.1v1.1h-1.1zM377.1 114.3h1.1v1.1h-1.1zM379.2 105.4h1.1v1.1h-1.1zM372.2 107.3h1.1v1.1h-1.1zM370.1 111.1h1.1v1.1h-1.1zM379.0 108.1h1.1v1.1h-1.1zM372.7 106.4h1.1v1.1h-1.1zM377.7 105.1h1.1v1.1h-1.1zM373.3 109.8h1.1v1.1h-1.1zM372.0 111.0h1.1v1.1h-1.1zM371.7 111.9h1.1v1.1h-1.1zM379.0 108.6h1.1v1.1h-1.1zM378.9 111.1h1.1v1.1h-1.1zM370.1 105.9h1.1v1.1h-1.1zM370.1 108.9h1.1v1.1h-1.1zM380.2 106.8h1.1v1.1h-1.1zM372.1 108.9h1.1v1.1h-1.1zM370.1 110.3h1.1v1.1h-1.1zM373.5 111.1h1.1v1.1h-1.1zM373.0 106.0h1.1v1.1h-1.1zM373.1 111.6h1.1v1.1h-1.1zM371.6 107.3h1.1v1.1h-1.1zM372.3 105.9h1.1v1.1h-1.1zM371.7 108.0h1.1v1.1h-1.1zM374.7 104.8h1.1v1.1h-1.1zM370.4 108.5h1.1v1.1h-1.1zM372.3 109.2h1.1v1.1h-1.1zM372.9 107.9h1.1v1.1h-1.1zM378.4 109.8h1.1v1.1h-1.1zM374.9 107.7h1.1v1.1h-1.1zM373.0 108.5h1.1v1.1h-1.1zM375.5 104.8h1.1v1.1h-1.1zM375.0 108.6h1.1v1.1h-1.1zM377.6 106.3h1.1v1.1h-1.1zM375.4 107.3h1.1v1.1h-1.1zM380.3 108.2h1.1v1.1h-1.1zM378.6 108.9h1.1v1.1h-1.1zM373.3 104.3h1.1v1.1h-1.1zM371.9 104.5h1.1v1.1h-1.1zM376.8 107.7h1.1v1.1h-1.1zM375.4 109.6h1.1v1.1h-1.1zM373.1 109.4h1.1v1.1h-1.1zM370.1 110.7h1.1v1.1h-1.1zM370.1 111.7h1.1v1.1h-1.1zM374.8 109.7h1.1v1.1h-1.1zM376.4 108.4h1.1v1.1h-1.1zM376.5 105.9h1.1v1.1h-1.1zM370.1 106.1h1.1v1.1h-1.1zM377.4 107.3h1.1v1.1h-1.1zM371.4 109.1h1.1v1.1h-1.1zM374.9 109.0h1.1v1.1h-1.1zM375.0 108.5h1.1v1.1h-1.1zM370.4 108.1h1.1v1.1h-1.1zM371.2 110.0h1.1v1.1h-1.1zM370.1 109.0h1.1v1.1h-1.1zM370.1 109.2h1.1v1.1h-1.1zM370.1 109.2h1.1v1.1h-1.1zM375.1 107.1h1.1v1.1h-1.1zM373.7 105.9h1.1v1.1h-1.1zM376.9 109.7h1.1v1.1h-1.1zM374.8 109.5h1.1v1.1h-1.1zM371.0 107.9h1.1v1.1h-1.1zM374.8 107.4h1.1v1.1h-1.1zM372.0 114.1h1.1v1.1h-1.1zM375.8 106.6h1.1v1.1h-1.1zM374.6 107.9h1.1v1.1h-1.1zM370.1 109.1h1.1v1.1h-1.1zM373.5 105.6h1.1v1.1h-1.1zM373.7 108.7h1.1v1.1h-1.1zM372.3 112.9h1.1v1.1h-1.1zM376.9 110.8h1.1v1.1h-1.1zM380.0 110.0h1.1v1.1h-1.1zM372.1 109.9h1.1v1.1h-1.1zM372.1 108.7h1.1v1.1h-1.1zM370.1 110.8h1.1v1.1h-1.1zM373.0 108.1h1.1v1.1h-1.1zM371.8 107.4h1.1v1.1h-1.1zM370.1 108.7h1.1v1.1h-1.1zM374.5 110.7h1.1v1.1h-1.1zM375.7 109.3h1.1v1.1h-1.1zM370.7 110.1h1.1v1.1h-1.1zM372.0 103.4h1.1v1.1h-1.1zM370.1 111.4h1.1v1.1h-1.1zM376.3 114.3h1.1v1.1h-1.1zM370.1 111.8h1.1v1.1h-1.1zM372.3 107.7h1.1v1.1h-1.1zM380.9 106.3h1.1v1.1h-1.1zM373.6 109.1h1.1v1.1h-1.1zM375.2 106.0h1.1v1.1h-1.1zM372.9 110.3h1.1v1.1h-1.1zM370.1 107.1h1.1v1.1h-1.1zM373.3 110.9h1.1v1.1h-1.1zM375.0 111.9h1.1v1.1h-1.1zM370.1 103.4h1.1v1.1h-1.1zM374.7 109.2h1.1v1.1h-1.1zM378.2 106.7h1.1v1.1h-1.1zM377.5 104.9h1.1v1.1h-1.1zM370.1 106.9h1.1v1.1h-1.1zM370.1 107.9h1.1v1.1h-1.1zM370.1 111.0h1.1v1.1h-1.1zM377.5 104.6h1.1v1.1h-1.1zM375.8 111.1h1.1v1.1h-1.1zM376.1 113.5h1.1v1.1h-1.1zM370.1 109.9h1.1v1.1h-1.1zM370.1 109.8h1.1v1.1h-1.1zM373.7 108.4h1.1v1.1h-1.1zM373.8 105.5h1.1v1.1h-1.1zM370.2 109.8h1.1v1.1h-1.1zM374.0 109.4h1.1v1.1h-1.1zM375.9 110.3h1.1v1.1h-1.1zM374.3 114.9h1.1v1.1h-1.1zM370.1 110.3h1.1v1.1h-1.1zM370.1 109.5h1.1v1.1h-1.1zM372.5 112.4h1.1v1.1h-1.1zM374.1 105.1h1.1v1.1h-1.1zM372.5 105.6h1.1v1.1h-1.1zM371.8 107.5h1.1v1.1h-1.1zM370.8 106.8h1.1v1.1h-1.1zM376.2 110.2h1.1v1.1h-1.1zM373.3 107.7h1.1v1.1h-1.1zM373.9 112.8h1.1v1.1h-1.1zM380.1 217.7h1.1v1.1h-1.1zM376.3 219.3h1.1v1.1h-1.1zM370.6 220.8h1.1v1.1h-1.1zM377.9 208.6h1.1v1.1h-1.1zM375.0 215.6h1.1v1.1h-1.1zM370.6 218.5h1.1v1.1h-1.1zM381.6 220.4h1.1v1.1h-1.1zM370.6 220.8h1.1v1.1h-1.1zM384.0 212.3h1.1v1.1h-1.1zM371.5 214.4h1.1v1.1h-1.1zM382.5 211.9h1.1v1.1h-1.1zM374.5 218.9h1.1v1.1h-1.1zM370.6 210.9h1.1v1.1h-1.1zM375.2 220.3h1.1v1.1h-1.1zM376.3 219.3h1.1v1.1h-1.1zM377.4 217.7h1.1v1.1h-1.1zM380.0 207.7h1.1v1.1h-1.1zM370.6 213.3h1.1v1.1h-1.1zM377.1 218.6h1.1v1.1h-1.1zM378.3 210.5h1.1v1.1h-1.1zM373.3 214.9h1.1v1.1h-1.1zM370.6 215.4h1.1v1.1h-1.1zM370.6 219.2h1.1v1.1h-1.1zM378.4 216.9h1.1v1.1h-1.1zM378.7 216.9h1.1v1.1h-1.1zM370.6 214.2h1.1v1.1h-1.1zM370.6 215.9h1.1v1.1h-1.1zM380.8 215.3h1.1v1.1h-1.1zM370.6 218.6h1.1v1.1h-1.1zM375.5 215.2h1.1v1.1h-1.1zM370.7 219.7h1.1v1.1h-1.1zM370.6 209.5h1.1v1.1h-1.1zM375.3 220.3h1.1v1.1h-1.1zM373.7 215.2h1.1v1.1h-1.1zM381.8 220.1h1.1v1.1h-1.1zM386.0 216.1h1.1v1.1h-1.1zM373.7 219.0h1.1v1.1h-1.1zM379.8 220.8h1.1v1.1h-1.1zM379.9 213.8h1.1v1.1h-1.1zM372.1 216.1h1.1v1.1h-1.1zM370.6 215.2h1.1v1.1h-1.1zM382.7 216.6h1.1v1.1h-1.1zM372.9 209.7h1.1v1.1h-1.1zM374.5 215.2h1.1v1.1h-1.1zM373.2 214.9h1.1v1.1h-1.1zM374.0 212.9h1.1v1.1h-1.1zM371.7 215.1h1.1v1.1h-1.1zM378.4 210.0h1.1v1.1h-1.1zM380.9 220.8h1.1v1.1h-1.1zM372.8 217.5h1.1v1.1h-1.1zM370.6 220.8h1.1v1.1h-1.1zM374.9 212.5h1.1v1.1h-1.1zM370.6 211.4h1.1v1.1h-1.1zM371.5 216.9h1.1v1.1h-1.1zM380.8 209.6h1.1v1.1h-1.1zM386.2 216.7h1.1v1.1h-1.1zM376.5 213.2h1.1v1.1h-1.1zM370.6 214.6h1.1v1.1h-1.1zM378.6 216.8h1.1v1.1h-1.1zM370.6 216.0h1.1v1.1h-1.1zM371.2 220.8h1.1v1.1h-1.1zM382.2 218.2h1.1v1.1h-1.1zM378.4 211.0h1.1v1.1h-1.1zM370.6 219.5h1.1v1.1h-1.1zM370.6 210.8h1.1v1.1h-1.1zM378.9 216.1h1.1v1.1h-1.1zM374.4 211.1h1.1v1.1h-1.1zM371.7 212.7h1.1v1.1h-1.1zM376.7 220.8h1.1v1.1h-1.1zM371.8 213.7h1.1v1.1h-1.1zM370.6 213.4h1.1v1.1h-1.1zM378.7 213.7h1.1v1.1h-1.1zM371.4 214.6h1.1v1.1h-1.1zM370.6 220.8h1.1v1.1h-1.1zM370.6 211.4h1.1v1.1h-1.1zM375.9 211.2h1.1v1.1h-1.1zM370.7 218.0h1.1v1.1h-1.1zM377.8 209.8h1.1v1.1h-1.1zM373.3 214.4h1.1v1.1h-1.1zM380.0 220.1h1.1v1.1h-1.1zM372.7 215.8h1.1v1.1h-1.1zM371.4 214.0h1.1v1.1h-1.1zM370.6 213.1h1.1v1.1h-1.1zM370.6 212.4h1.1v1.1h-1.1zM378.3 213.6h1.1v1.1h-1.1zM389.9 216.3h1.1v1.1h-1.1zM370.6 220.5h1.1v1.1h-1.1zM370.6 219.4h1.1v1.1h-1.1zM376.4 213.7h1.1v1.1h-1.1zM377.0 213.0h1.1v1.1h-1.1zM371.3 218.4h1.1v1.1h-1.1zM375.1 209.0h1.1v1.1h-1.1zM370.6 214.1h1.1v1.1h-1.1zM373.2 214.6h1.1v1.1h-1.1zM379.2 211.6h1.1v1.1h-1.1zM382.8 212.0h1.1v1.1h-1.1zM373.8 217.1h1.1v1.1h-1.1zM373.4 209.6h1.1v1.1h-1.1zM376.9 212.3h1.1v1.1h-1.1zM380.2 213.3h1.1v1.1h-1.1zM377.1 216.1h1.1v1.1h-1.1zM370.9 210.6h1.1v1.1h-1.1zM376.4 219.8h1.1v1.1h-1.1zM379.5 214.6h1.1v1.1h-1.1zM371.1 214.8h1.1v1.1h-1.1zM370.6 214.4h1.1v1.1h-1.1zM377.2 213.2h1.1v1.1h-1.1zM376.5 212.1h1.1v1.1h-1.1zM379.5 220.0h1.1v1.1h-1.1zM375.1 216.5h1.1v1.1h-1.1zM371.5 215.3h1.1v1.1h-1.1zM372.5 219.5h1.1v1.1h-1.1zM370.6 213.0h1.1v1.1h-1.1zM370.6 218.1h1.1v1.1h-1.1zM371.9 215.8h1.1v1.1h-1.1zM372.3 212.4h1.1v1.1h-1.1zM380.2 218.6h1.1v1.1h-1.1zM370.6 210.1h1.1v1.1h-1.1zM374.5 218.1h1.1v1.1h-1.1zM371.8 212.4h1.1v1.1h-1.1zM382.1 217.2h1.1v1.1h-1.1zM376.0 220.8h1.1v1.1h-1.1zM372.8 217.8h1.1v1.1h-1.1zM378.7 213.4h1.1v1.1h-1.1zM375.0 215.6h1.1v1.1h-1.1zM372.3 214.3h1.1v1.1h-1.1zM382.3 211.3h1.1v1.1h-1.1zM378.2 211.5h1.1v1.1h-1.1zM383.3 215.8h1.1v1.1h-1.1zM380.5 217.7h1.1v1.1h-1.1zM378.6 209.1h1.1v1.1h-1.1zM375.4 215.4h1.1v1.1h-1.1zM370.6 217.6h1.1v1.1h-1.1zM378.2 216.1h1.1v1.1h-1.1zM375.1 211.9h1.1v1.1h-1.1zM378.1 219.5h1.1v1.1h-1.1zM374.7 211.1h1.1v1.1h-1.1zM371.3 218.1h1.1v1.1h-1.1zM370.6 220.8h1.1v1.1h-1.1zM378.2 208.0h1.1v1.1h-1.1zM381.1 216.6h1.1v1.1h-1.1zM373.3 216.8h1.1v1.1h-1.1zM377.0 216.5h1.1v1.1h-1.1zM381.6 212.8h1.1v1.1h-1.1zM370.6 214.5h1.1v1.1h-1.1zM373.0 210.4h1.1v1.1h-1.1zM370.6 216.1h1.1v1.1h-1.1zM380.6 217.6h1.1v1.1h-1.1zM376.0 213.1h1.1v1.1h-1.1zM372.4 212.2h1.1v1.1h-1.1zM370.6 213.8h1.1v1.1h-1.1zM373.8 215.6h1.1v1.1h-1.1zM379.7 215.8h1.1v1.1h-1.1zM373.3 215.2h1.1v1.1h-1.1zM372.6 215.9h1.1v1.1h-1.1zM377.9 210.7h1.1v1.1h-1.1zM370.6 205.4h1.1v1.1h-1.1zM375.0 217.9h1.1v1.1h-1.1zM377.7 220.8h1.1v1.1h-1.1zM370.9 210.3h1.1v1.1h-1.1zM370.6 213.1h1.1v1.1h-1.1zM376.0 216.7h1.1v1.1h-1.1zM374.3 219.1h1.1v1.1h-1.1zM373.6 218.0h1.1v1.1h-1.1zM375.8 220.4h1.1v1.1h-1.1zM375.9 215.4h1.1v1.1h-1.1zM370.6 217.1h1.1v1.1h-1.1zM371.4 217.1h1.1v1.1h-1.1zM377.0 214.0h1.1v1.1h-1.1zM380.3 220.1h1.1v1.1h-1.1zM381.5 217.9h1.1v1.1h-1.1zM370.6 219.2h1.1v1.1h-1.1zM380.2 214.1h1.1v1.1h-1.1zM378.5 219.4h1.1v1.1h-1.1zM374.6 211.7h1.1v1.1h-1.1zM377.2 217.0h1.1v1.1h-1.1zM378.9 205.8h1.1v1.1h-1.1zM383.6 211.8h1.1v1.1h-1.1zM370.6 218.3h1.1v1.1h-1.1zM377.8 213.9h1.1v1.1h-1.1zM374.1 216.2h1.1v1.1h-1.1zM373.8 209.5h1.1v1.1h-1.1zM380.5 220.8h1.1v1.1h-1.1zM378.8 217.8h1.1v1.1h-1.1zM370.6 215.5h1.1v1.1h-1.1zM373.4 217.1h1.1v1.1h-1.1zM375.9 216.8h1.1v1.1h-1.1zM370.6 220.8h1.1v1.1h-1.1zM379.1 216.4h1.1v1.1h-1.1zM374.4 210.1h1.1v1.1h-1.1zM375.6 214.6h1.1v1.1h-1.1zM376.5 220.3h1.1v1.1h-1.1zM383.7 217.7h1.1v1.1h-1.1zM375.0 214.0h1.1v1.1h-1.1zM373.0 217.8h1.1v1.1h-1.1zM383.4 216.0h1.1v1.1h-1.1zM372.3 217.8h1.1v1.1h-1.1zM372.2 209.7h1.1v1.1h-1.1zM370.6 212.2h1.1v1.1h-1.1zM380.1 218.0h1.1v1.1h-1.1zM376.1 214.7h1.1v1.1h-1.1zM377.1 216.9h1.1v1.1h-1.1zM375.6 220.8h1.1v1.1h-1.1zM374.1 214.4h1.1v1.1h-1.1zM370.9 216.5h1.1v1.1h-1.1zM370.9 213.5h1.1v1.1h-1.1zM376.9 213.2h1.1v1.1h-1.1zM375.4 215.3h1.1v1.1h-1.1zM382.9 210.2h1.1v1.1h-1.1zM371.0 207.8h1.1v1.1h-1.1zM372.4 220.6h1.1v1.1h-1.1zM370.6 215.2h1.1v1.1h-1.1zM381.6 219.7h1.1v1.1h-1.1zM370.6 216.0h1.1v1.1h-1.1zM378.6 216.1h1.1v1.1h-1.1zM381.9 218.1h1.1v1.1h-1.1zM374.1 218.2h1.1v1.1h-1.1zM378.4 211.1h1.1v1.1h-1.1zM370.6 220.1h1.1v1.1h-1.1zM372.9 212.0h1.1v1.1h-1.1zM370.6 216.3h1.1v1.1h-1.1zM375.7 220.8h1.1v1.1h-1.1zM374.9 215.9h1.1v1.1h-1.1zM371.0 220.8h1.1v1.1h-1.1zM379.5 214.3h1.1v1.1h-1.1zM376.6 217.9h1.1v1.1h-1.1zM372.2 215.8h1.1v1.1h-1.1zM372.3 217.1h1.1v1.1h-1.1zM370.6 212.4h1.1v1.1h-1.1zM373.9 212.2h1.1v1.1h-1.1zM385.3 216.8h1.1v1.1h-1.1zM371.3 209.8h1.1v1.1h-1.1zM376.9 212.4h1.1v1.1h-1.1zM372.1 218.0h1.1v1.1h-1.1zM378.8 213.3h1.1v1.1h-1.1zM377.0 212.3h1.1v1.1h-1.1zM373.7 211.5h1.1v1.1h-1.1zM370.6 216.1h1.1v1.1h-1.1zM372.3 214.2h1.1v1.1h-1.1zM380.8 216.1h1.1v1.1h-1.1zM373.6 214.9h1.1v1.1h-1.1zM377.9 220.8h1.1v1.1h-1.1zM372.4 214.0h1.1v1.1h-1.1zM370.6 208.3h1.1v1.1h-1.1zM376.9 216.0h1.1v1.1h-1.1zM376.4 215.6h1.1v1.1h-1.1zM372.0 216.2h1.1v1.1h-1.1zM373.0 209.6h1.1v1.1h-1.1zM376.3 219.8h1.1v1.1h-1.1zM371.9 215.5h1.1v1.1h-1.1zM376.5 215.4h1.1v1.1h-1.1zM373.8 209.7h1.1v1.1h-1.1zM370.6 217.3h1.1v1.1h-1.1zM374.1 215.3h1.1v1.1h-1.1zM371.9 220.6h1.1v1.1h-1.1zM370.7 214.0h1.1v1.1h-1.1zM376.8 211.0h1.1v1.1h-1.1zM372.4 216.1h1.1v1.1h-1.1zM377.5 212.2h1.1v1.1h-1.1zM380.2 217.1h1.1v1.1h-1.1zM375.5 211.6h1.1v1.1h-1.1zM370.6 215.1h1.1v1.1h-1.1zM371.2 214.7h1.1v1.1h-1.1zM379.3 215.5h1.1v1.1h-1.1zM373.6 213.7h1.1v1.1h-1.1zM370.8 212.6h1.1v1.1h-1.1zM374.4 215.4h1.1v1.1h-1.1zM377.3 213.4h1.1v1.1h-1.1zM376.1 216.1h1.1v1.1h-1.1zM378.0 214.6h1.1v1.1h-1.1zM370.8 207.3h1.1v1.1h-1.1zM373.5 215.3h1.1v1.1h-1.1zM373.6 220.7h1.1v1.1h-1.1zM374.7 216.7h1.1v1.1h-1.1zM370.6 217.8h1.1v1.1h-1.1zM373.7 217.3h1.1v1.1h-1.1zM370.6 213.8h1.1v1.1h-1.1zM381.7 210.7h1.1v1.1h-1.1zM382.5 218.6h1.1v1.1h-1.1zM383.2 219.5h1.1v1.1h-1.1zM378.9 217.7h1.1v1.1h-1.1zM372.5 217.1h1.1v1.1h-1.1zM379.6 217.0h1.1v1.1h-1.1zM373.9 215.5h1.1v1.1h-1.1zM377.9 216.6h1.1v1.1h-1.1zM370.6 215.6h1.1v1.1h-1.1zM372.0 216.8h1.1v1.1h-1.1zM377.2 212.1h1.1v1.1h-1.1zM383.6 213.3h1.1v1.1h-1.1zM374.7 217.7h1.1v1.1h-1.1zM386.0 214.3h1.1v1.1h-1.1zM388.5 206.7h1.1v1.1h-1.1zM370.6 216.0h1.1v1.1h-1.1zM374.7 207.2h1.1v1.1h-1.1zM370.6 220.8h1.1v1.1h-1.1zM374.2 218.2h1.1v1.1h-1.1zM372.2 218.0h1.1v1.1h-1.1zM374.5 213.2h1.1v1.1h-1.1zM379.6 211.5h1.1v1.1h-1.1zM379.5 214.8h1.1v1.1h-1.1zM376.2 215.7h1.1v1.1h-1.1zM374.9 212.8h1.1v1.1h-1.1zM375.5 216.2h1.1v1.1h-1.1zM375.5 218.1h1.1v1.1h-1.1zM377.7 217.8h1.1v1.1h-1.1zM374.9 211.8h1.1v1.1h-1.1zM377.4 207.7h1.1v1.1h-1.1zM370.6 215.6h1.1v1.1h-1.1zM378.8 213.2h1.1v1.1h-1.1zM383.5 217.2h1.1v1.1h-1.1zM375.8 220.8h1.1v1.1h-1.1zM370.6 220.8h1.1v1.1h-1.1zM381.6 216.6h1.1v1.1h-1.1zM373.2 219.6h1.1v1.1h-1.1zM370.6 220.8h1.1v1.1h-1.1zM373.8 215.8h1.1v1.1h-1.1zM377.9 216.6h1.1v1.1h-1.1zM376.8 218.7h1.1v1.1h-1.1zM381.0 215.5h1.1v1.1h-1.1zM378.0 213.8h1.1v1.1h-1.1zM375.5 212.9h1.1v1.1h-1.1zM370.6 215.6h1.1v1.1h-1.1zM370.6 213.4h1.1v1.1h-1.1zM375.8 218.5h1.1v1.1h-1.1zM378.2 214.4h1.1v1.1h-1.1zM370.6 220.8h1.1v1.1h-1.1zM371.9 220.0h1.1v1.1h-1.1zM377.2 211.1h1.1v1.1h-1.1zM370.6 219.6h1.1v1.1h-1.1zM370.6 214.2h1.1v1.1h-1.1zM373.7 220.6h1.1v1.1h-1.1zM376.1 217.5h1.1v1.1h-1.1zM372.5 215.5h1.1v1.1h-1.1zM370.6 218.1h1.1v1.1h-1.1zM375.0 213.6h1.1v1.1h-1.1zM370.6 216.8h1.1v1.1h-1.1zM378.1 217.1h1.1v1.1h-1.1zM374.4 215.1h1.1v1.1h-1.1zM376.2 217.1h1.1v1.1h-1.1zM378.1 212.0h1.1v1.1h-1.1zM372.3 217.7h1.1v1.1h-1.1zM379.0 211.3h1.1v1.1h-1.1zM381.0 217.9h1.1v1.1h-1.1zM376.9 217.4h1.1v1.1h-1.1zM381.5 218.2h1.1v1.1h-1.1zM371.8 213.7h1.1v1.1h-1.1zM379.4 220.8h1.1v1.1h-1.1zM376.2 214.9h1.1v1.1h-1.1zM370.6 216.2h1.1v1.1h-1.1zM374.5 213.0h1.1v1.1h-1.1zM372.3 220.8h1.1v1.1h-1.1zM372.2 214.0h1.1v1.1h-1.1zM375.3 219.3h1.1v1.1h-1.1zM380.1 212.3h1.1v1.1h-1.1zM373.3 216.8h1.1v1.1h-1.1zM375.5 214.4h1.1v1.1h-1.1zM370.6 219.1h1.1v1.1h-1.1zM375.4 214.7h1.1v1.1h-1.1zM380.6 212.6h1.1v1.1h-1.1zM378.9 217.4h1.1v1.1h-1.1zM377.2 211.4h1.1v1.1h-1.1zM372.3 212.3h1.1v1.1h-1.1zM370.6 218.5h1.1v1.1h-1.1zM374.4 209.0h1.1v1.1h-1.1zM370.6 218.5h1.1v1.1h-1.1zM370.6 214.3h1.1v1.1h-1.1zM379.6 212.4h1.1v1.1h-1.1zM370.6 216.6h1.1v1.1h-1.1zM383.8 218.0h1.1v1.1h-1.1zM370.6 213.7h1.1v1.1h-1.1zM377.0 215.1h1.1v1.1h-1.1zM370.6 218.6h1.1v1.1h-1.1zM375.8 218.5h1.1v1.1h-1.1zM370.6 215.6h1.1v1.1h-1.1zM375.1 213.0h1.1v1.1h-1.1zM374.1 212.4h1.1v1.1h-1.1zM372.7 213.6h1.1v1.1h-1.1zM377.4 218.2h1.1v1.1h-1.1zM382.4 217.9h1.1v1.1h-1.1zM372.0 216.9h1.1v1.1h-1.1zM379.3 220.8h1.1v1.1h-1.1zM375.3 214.7h1.1v1.1h-1.1zM374.7 214.4h1.1v1.1h-1.1zM385.8 214.4h1.1v1.1h-1.1zM370.6 220.8h1.1v1.1h-1.1zM371.5 208.4h1.1v1.1h-1.1zM370.6 216.9h1.1v1.1h-1.1zM373.3 217.4h1.1v1.1h-1.1zM373.8 216.0h1.1v1.1h-1.1zM393.8 220.8h1.1v1.1h-1.1zM376.6 220.0h1.1v1.1h-1.1zM383.8 218.6h1.1v1.1h-1.1zM381.3 212.6h1.1v1.1h-1.1zM372.7 217.6h1.1v1.1h-1.1zM377.3 214.5h1.1v1.1h-1.1zM383.2 216.0h1.1v1.1h-1.1zM375.8 216.6h1.1v1.1h-1.1zM375.9 214.1h1.1v1.1h-1.1zM377.4 218.1h1.1v1.1h-1.1zM370.6 220.8h1.1v1.1h-1.1zM370.9 219.6h1.1v1.1h-1.1zM376.6 216.6h1.1v1.1h-1.1zM377.6 208.9h1.1v1.1h-1.1zM370.6 219.8h1.1v1.1h-1.1zM373.3 219.7h1.1v1.1h-1.1zM374.3 215.2h1.1v1.1h-1.1zM374.1 214.2h1.1v1.1h-1.1zM378.3 218.2h1.1v1.1h-1.1zM375.4 213.0h1.1v1.1h-1.1zM375.7 218.7h1.1v1.1h-1.1zM370.6 212.0h1.1v1.1h-1.1zM370.6 212.6h1.1v1.1h-1.1zM376.5 215.9h1.1v1.1h-1.1zM370.6 210.7h1.1v1.1h-1.1zM376.2 215.9h1.1v1.1h-1.1zM371.6 217.8h1.1v1.1h-1.1zM370.9 211.2h1.1v1.1h-1.1zM378.1 219.2h1.1v1.1h-1.1zM371.5 213.9h1.1v1.1h-1.1zM370.6 217.9h1.1v1.1h-1.1zM371.5 216.7h1.1v1.1h-1.1zM375.2 214.3h1.1v1.1h-1.1zM388.5 214.0h1.1v1.1h-1.1zM370.6 209.8h1.1v1.1h-1.1zM374.8 213.4h1.1v1.1h-1.1zM373.7 213.2h1.1v1.1h-1.1zM379.6 220.8h1.1v1.1h-1.1zM373.0 219.5h1.1v1.1h-1.1zM370.6 211.0h1.1v1.1h-1.1zM381.4 218.8h1.1v1.1h-1.1zM370.6 216.7h1.1v1.1h-1.1zM374.6 214.6h1.1v1.1h-1.1zM370.6 217.6h1.1v1.1h-1.1zM370.6 218.7h1.1v1.1h-1.1zM372.4 213.9h1.1v1.1h-1.1zM379.1 214.9h1.1v1.1h-1.1zM379.0 216.5h1.1v1.1h-1.1zM371.9 212.4h1.1v1.1h-1.1zM377.3 216.6h1.1v1.1h-1.1zM373.0 215.6h1.1v1.1h-1.1zM375.4 213.5h1.1v1.1h-1.1zM375.6 212.9h1.1v1.1h-1.1zM377.9 217.0h1.1v1.1h-1.1zM371.8 219.1h1.1v1.1h-1.1zM374.2 217.1h1.1v1.1h-1.1zM375.9 212.9h1.1v1.1h-1.1zM375.3 218.6h1.1v1.1h-1.1zM370.9 216.5h1.1v1.1h-1.1zM383.4 218.0h1.1v1.1h-1.1zM372.5 220.1h1.1v1.1h-1.1zM378.6 212.7h1.1v1.1h-1.1zM375.8 215.4h1.1v1.1h-1.1zM380.9 213.8h1.1v1.1h-1.1zM370.6 212.8h1.1v1.1h-1.1zM385.0 220.8h1.1v1.1h-1.1zM373.8 219.3h1.1v1.1h-1.1zM370.6 209.7h1.1v1.1h-1.1zM375.5 217.5h1.1v1.1h-1.1zM386.0 214.0h1.1v1.1h-1.1zM377.3 220.0h1.1v1.1h-1.1zM370.6 216.2h1.1v1.1h-1.1zM372.5 215.3h1.1v1.1h-1.1zM381.4 216.4h1.1v1.1h-1.1zM370.6 217.3h1.1v1.1h-1.1zM373.9 216.0h1.1v1.1h-1.1zM373.3 215.2h1.1v1.1h-1.1zM385.6 215.5h1.1v1.1h-1.1zM373.4 217.8h1.1v1.1h-1.1zM381.3 211.9h1.1v1.1h-1.1zM371.4 215.9h1.1v1.1h-1.1zM370.8 215.5h1.1v1.1h-1.1zM379.8 214.2h1.1v1.1h-1.1zM377.9 218.6h1.1v1.1h-1.1zM370.6 211.4h1.1v1.1h-1.1zM378.0 214.6h1.1v1.1h-1.1zM378.0 212.9h1.1v1.1h-1.1zM371.7 217.9h1.1v1.1h-1.1zM375.9 214.3h1.1v1.1h-1.1zM376.1 216.1h1.1v1.1h-1.1zM372.4 217.3h1.1v1.1h-1.1zM371.9 210.3h1.1v1.1h-1.1zM371.5 217.6h1.1v1.1h-1.1zM373.4 213.3h1.1v1.1h-1.1zM370.6 215.0h1.1v1.1h-1.1zM374.6 215.5h1.1v1.1h-1.1zM370.6 218.8h1.1v1.1h-1.1zM375.2 218.6h1.1v1.1h-1.1zM374.4 220.8h1.1v1.1h-1.1zM370.6 216.6h1.1v1.1h-1.1zM379.0 214.3h1.1v1.1h-1.1zM384.4 214.2h1.1v1.1h-1.1zM381.4 218.3h1.1v1.1h-1.1zM370.6 220.8h1.1v1.1h-1.1zM381.1 217.2h1.1v1.1h-1.1zM375.9 213.9h1.1v1.1h-1.1zM374.5 216.9h1.1v1.1h-1.1zM371.8 216.9h1.1v1.1h-1.1zM374.7 216.1h1.1v1.1h-1.1zM381.7 213.3h1.1v1.1h-1.1zM377.5 206.9h1.1v1.1h-1.1zM372.7 214.0h1.1v1.1h-1.1zM371.5 219.7h1.1v1.1h-1.1zM372.7 216.7h1.1v1.1h-1.1zM377.7 208.1h1.1v1.1h-1.1zM384.0 216.0h1.1v1.1h-1.1zM370.6 209.4h1.1v1.1h-1.1zM374.8 220.8h1.1v1.1h-1.1zM372.9 216.6h1.1v1.1h-1.1zM371.0 211.7h1.1v1.1h-1.1zM376.8 218.8h1.1v1.1h-1.1zM377.5 213.2h1.1v1.1h-1.1zM370.6 217.9h1.1v1.1h-1.1zM370.6 216.0h1.1v1.1h-1.1zM380.7 211.8h1.1v1.1h-1.1zM376.4 218.3h1.1v1.1h-1.1zM377.4 211.2h1.1v1.1h-1.1zM372.3 220.7h1.1v1.1h-1.1zM372.9 216.2h1.1v1.1h-1.1zM377.1 212.3h1.1v1.1h-1.1zM372.3 209.5h1.1v1.1h-1.1zM370.6 220.8h1.1v1.1h-1.1zM374.8 220.8h1.1v1.1h-1.1zM379.3 211.5h1.1v1.1h-1.1zM370.6 220.8h1.1v1.1h-1.1zM380.0 216.5h1.1v1.1h-1.1zM378.3 215.2h1.1v1.1h-1.1zM370.6 215.6h1.1v1.1h-1.1zM374.8 215.0h1.1v1.1h-1.1zM374.6 220.8h1.1v1.1h-1.1zM377.9 216.5h1.1v1.1h-1.1zM378.1 209.4h1.1v1.1h-1.1zM370.6 220.8h1.1v1.1h-1.1zM370.6 219.1h1.1v1.1h-1.1zM379.9 212.1h1.1v1.1h-1.1zM375.3 214.7h1.1v1.1h-1.1zM376.8 212.7h1.1v1.1h-1.1zM376.4 216.1h1.1v1.1h-1.1zM382.4 217.3h1.1v1.1h-1.1zM370.6 216.8h1.1v1.1h-1.1zM380.2 213.8h1.1v1.1h-1.1zM370.7 213.1h1.1v1.1h-1.1zM378.4 219.0h1.1v1.1h-1.1zM381.4 215.6h1.1v1.1h-1.1zM370.6 220.8h1.1v1.1h-1.1zM376.8 213.1h1.1v1.1h-1.1zM373.4 218.7h1.1v1.1h-1.1zM373.3 216.1h1.1v1.1h-1.1zM375.0 213.3h1.1v1.1h-1.1zM370.6 220.8h1.1v1.1h-1.1zM370.6 216.4h1.1v1.1h-1.1zM378.0 212.8h1.1v1.1h-1.1zM379.0 214.8h1.1v1.1h-1.1zM372.0 219.6h1.1v1.1h-1.1zM370.6 211.6h1.1v1.1h-1.1zM386.2 220.8h1.1v1.1h-1.1zM380.2 218.4h1.1v1.1h-1.1zM376.6 215.0h1.1v1.1h-1.1zM370.6 220.8h1.1v1.1h-1.1zM371.9 220.8h1.1v1.1h-1.1zM376.0 218.1h1.1v1.1h-1.1zM370.6 216.6h1.1v1.1h-1.1zM382.7 220.8h1.1v1.1h-1.1zM375.5 220.8h1.1v1.1h-1.1zM376.7 212.7h1.1v1.1h-1.1zM370.6 215.2h1.1v1.1h-1.1zM370.6 215.2h1.1v1.1h-1.1zM370.9 214.5h1.1v1.1h-1.1zM376.1 210.6h1.1v1.1h-1.1zM373.5 219.2h1.1v1.1h-1.1zM373.4 216.2h1.1v1.1h-1.1zM376.3 216.3h1.1v1.1h-1.1zM375.9 220.8h1.1v1.1h-1.1zM382.1 213.9h1.1v1.1h-1.1zM373.8 215.7h1.1v1.1h-1.1zM370.6 216.9h1.1v1.1h-1.1zM374.7 214.4h1.1v1.1h-1.1zM382.0 215.6h1.1v1.1h-1.1zM372.1 218.7h1.1v1.1h-1.1zM375.0 215.9h1.1v1.1h-1.1zM373.0 220.7h1.1v1.1h-1.1zM376.8 213.3h1.1v1.1h-1.1zM376.0 216.7h1.1v1.1h-1.1zM370.8 210.9h1.1v1.1h-1.1zM373.7 215.5h1.1v1.1h-1.1zM379.4 213.4h1.1v1.1h-1.1zM380.2 220.8h1.1v1.1h-1.1zM379.3 218.6h1.1v1.1h-1.1zM379.0 217.8h1.1v1.1h-1.1zM373.1 220.8h1.1v1.1h-1.1zM373.0 220.8h1.1v1.1h-1.1zM379.4 218.5h1.1v1.1h-1.1zM370.6 213.5h1.1v1.1h-1.1zM374.5 210.8h1.1v1.1h-1.1zM370.6 215.8h1.1v1.1h-1.1zM372.9 214.7h1.1v1.1h-1.1zM371.3 213.6h1.1v1.1h-1.1zM370.6 214.9h1.1v1.1h-1.1zM377.6 210.0h1.1v1.1h-1.1zM371.2 220.8h1.1v1.1h-1.1zM373.0 211.9h1.1v1.1h-1.1zM373.5 213.5h1.1v1.1h-1.1zM371.2 218.0h1.1v1.1h-1.1zM381.8 210.1h1.1v1.1h-1.1zM372.4 219.2h1.1v1.1h-1.1zM375.8 219.3h1.1v1.1h-1.1zM370.6 214.8h1.1v1.1h-1.1zM372.5 212.1h1.1v1.1h-1.1zM373.2 214.3h1.1v1.1h-1.1zM373.3 209.3h1.1v1.1h-1.1zM371.9 220.8h1.1v1.1h-1.1zM375.5 216.1h1.1v1.1h-1.1zM382.4 213.3h1.1v1.1h-1.1zM374.1 212.7h1.1v1.1h-1.1zM374.1 218.0h1.1v1.1h-1.1zM372.9 220.8h1.1v1.1h-1.1zM387.2 211.4h1.1v1.1h-1.1zM382.7 213.9h1.1v1.1h-1.1zM377.5 209.6h1.1v1.1h-1.1zM378.2 218.4h1.1v1.1h-1.1zM371.3 216.5h1.1v1.1h-1.1zM374.0 220.8h1.1v1.1h-1.1zM375.8 215.5h1.1v1.1h-1.1zM375.4 214.4h1.1v1.1h-1.1zM370.6 213.4h1.1v1.1h-1.1zM371.0 219.0h1.1v1.1h-1.1zM377.3 210.1h1.1v1.1h-1.1zM376.3 218.6h1.1v1.1h-1.1zM370.6 216.8h1.1v1.1h-1.1zM375.2 214.1h1.1v1.1h-1.1zM381.0 212.7h1.1v1.1h-1.1zM371.6 219.7h1.1v1.1h-1.1zM376.0 220.8h1.1v1.1h-1.1zM370.6 214.3h1.1v1.1h-1.1zM378.9 217.9h1.1v1.1h-1.1zM370.6 220.8h1.1v1.1h-1.1zM370.6 213.7h1.1v1.1h-1.1zM373.2 215.0h1.1v1.1h-1.1zM386.4 211.6h1.1v1.1h-1.1zM371.8 215.4h1.1v1.1h-1.1zM370.6 215.7h1.1v1.1h-1.1zM377.1 214.4h1.1v1.1h-1.1zM375.9 213.3h1.1v1.1h-1.1zM382.9 210.2h1.1v1.1h-1.1zM370.6 211.1h1.1v1.1h-1.1zM370.6 212.4h1.1v1.1h-1.1zM373.3 218.3h1.1v1.1h-1.1zM376.7 214.1h1.1v1.1h-1.1zM376.5 212.9h1.1v1.1h-1.1zM380.1 218.3h1.1v1.1h-1.1zM370.6 218.0h1.1v1.1h-1.1zM370.8 213.2h1.1v1.1h-1.1zM374.2 213.7h1.1v1.1h-1.1zM378.9 218.3h1.1v1.1h-1.1zM377.1 217.3h1.1v1.1h-1.1zM372.7 212.9h1.1v1.1h-1.1zM370.6 216.8h1.1v1.1h-1.1zM379.1 215.8h1.1v1.1h-1.1zM379.5 220.0h1.1v1.1h-1.1zM388.1 212.8h1.1v1.1h-1.1zM373.9 219.1h1.1v1.1h-1.1zM382.8 217.5h1.1v1.1h-1.1zM370.6 212.3h1.1v1.1h-1.1zM372.1 219.8h1.1v1.1h-1.1zM371.5 219.2h1.1v1.1h-1.1zM372.5 211.2h1.1v1.1h-1.1zM370.6 220.8h1.1v1.1h-1.1zM372.1 211.8h1.1v1.1h-1.1zM374.5 212.6h1.1v1.1h-1.1zM372.6 214.8h1.1v1.1h-1.1zM378.0 218.7h1.1v1.1h-1.1zM374.4 218.1h1.1v1.1h-1.1zM374.8 215.6h1.1v1.1h-1.1zM382.0 220.8h1.1v1.1h-1.1zM376.3 217.4h1.1v1.1h-1.1zM375.6 220.8h1.1v1.1h-1.1zM374.7 220.8h1.1v1.1h-1.1zM375.1 216.7h1.1v1.1h-1.1zM377.6 206.6h1.1v1.1h-1.1zM370.9 214.3h1.1v1.1h-1.1zM380.4 212.0h1.1v1.1h-1.1zM382.5 216.3h1.1v1.1h-1.1zM380.5 216.3h1.1v1.1h-1.1zM372.4 211.5h1.1v1.1h-1.1zM370.6 211.7h1.1v1.1h-1.1zM372.7 215.0h1.1v1.1h-1.1zM375.6 215.2h1.1v1.1h-1.1zM378.9 206.4h1.1v1.1h-1.1zM373.9 219.5h1.1v1.1h-1.1zM373.3 216.1h1.1v1.1h-1.1zM382.3 215.9h1.1v1.1h-1.1zM371.5 217.0h1.1v1.1h-1.1zM380.0 212.2h1.1v1.1h-1.1zM379.2 215.8h1.1v1.1h-1.1zM370.6 219.8h1.1v1.1h-1.1zM376.2 219.9h1.1v1.1h-1.1zM372.1 217.6h1.1v1.1h-1.1zM370.6 214.9h1.1v1.1h-1.1zM370.6 212.9h1.1v1.1h-1.1zM370.6 220.8h1.1v1.1h-1.1zM376.8 217.9h1.1v1.1h-1.1zM372.9 214.4h1.1v1.1h-1.1zM376.1 208.0h1.1v1.1h-1.1zM370.6 212.7h1.1v1.1h-1.1zM373.2 208.8h1.1v1.1h-1.1zM373.5 220.5h1.1v1.1h-1.1zM370.6 216.6h1.1v1.1h-1.1zM370.6 213.2h1.1v1.1h-1.1zM377.0 214.9h1.1v1.1h-1.1zM375.5 220.8h1.1v1.1h-1.1zM370.6 220.4h1.1v1.1h-1.1zM374.3 211.0h1.1v1.1h-1.1zM378.0 215.5h1.1v1.1h-1.1zM383.8 211.4h1.1v1.1h-1.1zM370.6 209.6h1.1v1.1h-1.1zM377.8 216.6h1.1v1.1h-1.1zM385.2 220.8h1.1v1.1h-1.1zM375.1 220.8h1.1v1.1h-1.1zM382.0 216.1h1.1v1.1h-1.1zM370.6 214.6h1.1v1.1h-1.1zM381.9 216.7h1.1v1.1h-1.1zM374.8 219.8h1.1v1.1h-1.1zM370.6 210.5h1.1v1.1h-1.1zM378.6 209.0h1.1v1.1h-1.1zM379.9 220.8h1.1v1.1h-1.1zM380.7 217.0h1.1v1.1h-1.1zM380.7 220.8h1.1v1.1h-1.1zM374.7 216.8h1.1v1.1h-1.1zM371.1 220.8h1.1v1.1h-1.1zM372.5 213.7h1.1v1.1h-1.1zM374.6 217.8h1.1v1.1h-1.1zM376.8 220.8h1.1v1.1h-1.1zM372.4 219.8h1.1v1.1h-1.1zM375.0 214.2h1.1v1.1h-1.1zM379.1 219.3h1.1v1.1h-1.1zM376.4 213.5h1.1v1.1h-1.1zM386.1 210.6h1.1v1.1h-1.1zM385.4 217.9h1.1v1.1h-1.1zM370.6 220.8h1.1v1.1h-1.1zM372.0 219.1h1.1v1.1h-1.1zM370.6 211.2h1.1v1.1h-1.1zM370.6 219.2h1.1v1.1h-1.1zM377.5 218.5h1.1v1.1h-1.1zM370.6 214.2h1.1v1.1h-1.1zM370.6 206.6h1.1v1.1h-1.1zM373.5 219.8h1.1v1.1h-1.1zM378.7 219.3h1.1v1.1h-1.1zM373.1 217.8h1.1v1.1h-1.1zM373.1 209.4h1.1v1.1h-1.1zM379.3 210.3h1.1v1.1h-1.1zM377.1 219.8h1.1v1.1h-1.1zM377.0 219.0h1.1v1.1h-1.1zM379.5 217.8h1.1v1.1h-1.1zM370.6 215.0h1.1v1.1h-1.1zM375.9 217.4h1.1v1.1h-1.1zM371.7 213.9h1.1v1.1h-1.1zM379.8 214.8h1.1v1.1h-1.1zM378.8 212.7h1.1v1.1h-1.1zM370.6 216.9h1.1v1.1h-1.1zM381.4 214.4h1.1v1.1h-1.1zM370.6 219.5h1.1v1.1h-1.1zM380.6 218.7h1.1v1.1h-1.1zM375.8 212.9h1.1v1.1h-1.1zM370.6 220.8h1.1v1.1h-1.1zM370.6 211.7h1.1v1.1h-1.1zM373.3 217.7h1.1v1.1h-1.1zM374.7 220.0h1.1v1.1h-1.1zM371.3 220.8h1.1v1.1h-1.1zM377.6 207.6h1.1v1.1h-1.1zM370.6 219.7h1.1v1.1h-1.1zM374.8 220.6h1.1v1.1h-1.1zM374.8 220.8h1.1v1.1h-1.1zM370.6 207.5h1.1v1.1h-1.1zM376.3 213.4h1.1v1.1h-1.1zM370.6 215.6h1.1v1.1h-1.1zM370.6 214.3h1.1v1.1h-1.1zM371.8 220.8h1.1v1.1h-1.1zM373.7 213.4h1.1v1.1h-1.1zM379.3 220.6h1.1v1.1h-1.1zM372.4 218.1h1.1v1.1h-1.1zM382.1 210.4h1.1v1.1h-1.1zM381.9 212.2h1.1v1.1h-1.1zM380.2 214.2h1.1v1.1h-1.1zM381.3 216.3h1.1v1.1h-1.1zM376.5 219.7h1.1v1.1h-1.1zM372.1 215.3h1.1v1.1h-1.1zM378.0 219.4h1.1v1.1h-1.1zM379.6 210.0h1.1v1.1h-1.1zM376.0 204.4h1.1v1.1h-1.1zM373.6 214.7h1.1v1.1h-1.1zM370.6 217.7h1.1v1.1h-1.1zM378.1 214.6h1.1v1.1h-1.1zM376.5 212.1h1.1v1.1h-1.1zM370.6 217.6h1.1v1.1h-1.1zM375.3 220.8h1.1v1.1h-1.1zM378.4 215.6h1.1v1.1h-1.1zM374.3 213.2h1.1v1.1h-1.1zM378.7 212.7h1.1v1.1h-1.1zM378.5 220.8h1.1v1.1h-1.1zM370.6 215.8h1.1v1.1h-1.1zM373.3 218.3h1.1v1.1h-1.1z"/>
<path fill="#000" fill-opacity="0.25" d="M481.4 128.4h1.1v1.1h-1.1zM454.7 129.2h1.1v1.1h-1.1zM470.4 125.5h1.1v1.1h-1.1zM472.8 117.7h1.1v1.1h-1.1zM450.1 129.1h1.1v1.1h-1.1zM497.5 122.9h1.1v1.1h-1.1zM495.3 124.7h1.1v1.1h-1.1zM454.5 123.7h1.1v1.1h-1.1zM477.1 116.0h1.1v1.1h-1.1zM465.1 127.0h1.1v1.1h-1.1zM460.0 123.4h1.1v1.1h-1.1zM463.2 116.2h1.1v1.1h-1.1zM452.1 118.9h1.1v1.1h-1.1zM483.9 114.9h1.1v1.1h-1.1zM467.8 119.8h1.1v1.1h-1.1zM484.4 129.3h1.1v1.1h-1.1zM490.2 119.0h1.1v1.1h-1.1zM478.1 119.2h1.1v1.1h-1.1zM466.6 126.1h1.1v1.1h-1.1zM456.5 113.9h1.1v1.1h-1.1zM482.0 114.5h1.1v1.1h-1.1zM483.2 125.1h1.1v1.1h-1.1zM488.5 114.7h1.1v1.1h-1.1zM456.3 122.8h1.1v1.1h-1.1zM451.8 126.3h1.1v1.1h-1.1zM493.4 122.0h1.1v1.1h-1.1zM479.8 113.8h1.1v1.1h-1.1zM454.2 116.0h1.1v1.1h-1.1zM484.9 121.6h1.1v1.1h-1.1zM452.3 128.7h1.1v1.1h-1.1zM481.1 123.6h1.1v1.1h-1.1zM477.2 124.3h1.1v1.1h-1.1zM485.2 122.6h1.1v1.1h-1.1zM454.2 118.0h1.1v1.1h-1.1zM494.9 122.8h1.1v1.1h-1.1z"/>
<path fill="#000" fill-opacity="0.75" d="M483.3 214.8h1.1v1.1h-1.1zM482.0 216.4h1.1v1.1h-1.1zM461.4 216.4h1.1v1.1h-1.1zM478.7 217.4h1.1v1.1h-1.1zM464.0 215.3h1.1v1.1h-1.1zM480.3 216.5h1.1v1.1h-1.1zM483.3 215.5h1.1v1.1h-1.1zM477.1 213.3h1.1v1.1h-1.1zM454.6 219.2h1.1v1.1h-1.1zM458.9 213.8h1.1v1.1h-1.1zM461.3 219.3h1.1v1.1h-1.1zM469.6 216.2h1.1v1.1h-1.1zM485.6 215.6h1.1v1.1h-1.1zM488.2 219.5h1.1v1.1h-1.1zM473.2 217.7h1.1v1.1h-1.1zM453.1 212.1h1.1v1.1h-1.1zM488.6 217.6h1.1v1.1h-1.1zM487.8 208.2h1.1v1.1h-1.1zM452.2 218.1h1.1v1.1h-1.1zM475.8 216.1h1.1v1.1h-1.1zM475.8 213.3h1.1v1.1h-1.1zM475.6 217.4h1.1v1.1h-1.1zM478.2 216.1h1.1v1.1h-1.1zM461.2 216.2h1.1v1.1h-1.1zM462.4 220.9h1.1v1.1h-1.1zM475.1 220.9h1.1v1.1h-1.1zM452.5 215.7h1.1v1.1h-1.1zM459.9 215.1h1.1v1.1h-1.1zM455.8 220.9h1.1v1.1h-1.1zM450.6 217.0h1.1v1.1h-1.1zM468.0 217.8h1.1v1.1h-1.1zM457.0 216.7h1.1v1.1h-1.1zM468.3 214.0h1.1v1.1h-1.1zM457.1 216.3h1.1v1.1h-1.1zM481.0 214.1h1.1v1.1h-1.1zM453.2 213.1h1.1v1.1h-1.1zM480.1 216.0h1.1v1.1h-1.1zM475.5 220.9h1.1v1.1h-1.1zM455.1 220.9h1.1v1.1h-1.1zM464.1 217.2h1.1v1.1h-1.1zM464.2 217.7h1.1v1.1h-1.1zM467.2 218.8h1.1v1.1h-1.1zM476.2 220.9h1.1v1.1h-1.1zM449.3 218.3h1.1v1.1h-1.1zM455.4 216.0h1.1v1.1h-1.1zM477.2 216.0h1.1v1.1h-1.1zM452.4 220.5h1.1v1.1h-1.1zM483.1 220.9h1.1v1.1h-1.1zM463.8 215.6h1.1v1.1h-1.1zM450.1 211.7h1.1v1.1h-1.1zM480.0 219.1h1.1v1.1h-1.1zM458.6 217.2h1.1v1.1h-1.1zM489.4 216.5h1.1v1.1h-1.1zM486.3 219.8h1.1v1.1h-1.1zM484.8 216.7h1.1v1.1h-1.1zM484.7 212.8h1.1v1.1h-1.1zM451.7 211.9h1.1v1.1h-1.1zM449.7 217.2h1.1v1.1h-1.1zM465.0 214.1h1.1v1.1h-1.1zM465.8 218.2h1.1v1.1h-1.1zM465.3 213.8h1.1v1.1h-1.1zM473.0 216.4h1.1v1.1h-1.1zM480.6 212.7h1.1v1.1h-1.1zM480.8 215.8h1.1v1.1h-1.1zM486.6 215.1h1.1v1.1h-1.1zM476.3 218.8h1.1v1.1h-1.1zM484.4 220.3h1.1v1.1h-1.1zM452.4 216.9h1.1v1.1h-1.1zM449.7 215.0h1.1v1.1h-1.1zM467.1 220.9h1.1v1.1h-1.1zM484.7 217.5h1.1v1.1h-1.1zM464.4 219.1h1.1v1.1h-1.1zM453.2 219.1h1.1v1.1h-1.1zM453.8 220.9h1.1v1.1h-1.1zM458.0 220.2h1.1v1.1h-1.1zM483.9 218.4h1.1v1.1h-1.1zM462.4 219.5h1.1v1.1h-1.1zM483.7 214.2h1.1v1.1h-1.1zM487.1 214.6h1.1v1.1h-1.1zM480.3 216.5h1.1v1.1h-1.1zM486.3 216.6h1.1v1.1h-1.1zM459.1 217.4h1.1v1.1h-1.1zM456.6 218.2h1.1v1.1h-1.1zM458.5 217.5h1.1v1.1h-1.1zM449.4 216.2h1.1v1.1h-1.1zM486.6 211.8h1.1v1.1h-1.1zM457.1 219.7h1.1v1.1h-1.1zM474.4 219.0h1.1v1.1h-1.1zM460.3 214.9h1.1v1.1h-1.1zM470.7 218.8h1.1v1.1h-1.1zM466.4 218.5h1.1v1.1h-1.1zM478.1 217.2h1.1v1.1h-1.1zM456.8 212.2h1.1v1.1h-1.1zM460.4 214.0h1.1v1.1h-1.1zM454.3 215.7h1.1v1.1h-1.1zM461.9 220.9h1.1v1.1h-1.1zM482.7 214.3h1.1v1.1h-1.1zM488.0 215.3h1.1v1.1h-1.1zM449.3 214.3h1.1v1.1h-1.1zM483.1 215.2h1.1v1.1h-1.1zM478.6 217.9h1.1v1.1h-1.1zM451.9 211.6h1.1v1.1h-1.1zM455.2 209.4h1.1v1.1h-1.1zM484.0 218.4h1.1v1.1h-1.1zM456.6 217.5h1.1v1.1h-1.1zM485.7 214.7h1.1v1.1h-1.1zM470.7 220.1h1.1v1.1h-1.1zM488.8 218.9h1.1v1.1h-1.1zM469.2 211.5h1.1v1.1h-1.1zM454.0 216.9h1.1v1.1h-1.1zM473.4 220.5h1.1v1.1h-1.1zM466.8 215.5h1.1v1.1h-1.1zM451.5 216.5h1.1v1.1h-1.1zM482.0 219.4h1.1v1.1h-1.1zM485.3 215.7h1.1v1.1h-1.1zM488.0 212.9h1.1v1.1h-1.1zM474.9 215.4h1.1v1.1h-1.1zM472.4 213.7h1.1v1.1h-1.1zM456.6 218.9h1.1v1.1h-1.1zM488.0 211.4h1.1v1.1h-1.1zM478.6 219.8h1.1v1.1h-1.1zM475.9 212.6h1.1v1.1h-1.1zM477.0 217.2h1.1v1.1h-1.1zM483.0 212.5h1.1v1.1h-1.1zM462.6 216.5h1.1v1.1h-1.1zM453.2 220.2h1.1v1.1h-1.1zM489.1 219.3h1.1v1.1h-1.1zM449.9 220.9h1.1v1.1h-1.1zM459.7 217.1h1.1v1.1h-1.1zM468.7 217.7h1.1v1.1h-1.1zM450.3 218.0h1.1v1.1h-1.1zM461.3 219.1h1.1v1.1h-1.1zM484.2 215.4h1.1v1.1h-1.1zM474.2 220.4h1.1v1.1h-1.1zM472.5 218.3h1.1v1.1h-1.1zM449.4 220.6h1.1v1.1h-1.1zM466.1 218.7h1.1v1.1h-1.1zM453.6 219.3h1.1v1.1h-1.1zM464.4 215.3h1.1v1.1h-1.1zM464.5 216.2h1.1v1.1h-1.1zM466.0 213.8h1.1v1.1h-1.1zM461.5 216.5h1.1v1.1h-1.1zM480.5 216.3h1.1v1.1h-1.1zM467.6 219.7h1.1v1.1h-1.1zM485.7 212.9h1.1v1.1h-1.1zM462.7 220.9h1.1v1.1h-1.1zM454.5 217.0h1.1v1.1h-1.1zM463.1 220.9h1.1v1.1h-1.1zM484.2 219.4h1.1v1.1h-1.1zM463.3 210.3h1.1v1.1h-1.1zM482.1 216.0h1.1v1.1h-1.1zM476.9 220.9h1.1v1.1h-1.1zM459.2 210.6h1.1v1.1h-1.1zM456.5 219.5h1.1v1.1h-1.1zM453.3 214.8h1.1v1.1h-1.1zM467.0 216.1h1.1v1.1h-1.1zM477.0 217.7h1.1v1.1h-1.1zM460.6 212.2h1.1v1.1h-1.1zM487.6 216.8h1.1v1.1h-1.1zM480.7 214.7h1.1v1.1h-1.1zM455.6 219.3h1.1v1.1h-1.1zM489.4 220.9h1.1v1.1h-1.1zM452.7 218.3h1.1v1.1h-1.1zM486.2 217.9h1.1v1.1h-1.1zM465.0 217.2h1.1v1.1h-1.1zM460.3 215.3h1.1v1.1h-1.1zM450.3 218.1h1.1v1.1h-1.1zM457.6 220.9h1.1v1.1h-1.1zM464.3 217.9h1.1v1.1h-1.1zM486.8 218.8h1.1v1.1h-1.1zM488.1 215.6h1.1v1.1h-1.1zM451.9 220.9h1.1v1.1h-1.1zM471.6 212.8h1.1v1.1h-1.1zM450.0 219.0h1.1v1.1h-1.1zM452.9 218.9h1.1v1.1h-1.1zM473.8 218.1h1.1v1.1h-1.1zM470.1 214.2h1.1v1.1h-1.1zM485.4 213.2h1.1v1.1h-1.1zM485.5 215.8h1.1v1.1h-1.1zM455.2 217.6h1.1v1.1h-1.1zM474.5 213.9h1.1v1.1h-1.1zM481.5 213.7h1.1v1.1h-1.1zM480.2 218.4h1.1v1.1h-1.1zM471.8 220.2h1.1v1.1h-1.1zM469.6 215.8h1.1v1.1h-1.1zM472.0 215.4h1.1v1.1h-1.1zM465.5 215.3h1.1v1.1h-1.1zM471.7 220.9h1.1v1.1h-1.1zM485.0 217.8h1.1v1.1h-1.1zM462.8 217.2h1.1v1.1h-1.1zM466.6 220.2h1.1v1.1h-1.1zM466.5 220.9h1.1v1.1h-1.1zM484.0 219.8h1.1v1.1h-1.1zM458.6 213.4h1.1v1.1h-1.1zM466.6 217.1h1.1v1.1h-1.1zM479.3 215.8h1.1v1.1h-1.1zM464.7 216.4h1.1v1.1h-1.1zM483.6 213.1h1.1v1.1h-1.1zM470.6 216.2h1.1v1.1h-1.1zM452.7 214.3h1.1v1.1h-1.1zM463.6 218.3h1.1v1.1h-1.1zM454.6 217.5h1.1v1.1h-1.1zM466.6 213.4h1.1v1.1h-1.1zM463.5 212.6h1.1v1.1h-1.1zM462.5 216.0h1.1v1.1h-1.1zM482.5 218.5h1.1v1.1h-1.1zM485.3 217.8h1.1v1.1h-1.1zM479.5 216.7h1.1v1.1h-1.1zM479.9 207.6h1.1v1.1h-1.1zM485.1 215.0h1.1v1.1h-1.1zM486.1 214.3h1.1v1.1h-1.1zM455.8 216.4h1.1v1.1h-1.1zM485.3 213.0h1.1v1.1h-1.1zM455.2 216.1h1.1v1.1h-1.1zM459.7 215.5h1.1v1.1h-1.1zM480.9 220.9h1.1v1.1h-1.1zM454.5 219.3h1.1v1.1h-1.1zM488.0 215.6h1.1v1.1h-1.1zM486.7 216.2h1.1v1.1h-1.1zM474.6 217.8h1.1v1.1h-1.1zM486.4 215.2h1.1v1.1h-1.1zM470.7 217.3h1.1v1.1h-1.1zM470.6 220.2h1.1v1.1h-1.1zM472.6 219.7h1.1v1.1h-1.1zM471.2 218.2h1.1v1.1h-1.1zM472.4 220.9h1.1v1.1h-1.1zM476.4 217.7h1.1v1.1h-1.1zM487.7 213.5h1.1v1.1h-1.1zM452.0 212.4h1.1v1.1h-1.1zM458.2 215.4h1.1v1.1h-1.1zM451.4 218.5h1.1v1.1h-1.1zM456.9 220.4h1.1v1.1h-1.1zM485.5 214.8h1.1v1.1h-1.1zM461.5 215.1h1.1v1.1h-1.1zM473.2 219.5h1.1v1.1h-1.1zM461.4 220.6h1.1v1.1h-1.1zM489.0 214.8h1.1v1.1h-1.1zM456.5 218.3h1.1v1.1h-1.1zM464.8 220.9h1.1v1.1h-1.1zM463.7 218.2h1.1v1.1h-1.1zM457.4 217.2h1.1v1.1h-1.1zM451.7 211.5h1.1v1.1h-1.1zM464.6 220.9h1.1v1.1h-1.1zM456.9 219.1h1.1v1.1h-1.1zM449.6 217.7h1.1v1.1h-1.1zM484.8 215.1h1.1v1.1h-1.1zM462.7 213.8h1.1v1.1h-1.1zM473.8 217.0h1.1v1.1h-1.1zM468.2 220.4h1.1v1.1h-1.1zM476.8 213.7h1.1v1.1h-1.1zM463.3 220.9h1.1v1.1h-1.1zM454.4 217.4h1.1v1.1h-1.1zM474.7 220.6h1.1v1.1h-1.1zM464.9 214.6h1.1v1.1h-1.1zM484.4 217.4h1.1v1.1h-1.1zM462.0 220.8h1.1v1.1h-1.1zM457.7 217.7h1.1v1.1h-1.1zM456.2 213.2h1.1v1.1h-1.1zM459.1 216.4h1.1v1.1h-1.1zM458.4 218.8h1.1v1.1h-1.1zM469.9 213.4h1.1v1.1h-1.1zM463.8 213.3h1.1v1.1h-1.1zM488.2 216.8h1.1v1.1h-1.1zM457.0 214.7h1.1v1.1h-1.1zM487.0 218.2h1.1v1.1h-1.1zM462.4 214.0h1.1v1.1h-1.1zM468.4 212.2h1.1v1.1h-1.1zM487.8 214.0h1.1v1.1h-1.1zM480.5 220.9h1.1v1.1h-1.1zM487.3 213.8h1.1v1.1h-1.1zM470.6 217.3h1.1v1.1h-1.1zM461.6 218.0h1.1v1.1h-1.1zM476.2 214.5h1.1v1.1h-1.1zM476.6 220.2h1.1v1.1h-1.1zM450.3 217.8h1.1v1.1h-1.1zM453.0 218.6h1.1v1.1h-1.1zM487.3 211.5h1.1v1.1h-1.1zM478.1 212.1h1.1v1.1h-1.1zM482.2 208.9h1.1v1.1h-1.1zM456.3 216.8h1.1v1.1h-1.1zM488.4 215.5h1.1v1.1h-1.1zM460.9 219.4h1.1v1.1h-1.1zM454.4 220.9h1.1v1.1h-1.1zM463.3 216.6h1.1v1.1h-1.1zM463.0 216.6h1.1v1.1h-1.1zM451.0 218.6h1.1v1.1h-1.1zM483.2 220.9h1.1v1.1h-1.1zM484.2 214.2h1.1v1.1h-1.1zM456.7 219.1h1.1v1.1h-1.1zM471.1 216.7h1.1v1.1h-1.1zM484.2 215.6h1.1v1.1h-1.1zM464.1 219.6h1.1v1.1h-1.1zM469.4 215.1h1.1v1.1h-1.1zM458.6 214.3h1.1v1.1h-1.1zM467.7 219.2h1.1v1.1h-1.1zM461.4 217.3h1.1v1.1h-1.1zM482.3 215.9h1.1v1.1h-1.1zM455.1 217.0h1.1v1.1h-1.1zM450.0 218.7h1.1v1.1h-1.1zM485.4 215.4h1.1v1.1h-1.1zM455.7 219.5h1.1v1.1h-1.1zM471.1 218.5h1.1v1.1h-1.1zM477.6 220.9h1.1v1.1h-1.1zM462.0 220.9h1.1v1.1h-1.1zM486.6 218.7h1.1v1.1h-1.1zM462.4 216.8h1.1v1.1h-1.1zM456.7 217.7h1.1v1.1h-1.1zM451.3 215.7h1.1v1.1h-1.1zM485.4 220.9h1.1v1.1h-1.1zM457.5 216.7h1.1v1.1h-1.1zM485.3 218.0h1.1v1.1h-1.1zM467.3 220.9h1.1v1.1h-1.1zM486.7 212.5h1.1v1.1h-1.1zM452.2 215.0h1.1v1.1h-1.1zM483.5 215.5h1.1v1.1h-1.1zM488.6 213.4h1.1v1.1h-1.1zM477.7 213.5h1.1v1.1h-1.1zM454.1 215.9h1.1v1.1h-1.1zM489.3 219.7h1.1v1.1h-1.1zM481.3 218.8h1.1v1.1h-1.1zM457.2 217.5h1.1v1.1h-1.1zM488.2 216.3h1.1v1.1h-1.1zM452.2 212.7h1.1v1.1h-1.1zM453.9 219.3h1.1v1.1h-1.1zM449.3 218.6h1.1v1.1h-1.1zM472.8 214.3h1.1v1.1h-1.1zM465.1 217.9h1.1v1.1h-1.1zM452.1 216.8h1.1v1.1h-1.1zM468.8 215.9h1.1v1.1h-1.1zM484.6 213.7h1.1v1.1h-1.1zM452.4 215.5h1.1v1.1h-1.1zM474.7 214.6h1.1v1.1h-1.1zM455.5 218.7h1.1v1.1h-1.1zM469.5 218.4h1.1v1.1h-1.1zM462.6 218.3h1.1v1.1h-1.1zM459.9 216.9h1.1v1.1h-1.1zM472.2 220.9h1.1v1.1h-1.1zM466.7 212.1h1.1v1.1h-1.1zM476.9 220.5h1.1v1.1h-1.1zM456.2 218.4h1.1v1.1h-1.1zM488.8 216.3h1.1v1.1h-1.1zM449.5 215.9h1.1v1.1h-1.1zM456.6 216.8h1.1v1.1h-1.1zM474.8 213.9h1.1v1.1h-1.1zM454.1 213.5h1.1v1.1h-1.1zM459.3 217.1h1.1v1.1h-1.1zM469.1 212.7h1.1v1.1h-1.1zM479.5 219.2h1.1v1.1h-1.1zM483.9 219.7h1.1v1.1h-1.1zM461.6 207.7h1.1v1.1h-1.1zM475.5 212.9h1.1v1.1h-1.1zM449.6 218.1h1.1v1.1h-1.1zM485.0 217.1h1.1v1.1h-1.1zM476.1 217.5h1.1v1.1h-1.1zM485.5 217.6h1.1v1.1h-1.1zM457.2 219.5h1.1v1.1h-1.1zM468.9 219.8h1.1v1.1h-1.1zM479.0 220.9h1.1v1.1h-1.1zM449.7 217.4h1.1v1.1h-1.1zM483.0 219.0h1.1v1.1h-1.1zM477.5 212.5h1.1v1.1h-1.1zM480.8 216.4h1.1v1.1h-1.1zM455.3 214.0h1.1v1.1h-1.1zM480.4 220.7h1.1v1.1h-1.1zM471.8 220.9h1.1v1.1h-1.1zM454.8 218.9h1.1v1.1h-1.1zM454.0 213.7h1.1v1.1h-1.1zM483.6 216.3h1.1v1.1h-1.1zM464.9 217.5h1.1v1.1h-1.1zM459.7 217.9h1.1v1.1h-1.1zM463.7 220.4h1.1v1.1h-1.1zM476.6 219.8h1.1v1.1h-1.1zM454.2 210.0h1.1v1.1h-1.1zM455.3 220.9h1.1v1.1h-1.1zM475.2 215.9h1.1v1.1h-1.1zM485.1 214.9h1.1v1.1h-1.1zM476.1 220.9h1.1v1.1h-1.1zM487.2 215.5h1.1v1.1h-1.1zM460.2 213.5h1.1v1.1h-1.1zM463.1 213.7h1.1v1.1h-1.1zM463.9 217.5h1.1v1.1h-1.1zM463.3 219.9h1.1v1.1h-1.1zM459.6 220.9h1.1v1.1h-1.1zM481.0 216.3h1.1v1.1h-1.1zM460.2 216.1h1.1v1.1h-1.1zM465.6 220.9h1.1v1.1h-1.1zM467.9 216.1h1.1v1.1h-1.1zM489.3 220.2h1.1v1.1h-1.1zM462.1 218.0h1.1v1.1h-1.1zM476.8 217.8h1.1v1.1h-1.1zM462.0 216.7h1.1v1.1h-1.1zM481.3 217.6h1.1v1.1h-1.1zM464.5 216.1h1.1v1.1h-1.1zM449.5 215.5h1.1v1.1h-1.1zM470.0 217.0h1.1v1.1h-1.1zM462.4 215.6h1.1v1.1h-1.1zM459.5 218.2h1.1v1.1h-1.1zM460.6 217.6h1.1v1.1h-1.1zM478.5 216.4h1.1v1.1h-1.1zM471.0 216.7h1.1v1.1h-1.1zM474.6 220.9h1.1v1.1h-1.1zM471.9 217.4h1.1v1.1h-1.1zM464.2 215.7h1.1v1.1h-1.1zM467.4 216.6h1.1v1.1h-1.1zM468.1 219.2h1.1v1.1h-1.1zM486.1 215.8h1.1v1.1h-1.1zM462.9 217.0h1.1v1.1h-1.1zM454.9 216.7h1.1v1.1h-1.1zM452.1 217.8h1.1v1.1h-1.1zM462.4 218.5h1.1v1.1h-1.1zM472.0 218.6h1.1v1.1h-1.1zM472.4 212.8h1.1v1.1h-1.1zM478.3 214.0h1.1v1.1h-1.1zM475.6 209.9h1.1v1.1h-1.1zM452.1 219.6h1.1v1.1h-1.1zM464.6 220.5h1.1v1.1h-1.1zM463.8 220.9h1.1v1.1h-1.1zM453.3 217.8h1.1v1.1h-1.1zM472.7 220.6h1.1v1.1h-1.1zM480.3 216.8h1.1v1.1h-1.1zM450.4 217.0h1.1v1.1h-1.1zM470.3 213.1h1.1v1.1h-1.1zM453.5 215.2h1.1v1.1h-1.1zM480.3 215.2h1.1v1.1h-1.1zM471.4 220.0h1.1v1.1h-1.1zM451.3 220.9h1.1v1.1h-1.1zM469.7 216.1h1.1v1.1h-1.1zM458.5 218.4h1.1v1.1h-1.1zM457.1 218.2h1.1v1.1h-1.1zM475.9 215.0h1.1v1.1h-1.1zM465.2 212.6h1.1v1.1h-1.1zM486.5 214.2h1.1v1.1h-1.1zM486.0 212.4h1.1v1.1h-1.1zM483.5 215.7h1.1v1.1h-1.1zM465.4 217.0h1.1v1.1h-1.1zM485.6 215.9h1.1v1.1h-1.1zM451.6 216.9h1.1v1.1h-1.1zM480.3 218.2h1.1v1.1h-1.1zM463.3 214.8h1.1v1.1h-1.1zM484.0 219.0h1.1v1.1h-1.1zM449.9 212.7h1.1v1.1h-1.1zM472.1 217.6h1.1v1.1h-1.1zM460.0 220.5h1.1v1.1h-1.1zM451.7 219.6h1.1v1.1h-1.1zM461.7 216.7h1.1v1.1h-1.1zM452.6 213.0h1.1v1.1h-1.1zM462.7 218.3h1.1v1.1h-1.1zM462.6 218.7h1.1v1.1h-1.1zM457.2 220.3h1.1v1.1h-1.1zM464.2 218.5h1.1v1.1h-1.1zM459.9 220.1h1.1v1.1h-1.1zM450.7 214.4h1.1v1.1h-1.1zM458.4 220.7h1.1v1.1h-1.1zM461.1 219.8h1.1v1.1h-1.1zM458.7 221.2h1.1v1.1h-1.1zM458.6 219.3h1.1v1.1h-1.1zM456.2 218.7h1.1v1.1h-1.1zM450.7 215.6h1.1v1.1h-1.1zM465.1 220.4h1.1v1.1h-1.1zM452.8 215.3h1.1v1.1h-1.1zM458.8 214.3h1.1v1.1h-1.1zM458.4 217.8h1.1v1.1h-1.1zM451.5 219.1h1.1v1.1h-1.1zM477.9 219.2h1.1v1.1h-1.1zM450.2 215.4h1.1v1.1h-1.1zM450.5 218.4h1.1v1.1h-1.1zM463.8 220.6h1.1v1.1h-1.1zM465.2 216.5h1.1v1.1h-1.1zM459.0 214.4h1.1v1.1h-1.1zM463.4 219.7h1.1v1.1h-1.1zM462.0 213.7h1.1v1.1h-1.1zM453.6 219.6h1.1v1.1h-1.1zM450.3 219.9h1.1v1.1h-1.1zM454.8 216.0h1.1v1.1h-1.1zM454.0 216.5h1.1v1.1h-1.1zM472.8 215.3h1.1v1.1h-1.1zM454.1 217.9h1.1v1.1h-1.1zM452.1 219.3h1.1v1.1h-1.1zM463.2 217.8h1.1v1.1h-1.1zM456.7 219.8h1.1v1.1h-1.1zM466.5 218.1h1.1v1.1h-1.1zM455.4 214.3h1.1v1.1h-1.1zM457.9 220.7h1.1v1.1h-1.1zM458.4 215.6h1.1v1.1h-1.1zM456.5 218.8h1.1v1.1h-1.1zM468.9 217.9h1.1v1.1h-1.1zM453.4 210.7h1.1v1.1h-1.1zM454.9 213.1h1.1v1.1h-1.1zM461.2 219.4h1.1v1.1h-1.1zM460.0 216.8h1.1v1.1h-1.1zM463.7 214.9h1.1v1.1h-1.1zM459.0 218.8h1.1v1.1h-1.1zM456.0 214.0h1.1v1.1h-1.1zM455.3 215.7h1.1v1.1h-1.1zM458.4 219.8h1.1v1.1h-1.1zM459.1 212.0h1.1v1.1h-1.1zM458.3 218.2h1.1v1.1h-1.1zM456.6 212.8h1.1v1.1h-1.1zM468.0 217.1h1.1v1.1h-1.1zM454.6 213.1h1.1v1.1h-1.1zM461.4 216.1h1.1v1.1h-1.1zM451.6 218.9h1.1v1.1h-1.1zM450.9 219.7h1.1v1.1h-1.1zM454.5 219.2h1.1v1.1h-1.1zM466.3 218.5h1.1v1.1h-1.1zM462.9 220.2h1.1v1.1h-1.1zM452.3 214.4h1.1v1.1h-1.1zM464.2 216.6h1.1v1.1h-1.1zM456.4 219.9h1.1v1.1h-1.1zM452.5 215.5h1.1v1.1h-1.1zM460.2 216.3h1.1v1.1h-1.1zM450.9 220.8h1.1v1.1h-1.1zM466.2 215.9h1.1v1.1h-1.1zM461.0 219.1h1.1v1.1h-1.1zM457.0 215.7h1.1v1.1h-1.1zM455.9 219.2h1.1v1.1h-1.1zM454.2 219.1h1.1v1.1h-1.1zM457.0 221.3h1.1v1.1h-1.1zM451.0 219.8h1.1v1.1h-1.1zM456.8 220.4h1.1v1.1h-1.1zM452.3 220.6h1.1v1.1h-1.1zM459.0 215.6h1.1v1.1h-1.1zM449.3 218.4h1.1v1.1h-1.1zM459.9 217.8h1.1v1.1h-1.1zM461.7 216.0h1.1v1.1h-1.1zM474.4 218.3h1.1v1.1h-1.1zM463.5 218.3h1.1v1.1h-1.1zM460.3 217.4h1.1v1.1h-1.1zM467.0 216.2h1.1v1.1h-1.1zM450.4 219.8h1.1v1.1h-1.1zM464.7 213.2h1.1v1.1h-1.1zM453.5 219.8h1.1v1.1h-1.1zM453.0 217.6h1.1v1.1h-1.1zM464.8 218.3h1.1v1.1h-1.1zM458.9 211.1h1.1v1.1h-1.1zM459.2 215.2h1.1v1.1h-1.1zM453.7 219.3h1.1v1.1h-1.1zM455.4 215.9h1.1v1.1h-1.1zM463.8 211.5h1.1v1.1h-1.1zM458.7 216.4h1.1v1.1h-1.1zM450.5 218.2h1.1v1.1h-1.1zM451.3 216.8h1.1v1.1h-1.1zM466.9 218.2h1.1v1.1h-1.1zM456.6 218.8h1.1v1.1h-1.1zM455.0 215.7h1.1v1.1h-1.1zM460.7 215.5h1.1v1.1h-1.1zM458.9 215.2h1.1v1.1h-1.1zM462.4 221.0h1.1v1.1h-1.1zM459.6 217.8h1.1v1.1h-1.1zM457.8 219.0h1.1v1.1h-1.1zM454.9 218.5h1.1v1.1h-1.1zM458.1 217.0h1.1v1.1h-1.1zM457.1 218.4h1.1v1.1h-1.1zM453.0 215.5h1.1v1.1h-1.1zM455.0 217.4h1.1v1.1h-1.1zM463.9 216.5h1.1v1.1h-1.1zM453.6 219.7h1.1v1.1h-1.1zM461.5 213.8h1.1v1.1h-1.1zM464.1 216.6h1.1v1.1h-1.1zM455.5 217.3h1.1v1.1h-1.1zM458.3 215.1h1.1v1.1h-1.1zM451.6 221.2h1.1v1.1h-1.1zM456.0 218.7h1.1v1.1h-1.1zM487.5 220.4h1.1v1.1h-1.1zM476.5 210.0h1.1v1.1h-1.1zM479.0 210.5h1.1v1.1h-1.1zM488.7 220.5h1.1v1.1h-1.1zM471.9 212.1h1.1v1.1h-1.1zM484.3 217.5h1.1v1.1h-1.1zM482.4 213.1h1.1v1.1h-1.1zM478.3 218.8h1.1v1.1h-1.1zM482.4 218.8h1.1v1.1h-1.1zM474.4 217.1h1.1v1.1h-1.1zM483.3 218.9h1.1v1.1h-1.1zM473.4 216.8h1.1v1.1h-1.1zM473.0 218.2h1.1v1.1h-1.1zM476.9 219.7h1.1v1.1h-1.1zM467.2 214.8h1.1v1.1h-1.1zM488.5 214.4h1.1v1.1h-1.1zM476.5 216.0h1.1v1.1h-1.1zM457.6 216.0h1.1v1.1h-1.1zM481.4 216.8h1.1v1.1h-1.1zM488.1 214.9h1.1v1.1h-1.1zM484.2 218.5h1.1v1.1h-1.1zM493.6 216.7h1.1v1.1h-1.1zM480.9 217.6h1.1v1.1h-1.1zM485.9 216.7h1.1v1.1h-1.1zM474.8 218.4h1.1v1.1h-1.1zM482.9 213.3h1.1v1.1h-1.1zM492.3 221.1h1.1v1.1h-1.1zM485.2 217.6h1.1v1.1h-1.1zM482.9 217.9h1.1v1.1h-1.1zM468.2 218.4h1.1v1.1h-1.1zM479.2 219.7h1.1v1.1h-1.1zM472.9 218.7h1.1v1.1h-1.1zM487.1 217.3h1.1v1.1h-1.1zM476.7 216.1h1.1v1.1h-1.1zM484.3 212.0h1.1v1.1h-1.1zM474.9 217.3h1.1v1.1h-1.1zM494.8 215.8h1.1v1.1h-1.1zM473.7 215.8h1.1v1.1h-1.1zM499.9 211.5h1.1v1.1h-1.1zM483.3 216.8h1.1v1.1h-1.1zM475.8 220.0h1.1v1.1h-1.1zM486.0 219.3h1.1v1.1h-1.1zM488.6 220.1h1.1v1.1h-1.1zM487.8 213.1h1.1v1.1h-1.1zM468.2 214.0h1.1v1.1h-1.1zM483.3 218.4h1.1v1.1h-1.1zM467.1 215.8h1.1v1.1h-1.1zM482.3 217.3h1.1v1.1h-1.1zM478.6 217.2h1.1v1.1h-1.1zM486.4 217.9h1.1v1.1h-1.1zM485.1 215.9h1.1v1.1h-1.1zM473.6 217.0h1.1v1.1h-1.1zM493.0 214.8h1.1v1.1h-1.1zM480.1 216.6h1.1v1.1h-1.1zM469.6 215.3h1.1v1.1h-1.1zM491.5 217.4h1.1v1.1h-1.1zM492.4 212.7h1.1v1.1h-1.1zM490.5 212.5h1.1v1.1h-1.1zM485.6 218.0h1.1v1.1h-1.1zM475.6 217.3h1.1v1.1h-1.1zM488.3 214.0h1.1v1.1h-1.1zM494.6 216.0h1.1v1.1h-1.1zM487.4 213.7h1.1v1.1h-1.1zM476.4 212.3h1.1v1.1h-1.1zM488.3 214.4h1.1v1.1h-1.1zM471.5 217.9h1.1v1.1h-1.1zM470.5 216.0h1.1v1.1h-1.1zM476.8 215.6h1.1v1.1h-1.1zM482.4 219.3h1.1v1.1h-1.1zM484.9 219.0h1.1v1.1h-1.1zM480.2 215.9h1.1v1.1h-1.1zM481.4 214.1h1.1v1.1h-1.1zM482.4 220.6h1.1v1.1h-1.1zM485.9 217.1h1.1v1.1h-1.1zM485.2 215.9h1.1v1.1h-1.1zM481.4 217.5h1.1v1.1h-1.1zM483.6 216.9h1.1v1.1h-1.1zM478.7 220.0h1.1v1.1h-1.1zM487.3 214.0h1.1v1.1h-1.1zM478.3 216.8h1.1v1.1h-1.1zM493.2 214.5h1.1v1.1h-1.1zM481.7 220.4h1.1v1.1h-1.1zM476.5 216.4h1.1v1.1h-1.1zM479.4 218.2h1.1v1.1h-1.1zM483.0 220.6h1.1v1.1h-1.1zM482.0 215.9h1.1v1.1h-1.1zM477.5 214.1h1.1v1.1h-1.1zM473.8 219.6h1.1v1.1h-1.1zM482.1 218.1h1.1v1.1h-1.1zM482.9 216.1h1.1v1.1h-1.1zM485.6 220.8h1.1v1.1h-1.1zM490.5 217.4h1.1v1.1h-1.1zM479.7 211.7h1.1v1.1h-1.1zM468.0 217.7h1.1v1.1h-1.1zM480.8 216.5h1.1v1.1h-1.1zM472.9 216.7h1.1v1.1h-1.1zM489.0 216.1h1.1v1.1h-1.1zM485.8 217.9h1.1v1.1h-1.1zM477.3 217.4h1.1v1.1h-1.1zM477.4 212.8h1.1v1.1h-1.1zM481.2 217.0h1.1v1.1h-1.1zM469.6 215.8h1.1v1.1h-1.1zM485.2 220.6h1.1v1.1h-1.1zM494.6 213.6h1.1v1.1h-1.1zM474.5 214.0h1.1v1.1h-1.1zM488.8 214.3h1.1v1.1h-1.1zM477.1 214.9h1.1v1.1h-1.1zM488.9 214.8h1.1v1.1h-1.1zM475.0 216.9h1.1v1.1h-1.1zM486.9 219.8h1.1v1.1h-1.1zM478.8 213.1h1.1v1.1h-1.1zM476.1 212.4h1.1v1.1h-1.1zM480.8 211.6h1.1v1.1h-1.1zM485.2 219.8h1.1v1.1h-1.1zM484.7 220.4h1.1v1.1h-1.1zM492.8 212.4h1.1v1.1h-1.1zM487.6 212.1h1.1v1.1h-1.1zM463.5 217.1h1.1v1.1h-1.1zM479.1 219.8h1.1v1.1h-1.1zM468.0 219.6h1.1v1.1h-1.1zM479.2 217.3h1.1v1.1h-1.1zM486.2 218.6h1.1v1.1h-1.1zM472.5 217.6h1.1v1.1h-1.1zM473.6 215.2h1.1v1.1h-1.1zM479.8 216.7h1.1v1.1h-1.1zM492.9 213.6h1.1v1.1h-1.1zM484.1 215.4h1.1v1.1h-1.1zM485.6 212.4h1.1v1.1h-1.1zM494.0 216.8h1.1v1.1h-1.1zM478.4 219.8h1.1v1.1h-1.1zM481.8 213.2h1.1v1.1h-1.1zM474.9 219.9h1.1v1.1h-1.1zM489.1 217.8h1.1v1.1h-1.1zM491.4 213.5h1.1v1.1h-1.1zM481.6 214.3h1.1v1.1h-1.1zM476.9 215.8h1.1v1.1h-1.1zM476.5 213.1h1.1v1.1h-1.1zM472.1 213.2h1.1v1.1h-1.1zM482.7 216.0h1.1v1.1h-1.1z"/>
<text x="0" y="0" font-size="12" text-anchor="middle" font-weight="normal" fill="#000" stroke="#000" stroke-width="0.1" transform="translate(360.0,51.9) rotate(-90)">CD3</text>
<text x="0" y="0" font-size="12" text-anchor="middle" font-weight="normal" fill="#000" stroke="#000" stroke-width="0.1" transform="translate(360.3,123.0) rotate(-90)">CD8</text>
<text x="0" y="0" font-size="12" text-anchor="middle" font-weight="normal" fill="#000" stroke="#000" stroke-width="0.1" transform="translate(361.0,188.8) rotate(-90)">CD4</text>
<text x="379.4" y="241.0" font-size="11.5" text-anchor="start" font-weight="normal" fill="#000" stroke="#000" stroke-width="0.1" >CCR4</text>
<line x1="432" y1="237.4" x2="509" y2="237.4" stroke="#222" stroke-width="1.4"/>
<path d="M508,234.9 L514,237.4 L508,239.9 Z" stroke="#222" stroke-width="0" fill="#222"/>
</svg></body></html>
